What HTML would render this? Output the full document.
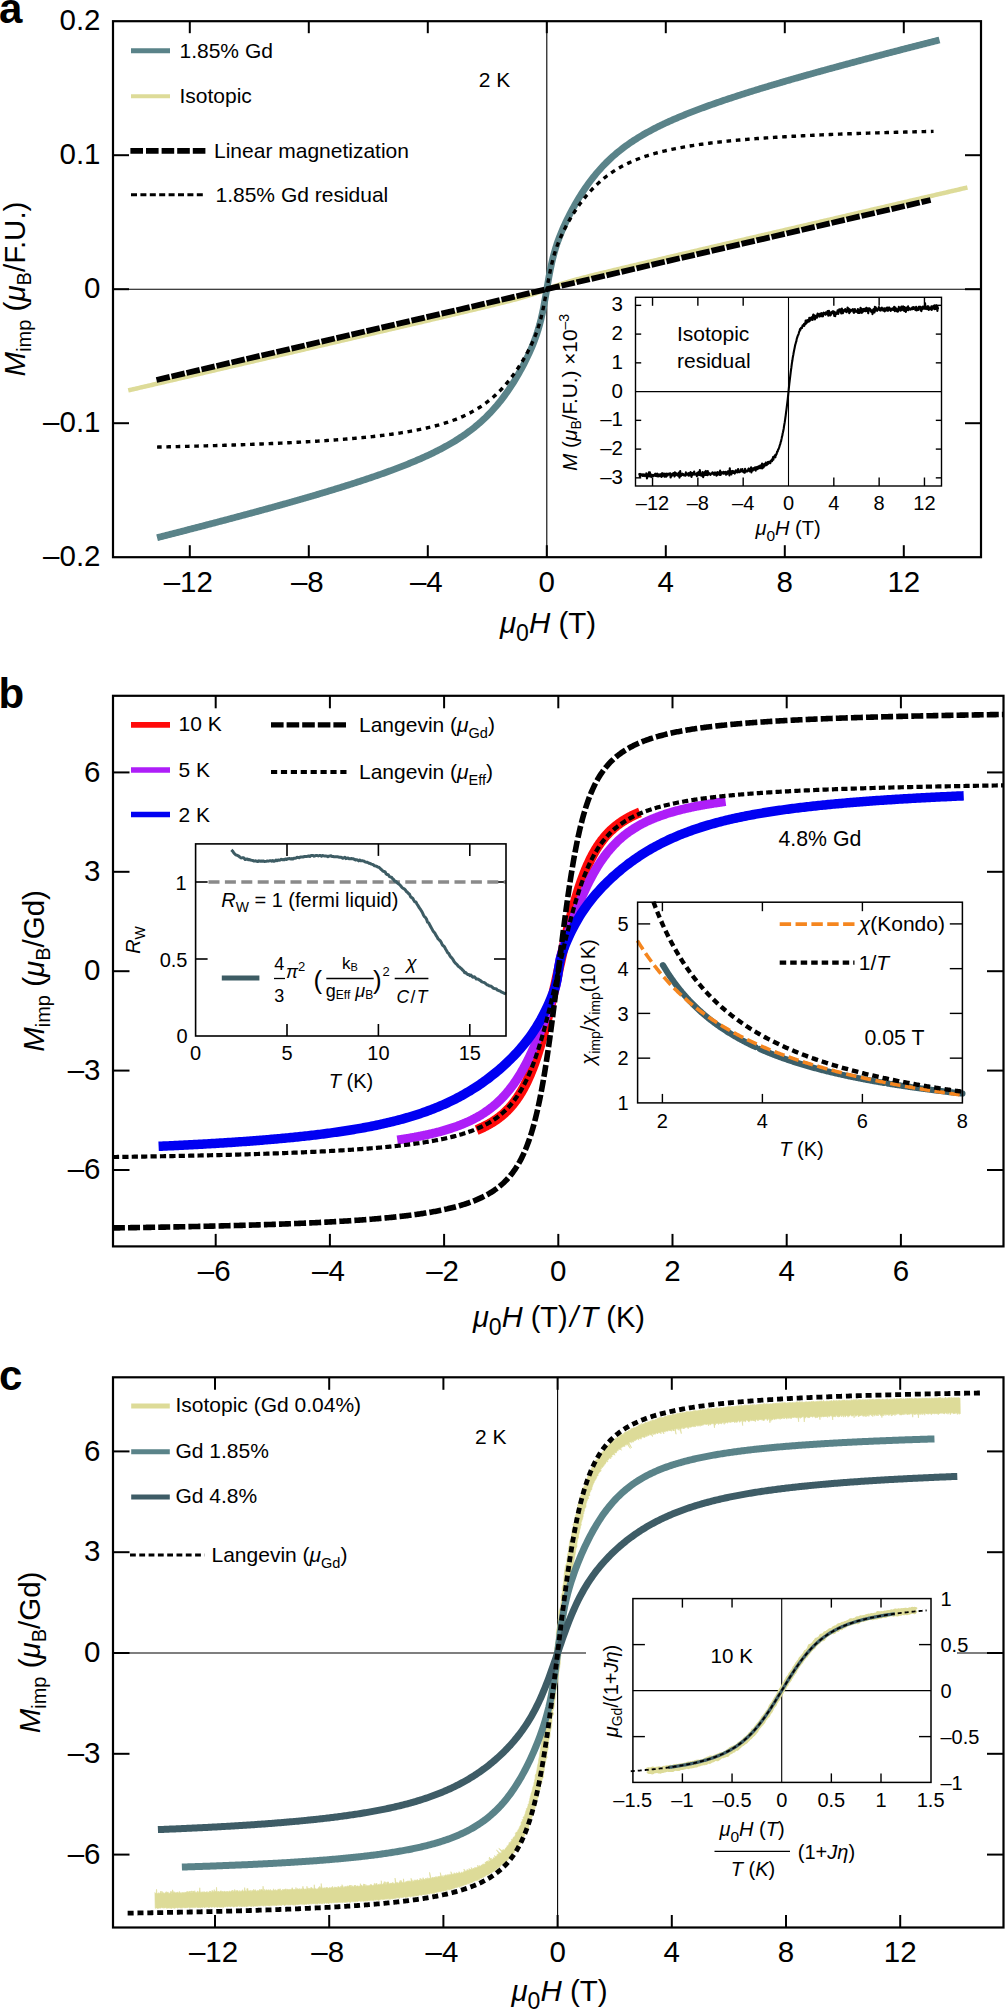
<!DOCTYPE html>
<html><head><meta charset="utf-8"><style>
html,body{margin:0;padding:0;background:#fff;}
svg{display:block;font-family:"Liberation Sans", sans-serif;}
</style></head><body>
<svg width="1005" height="2011" viewBox="0 0 1005 2011">
<rect width="1005" height="2011" fill="#fff"/>
<line x1="113" y1="289.2" x2="981" y2="289.2" stroke="#000" stroke-width="1.1" />
<line x1="546.8" y1="21.2" x2="546.8" y2="557.2" stroke="#000" stroke-width="1.1" />
<line x1="189.8" y1="557.2" x2="189.8" y2="545.2" stroke="#000" stroke-width="2" />
<line x1="189.8" y1="21.2" x2="189.8" y2="33.2" stroke="#000" stroke-width="2" />
<line x1="308.8" y1="557.2" x2="308.8" y2="545.2" stroke="#000" stroke-width="2" />
<line x1="308.8" y1="21.2" x2="308.8" y2="33.2" stroke="#000" stroke-width="2" />
<line x1="427.8" y1="557.2" x2="427.8" y2="545.2" stroke="#000" stroke-width="2" />
<line x1="427.8" y1="21.2" x2="427.8" y2="33.2" stroke="#000" stroke-width="2" />
<line x1="546.8" y1="557.2" x2="546.8" y2="545.2" stroke="#000" stroke-width="2" />
<line x1="546.8" y1="21.2" x2="546.8" y2="33.2" stroke="#000" stroke-width="2" />
<line x1="665.8" y1="557.2" x2="665.8" y2="545.2" stroke="#000" stroke-width="2" />
<line x1="665.8" y1="21.2" x2="665.8" y2="33.2" stroke="#000" stroke-width="2" />
<line x1="784.8" y1="557.2" x2="784.8" y2="545.2" stroke="#000" stroke-width="2" />
<line x1="784.8" y1="21.2" x2="784.8" y2="33.2" stroke="#000" stroke-width="2" />
<line x1="903.8" y1="557.2" x2="903.8" y2="545.2" stroke="#000" stroke-width="2" />
<line x1="903.8" y1="21.2" x2="903.8" y2="33.2" stroke="#000" stroke-width="2" />
<line x1="113" y1="423.2" x2="129" y2="423.2" stroke="#000" stroke-width="2" />
<line x1="981" y1="423.2" x2="965" y2="423.2" stroke="#000" stroke-width="2" />
<line x1="113" y1="289.2" x2="129" y2="289.2" stroke="#000" stroke-width="2" />
<line x1="981" y1="289.2" x2="965" y2="289.2" stroke="#000" stroke-width="2" />
<line x1="113" y1="155.2" x2="129" y2="155.2" stroke="#000" stroke-width="2" />
<line x1="981" y1="155.2" x2="965" y2="155.2" stroke="#000" stroke-width="2" />
<text x="188.3" y="592" font-size="29.5" text-anchor="middle" >&#8211;12</text>
<text x="307.3" y="592" font-size="29.5" text-anchor="middle" >&#8211;8</text>
<text x="426.3" y="592" font-size="29.5" text-anchor="middle" >&#8211;4</text>
<text x="546.8" y="592" font-size="29.5" text-anchor="middle" >0</text>
<text x="665.8" y="592" font-size="29.5" text-anchor="middle" >4</text>
<text x="784.8" y="592" font-size="29.5" text-anchor="middle" >8</text>
<text x="903.8" y="592" font-size="29.5" text-anchor="middle" >12</text>
<text x="100.5" y="30.4" font-size="29.5" text-anchor="end" >0.2</text>
<text x="100.5" y="164.4" font-size="29.5" text-anchor="end" >0.1</text>
<text x="100.5" y="298.4" font-size="29.5" text-anchor="end" >0</text>
<text x="100.5" y="432.4" font-size="29.5" text-anchor="end" >&#8211;0.1</text>
<text x="100.5" y="566.4" font-size="29.5" text-anchor="end" >&#8211;0.2</text>
<path d="M128.22,390.42 L129.9,390.03 L131.58,389.64 L133.26,389.25 L134.94,388.86 L136.63,388.46 L138.31,388.07 L139.99,387.68 L141.67,387.29 L143.35,386.9 L145.04,386.51 L146.72,386.12 L148.4,385.72 L150.08,385.33 L151.76,384.94 L153.45,384.55 L155.13,384.16 L156.81,383.77 L158.49,383.38 L160.17,382.98 L161.85,382.59 L163.54,382.2 L165.22,381.81 L166.9,381.42 L168.58,381.03 L170.26,380.64 L171.95,380.24 L173.63,379.85 L175.31,379.46 L176.99,379.07 L178.67,378.68 L180.36,378.29 L182.04,377.9 L183.72,377.5 L185.4,377.11 L187.08,376.72 L188.76,376.33 L190.45,375.94 L192.13,375.55 L193.81,375.16 L195.49,374.76 L197.17,374.37 L198.86,373.98 L200.54,373.59 L202.22,373.2 L203.9,372.81 L205.58,372.41 L207.26,372.02 L208.95,371.63 L210.63,371.24 L212.31,370.85 L213.99,370.46 L215.67,370.07 L217.36,369.67 L219.04,369.28 L220.72,368.89 L222.4,368.5 L224.08,368.11 L225.77,367.72 L227.45,367.32 L229.13,366.93 L230.81,366.54 L232.49,366.15 L234.17,365.76 L235.86,365.37 L237.54,364.97 L239.22,364.58 L240.9,364.19 L242.58,363.8 L244.27,363.41 L245.95,363.02 L247.63,362.62 L249.31,362.23 L250.99,361.84 L252.68,361.45 L254.36,361.06 L256.04,360.67 L257.72,360.27 L259.4,359.88 L261.08,359.49 L262.77,359.1 L264.45,358.71 L266.13,358.32 L267.81,357.92 L269.49,357.53 L271.18,357.14 L272.86,356.75 L274.54,356.36 L276.22,355.96 L277.9,355.57 L279.58,355.18 L281.27,354.79 L282.95,354.4 L284.63,354.01 L286.31,353.61 L287.99,353.22 L289.68,352.83 L291.36,352.44 L293.04,352.05 L294.72,351.65 L296.4,351.26 L298.09,350.87 L299.77,350.48 L301.45,350.09 L303.13,349.69 L304.81,349.3 L306.49,348.91 L308.18,348.52 L309.86,348.13 L311.54,347.73 L313.22,347.34 L314.9,346.95 L316.59,346.56 L318.27,346.16 L319.95,345.77 L321.63,345.38 L323.31,344.99 L324.99,344.6 L326.68,344.2 L328.36,343.81 L330.04,343.42 L331.72,343.03 L333.4,342.63 L335.09,342.24 L336.77,341.85 L338.45,341.46 L340.13,341.07 L341.81,340.67 L343.5,340.28 L345.18,339.89 L346.86,339.5 L348.54,339.1 L350.22,338.71 L351.9,338.32 L353.59,337.93 L355.27,337.53 L356.95,337.14 L358.63,336.75 L360.31,336.35 L362,335.96 L363.68,335.57 L365.36,335.18 L367.04,334.78 L368.72,334.39 L370.41,334 L372.09,333.6 L373.77,333.21 L375.45,332.82 L377.13,332.43 L378.81,332.03 L380.5,331.64 L382.18,331.25 L383.86,330.85 L385.54,330.46 L387.22,330.07 L388.91,329.67 L390.59,329.28 L392.27,328.89 L393.95,328.49 L395.63,328.1 L397.31,327.71 L399,327.31 L400.68,326.92 L402.36,326.52 L404.04,326.13 L405.72,325.74 L407.41,325.34 L409.09,324.95 L410.77,324.55 L412.45,324.16 L414.13,323.77 L415.82,323.37 L417.5,322.98 L419.18,322.58 L420.86,322.19 L422.54,321.79 L424.22,321.4 L425.91,321 L427.59,320.61 L429.27,320.21 L430.95,319.82 L432.63,319.42 L434.32,319.03 L436,318.63 L437.68,318.24 L439.36,317.84 L441.04,317.44 L442.73,317.05 L444.41,316.65 L446.09,316.25 L447.77,315.86 L449.45,315.46 L451.13,315.06 L452.82,314.66 L454.5,314.27 L456.18,313.87 L457.86,313.47 L459.54,313.07 L461.23,312.67 L462.91,312.27 L464.59,311.87 L466.27,311.47 L467.95,311.07 L469.63,310.67 L471.32,310.27 L473,309.87 L474.68,309.47 L476.36,309.07 L478.04,308.66 L479.73,308.26 L481.41,307.86 L483.09,307.45 L484.77,307.05 L486.45,306.64 L488.14,306.23 L489.82,305.82 L491.5,305.41 L493.18,305 L494.86,304.59 L496.54,304.18 L498.23,303.76 L499.91,303.35 L501.59,302.93 L503.27,302.51 L504.95,302.08 L506.64,301.66 L508.32,301.23 L510,300.8 L511.68,300.36 L513.36,299.92 L515.05,299.48 L516.73,299.03 L518.41,298.58 L520.09,298.11 L521.77,297.65 L523.45,297.17 L525.14,296.68 L526.82,296.18 L528.5,295.67 L530.18,295.15 L531.86,294.61 L533.55,294.06 L535.23,293.5 L536.91,292.92 L538.59,292.32 L540.27,291.71 L541.95,291.09 L543.64,290.46 L545.32,289.81 L547,289.12 L548.68,288.44 L550.36,287.79 L552.05,287.16 L553.73,286.54 L555.41,285.94 L557.09,285.34 L558.77,284.77 L560.46,284.2 L562.14,283.66 L563.82,283.12 L565.5,282.61 L567.18,282.1 L568.86,281.6 L570.55,281.12 L572.23,280.64 L573.91,280.17 L575.59,279.71 L577.27,279.26 L578.96,278.81 L580.64,278.37 L582.32,277.93 L584,277.5 L585.68,277.07 L587.36,276.64 L589.05,276.21 L590.73,275.79 L592.41,275.37 L594.09,274.95 L595.77,274.54 L597.46,274.12 L599.14,273.71 L600.82,273.3 L602.5,272.89 L604.18,272.48 L605.87,272.07 L607.55,271.66 L609.23,271.26 L610.91,270.85 L612.59,270.45 L614.27,270.04 L615.96,269.64 L617.64,269.24 L619.32,268.83 L621,268.43 L622.68,268.03 L624.37,267.63 L626.05,267.23 L627.73,266.83 L629.41,266.43 L631.09,266.03 L632.78,265.63 L634.46,265.23 L636.14,264.83 L637.82,264.44 L639.5,264.04 L641.18,263.64 L642.87,263.24 L644.55,262.85 L646.23,262.45 L647.91,262.05 L649.59,261.66 L651.28,261.26 L652.96,260.86 L654.64,260.47 L656.32,260.07 L658,259.67 L659.68,259.28 L661.37,258.88 L663.05,258.49 L664.73,258.09 L666.41,257.7 L668.09,257.3 L669.78,256.91 L671.46,256.51 L673.14,256.12 L674.82,255.72 L676.5,255.33 L678.19,254.93 L679.87,254.54 L681.55,254.15 L683.23,253.75 L684.91,253.36 L686.59,252.96 L688.28,252.57 L689.96,252.18 L691.64,251.78 L693.32,251.39 L695,250.99 L696.69,250.6 L698.37,250.21 L700.05,249.81 L701.73,249.42 L703.41,249.03 L705.1,248.63 L706.78,248.24 L708.46,247.85 L710.14,247.45 L711.82,247.06 L713.5,246.67 L715.19,246.27 L716.87,245.88 L718.55,245.49 L720.23,245.09 L721.91,244.7 L723.6,244.31 L725.28,243.92 L726.96,243.52 L728.64,243.13 L730.32,242.74 L732,242.34 L733.69,241.95 L735.37,241.56 L737.05,241.17 L738.73,240.77 L740.41,240.38 L742.1,239.99 L743.78,239.6 L745.46,239.2 L747.14,238.81 L748.82,238.42 L750.51,238.03 L752.19,237.63 L753.87,237.24 L755.55,236.85 L757.23,236.46 L758.91,236.06 L760.6,235.67 L762.28,235.28 L763.96,234.89 L765.64,234.49 L767.32,234.1 L769.01,233.71 L770.69,233.32 L772.37,232.93 L774.05,232.53 L775.73,232.14 L777.41,231.75 L779.1,231.36 L780.78,230.97 L782.46,230.57 L784.14,230.18 L785.82,229.79 L787.51,229.4 L789.19,229.01 L790.87,228.61 L792.55,228.22 L794.23,227.83 L795.92,227.44 L797.6,227.05 L799.28,226.65 L800.96,226.26 L802.64,225.87 L804.32,225.48 L806.01,225.09 L807.69,224.69 L809.37,224.3 L811.05,223.91 L812.73,223.52 L814.42,223.13 L816.1,222.73 L817.78,222.34 L819.46,221.95 L821.14,221.56 L822.83,221.17 L824.51,220.77 L826.19,220.38 L827.87,219.99 L829.55,219.6 L831.23,219.21 L832.92,218.82 L834.6,218.42 L836.28,218.03 L837.96,217.64 L839.64,217.25 L841.33,216.86 L843.01,216.47 L844.69,216.07 L846.37,215.68 L848.05,215.29 L849.73,214.9 L851.42,214.51 L853.1,214.12 L854.78,213.72 L856.46,213.33 L858.14,212.94 L859.83,212.55 L861.51,212.16 L863.19,211.77 L864.87,211.37 L866.55,210.98 L868.24,210.59 L869.92,210.2 L871.6,209.81 L873.28,209.42 L874.96,209.02 L876.64,208.63 L878.33,208.24 L880.01,207.85 L881.69,207.46 L883.37,207.07 L885.05,206.68 L886.74,206.28 L888.42,205.89 L890.1,205.5 L891.78,205.11 L893.46,204.72 L895.15,204.33 L896.83,203.93 L898.51,203.54 L900.19,203.15 L901.87,202.76 L903.55,202.37 L905.24,201.98 L906.92,201.59 L908.6,201.19 L910.28,200.8 L911.96,200.41 L913.65,200.02 L915.33,199.63 L917.01,199.24 L918.69,198.84 L920.37,198.45 L922.05,198.06 L923.74,197.67 L925.42,197.28 L927.1,196.89 L928.78,196.5 L930.46,196.1 L932.15,195.71 L933.83,195.32 L935.51,194.93 L937.19,194.54 L938.87,194.15 L940.56,193.76 L942.24,193.36 L943.92,192.97 L945.6,192.58 L947.28,192.19 L948.96,191.8 L950.65,191.41 L952.33,191.02 L954.01,190.63 L955.69,190.23 L957.37,189.84 L959.06,189.45 L960.74,189.06 L962.42,188.67 L964.1,188.28 L965.78,187.89 L967.46,187.49" fill="none" stroke="#dddb98" stroke-width="4.5" stroke-linecap="butt" stroke-linejoin="round" />
<path d="M157.07,537.69 L158.38,537.36 L159.69,537.03 L160.99,536.7 L162.3,536.36 L163.61,536.03 L164.91,535.7 L166.22,535.36 L167.52,535.03 L168.83,534.7 L170.14,534.36 L171.44,534.03 L172.75,533.69 L174.06,533.36 L175.36,533.02 L176.67,532.69 L177.97,532.35 L179.28,532.02 L180.59,531.68 L181.89,531.34 L183.2,531.01 L184.51,530.67 L185.81,530.34 L187.12,530 L188.42,529.66 L189.73,529.32 L191.04,528.99 L192.34,528.65 L193.65,528.31 L194.96,527.97 L196.26,527.63 L197.57,527.29 L198.87,526.95 L200.18,526.61 L201.49,526.27 L202.79,525.93 L204.1,525.59 L205.41,525.25 L206.71,524.91 L208.02,524.57 L209.32,524.23 L210.63,523.89 L211.94,523.54 L213.24,523.2 L214.55,522.86 L215.85,522.52 L217.16,522.17 L218.47,521.83 L219.77,521.49 L221.08,521.14 L222.39,520.8 L223.69,520.45 L225,520.11 L226.3,519.76 L227.61,519.41 L228.92,519.07 L230.22,518.72 L231.53,518.37 L232.84,518.03 L234.14,517.68 L235.45,517.33 L236.75,516.98 L238.06,516.63 L239.37,516.28 L240.67,515.93 L241.98,515.58 L243.29,515.23 L244.59,514.88 L245.9,514.53 L247.2,514.18 L248.51,513.83 L249.82,513.47 L251.12,513.12 L252.43,512.77 L253.74,512.41 L255.04,512.06 L256.35,511.7 L257.65,511.35 L258.96,510.99 L260.27,510.64 L261.57,510.28 L262.88,509.92 L264.18,509.57 L265.49,509.21 L266.8,508.85 L268.1,508.49 L269.41,508.13 L270.72,507.77 L272.02,507.41 L273.33,507.05 L274.63,506.69 L275.94,506.32 L277.25,505.96 L278.55,505.6 L279.86,505.23 L281.17,504.87 L282.47,504.5 L283.78,504.14 L285.08,503.77 L286.39,503.4 L287.7,503.04 L289,502.67 L290.31,502.3 L291.62,501.93 L292.92,501.56 L294.23,501.19 L295.53,500.81 L296.84,500.44 L298.15,500.07 L299.45,499.69 L300.76,499.32 L302.07,498.94 L303.37,498.57 L304.68,498.19 L305.98,497.81 L307.29,497.43 L308.6,497.05 L309.9,496.67 L311.21,496.29 L312.52,495.91 L313.82,495.53 L315.13,495.14 L316.43,494.76 L317.74,494.37 L319.05,493.99 L320.35,493.6 L321.66,493.21 L322.96,492.82 L324.27,492.43 L325.58,492.04 L326.88,491.64 L328.19,491.25 L329.5,490.86 L330.8,490.46 L332.11,490.06 L333.41,489.66 L334.72,489.27 L336.03,488.86 L337.33,488.46 L338.64,488.06 L339.95,487.66 L341.25,487.25 L342.56,486.84 L343.86,486.43 L345.17,486.03 L346.48,485.61 L347.78,485.2 L349.09,484.79 L350.4,484.37 L351.7,483.96 L353.01,483.54 L354.31,483.12 L355.62,482.7 L356.93,482.27 L358.23,481.85 L359.54,481.42 L360.85,481 L362.15,480.57 L363.46,480.13 L364.76,479.7 L366.07,479.27 L367.38,478.83 L368.68,478.39 L369.99,477.95 L371.29,477.5 L372.6,477.06 L373.91,476.61 L375.21,476.16 L376.52,475.71 L377.83,475.26 L379.13,474.8 L380.44,474.34 L381.74,473.88 L383.05,473.42 L384.36,472.95 L385.66,472.48 L386.97,472.01 L388.28,471.53 L389.58,471.06 L390.89,470.58 L392.19,470.09 L393.5,469.61 L394.81,469.12 L396.11,468.62 L397.42,468.13 L398.73,467.63 L400.03,467.13 L401.34,466.62 L402.64,466.11 L403.95,465.6 L405.26,465.08 L406.56,464.56 L407.87,464.03 L409.18,463.5 L410.48,462.97 L411.79,462.43 L413.09,461.89 L414.4,461.34 L415.71,460.79 L417.01,460.23 L418.32,459.67 L419.62,459.1 L420.93,458.52 L422.24,457.95 L423.54,457.36 L424.85,456.77 L426.16,456.17 L427.46,455.57 L428.77,454.96 L430.07,454.35 L431.38,453.72 L432.69,453.09 L433.99,452.46 L435.3,451.81 L436.61,451.16 L437.91,450.5 L439.22,449.83 L440.52,449.15 L441.83,448.46 L443.14,447.77 L444.44,447.06 L445.75,446.35 L447.06,445.62 L448.36,444.89 L449.67,444.14 L450.97,443.38 L452.28,442.61 L453.59,441.83 L454.89,441.03 L456.2,440.23 L457.51,439.41 L458.81,438.57 L460.12,437.72 L461.42,436.86 L462.73,435.98 L464.04,435.09 L465.34,434.18 L466.65,433.25 L467.96,432.3 L469.26,431.34 L470.57,430.36 L471.87,429.35 L473.18,428.33 L474.49,427.29 L475.79,426.22 L477.1,425.14 L478.4,424.03 L479.71,422.89 L481.02,421.73 L482.32,420.55 L483.63,419.34 L484.94,418.1 L486.24,416.83 L487.55,415.54 L488.85,414.21 L490.16,412.86 L491.47,411.47 L492.77,410.05 L494.08,408.59 L495.39,407.11 L496.69,405.58 L498,404.02 L499.3,402.42 L500.61,400.79 L501.92,399.11 L503.22,397.4 L504.53,395.64 L505.84,393.84 L507.14,392 L508.45,390.11 L509.75,388.18 L511.06,386.2 L512.37,384.17 L513.67,382.1 L514.98,379.98 L516.29,377.8 L517.59,375.58 L518.9,373.3 L520.2,370.96 L521.51,368.57 L522.82,366.11 L524.12,363.59 L525.43,361.01 L526.73,358.35 L528.04,355.61 L529.35,352.78 L530.65,349.85 L531.96,346.8 L533.27,343.61 L534.57,340.24 L535.88,336.67 L537.18,332.82 L538.49,328.62 L539.8,323.99 L541.1,318.82 L542.41,313.02 L543.72,306.56 L545.02,299.47 L546.33,291.96 L547.63,284.33 L548.94,276.91 L550.25,269.98 L551.55,263.7 L552.86,258.08 L554.17,253.07 L555.47,248.57 L556.78,244.48 L558.08,240.72 L559.39,237.2 L560.7,233.89 L562,230.74 L563.31,227.73 L564.62,224.83 L565.92,222.02 L567.23,219.31 L568.53,216.67 L569.84,214.1 L571.15,211.6 L572.45,209.16 L573.76,206.79 L575.06,204.47 L576.37,202.2 L577.68,199.99 L578.98,197.83 L580.29,195.72 L581.6,193.66 L582.9,191.65 L584.21,189.68 L585.51,187.76 L586.82,185.89 L588.13,184.06 L589.43,182.27 L590.74,180.52 L592.05,178.82 L593.35,177.15 L594.66,175.53 L595.96,173.94 L597.27,172.39 L598.58,170.88 L599.88,169.4 L601.19,167.95 L602.5,166.54 L603.8,165.17 L605.11,163.82 L606.41,162.5 L607.72,161.21 L609.03,159.96 L610.33,158.73 L611.64,157.52 L612.95,156.34 L614.25,155.19 L615.56,154.06 L616.86,152.96 L618.17,151.88 L619.48,150.82 L620.78,149.78 L622.09,148.77 L623.4,147.77 L624.7,146.79 L626.01,145.83 L627.31,144.89 L628.62,143.97 L629.93,143.06 L631.23,142.17 L632.54,141.3 L633.84,140.44 L635.15,139.59 L636.46,138.76 L637.76,137.95 L639.07,137.14 L640.38,136.35 L641.68,135.57 L642.99,134.81 L644.29,134.05 L645.6,133.31 L646.91,132.58 L648.21,131.85 L649.52,131.14 L650.83,130.44 L652.13,129.75 L653.44,129.06 L654.74,128.39 L656.05,127.72 L657.36,127.06 L658.66,126.41 L659.97,125.77 L661.28,125.13 L662.58,124.5 L663.89,123.88 L665.19,123.27 L666.5,122.66 L667.81,122.06 L669.11,121.46 L670.42,120.88 L671.73,120.29 L673.03,119.72 L674.34,119.14 L675.64,118.58 L676.95,118.02 L678.26,117.46 L679.56,116.91 L680.87,116.36 L682.17,115.82 L683.48,115.28 L684.79,114.75 L686.09,114.22 L687.4,113.7 L688.71,113.18 L690.01,112.66 L691.32,112.15 L692.62,111.64 L693.93,111.13 L695.24,110.63 L696.54,110.13 L697.85,109.64 L699.16,109.15 L700.46,108.66 L701.77,108.17 L703.07,107.69 L704.38,107.21 L705.69,106.73 L706.99,106.26 L708.3,105.79 L709.61,105.32 L710.91,104.86 L712.22,104.39 L713.52,103.93 L714.83,103.47 L716.14,103.02 L717.44,102.56 L718.75,102.11 L720.06,101.66 L721.36,101.22 L722.67,100.77 L723.97,100.33 L725.28,99.89 L726.59,99.45 L727.89,99.01 L729.2,98.58 L730.51,98.15 L731.81,97.72 L733.12,97.29 L734.42,96.86 L735.73,96.43 L737.04,96.01 L738.34,95.59 L739.65,95.16 L740.95,94.75 L742.26,94.33 L743.57,93.91 L744.87,93.5 L746.18,93.08 L747.49,92.67 L748.79,92.26 L750.1,91.85 L751.4,91.44 L752.71,91.04 L754.02,90.63 L755.32,90.23 L756.63,89.83 L757.94,89.42 L759.24,89.02 L760.55,88.62 L761.85,88.23 L763.16,87.83 L764.47,87.43 L765.77,87.04 L767.08,86.65 L768.39,86.25 L769.69,85.86 L771,85.47 L772.3,85.08 L773.61,84.69 L774.92,84.31 L776.22,83.92 L777.53,83.54 L778.84,83.15 L780.14,82.77 L781.45,82.38 L782.75,82 L784.06,81.62 L785.37,81.24 L786.67,80.86 L787.98,80.48 L789.28,80.11 L790.59,79.73 L791.9,79.35 L793.2,78.98 L794.51,78.6 L795.82,78.23 L797.12,77.86 L798.43,77.48 L799.73,77.11 L801.04,76.74 L802.35,76.37 L803.65,76 L804.96,75.63 L806.27,75.26 L807.57,74.89 L808.88,74.53 L810.18,74.16 L811.49,73.8 L812.8,73.43 L814.1,73.07 L815.41,72.7 L816.72,72.34 L818.02,71.98 L819.33,71.61 L820.63,71.25 L821.94,70.89 L823.25,70.53 L824.55,70.17 L825.86,69.81 L827.17,69.45 L828.47,69.09 L829.78,68.73 L831.08,68.38 L832.39,68.02 L833.7,67.66 L835,67.31 L836.31,66.95 L837.61,66.6 L838.92,66.24 L840.23,65.89 L841.53,65.53 L842.84,65.18 L844.15,64.83 L845.45,64.48 L846.76,64.12 L848.06,63.77 L849.37,63.42 L850.68,63.07 L851.98,62.72 L853.29,62.37 L854.6,62.02 L855.9,61.67 L857.21,61.32 L858.51,60.97 L859.82,60.62 L861.13,60.28 L862.43,59.93 L863.74,59.58 L865.05,59.24 L866.35,58.89 L867.66,58.54 L868.96,58.2 L870.27,57.85 L871.58,57.51 L872.88,57.16 L874.19,56.82 L875.5,56.48 L876.8,56.13 L878.11,55.79 L879.41,55.45 L880.72,55.1 L882.03,54.76 L883.33,54.42 L884.64,54.08 L885.95,53.74 L887.25,53.39 L888.56,53.05 L889.86,52.71 L891.17,52.37 L892.48,52.03 L893.78,51.69 L895.09,51.35 L896.39,51.01 L897.7,50.67 L899.01,50.34 L900.31,50 L901.62,49.66 L902.93,49.32 L904.23,48.98 L905.54,48.65 L906.84,48.31 L908.15,47.97 L909.46,47.63 L910.76,47.3 L912.07,46.96 L913.38,46.63 L914.68,46.29 L915.99,45.95 L917.29,45.62 L918.6,45.28 L919.91,44.95 L921.21,44.61 L922.52,44.28 L923.83,43.95 L925.13,43.61 L926.44,43.28 L927.74,42.94 L929.05,42.61 L930.36,42.28 L931.66,41.94 L932.97,41.61 L934.28,41.28 L935.58,40.95 L936.89,40.61 L938.19,40.28 L939.5,39.95" fill="none" stroke="#5a8389" stroke-width="6.8" stroke-linecap="butt" stroke-linejoin="round" />
<path d="M156.48,379.95 L930.58,199.97" fill="none" stroke="#000" stroke-width="5.8" stroke-linecap="butt" stroke-linejoin="round" stroke-dasharray="13.6 1.8" />
<path d="M157.07,447.08 L158.37,447.05 L159.67,447.02 L160.96,446.99 L162.26,446.97 L163.56,446.94 L164.85,446.91 L166.15,446.88 L167.45,446.85 L168.74,446.82 L170.04,446.79 L171.33,446.76 L172.63,446.73 L173.93,446.7 L175.22,446.66 L176.52,446.63 L177.82,446.6 L179.11,446.57 L180.41,446.54 L181.7,446.51 L183,446.47 L184.3,446.44 L185.59,446.41 L186.89,446.38 L188.19,446.34 L189.48,446.31 L190.78,446.27 L192.07,446.24 L193.37,446.21 L194.67,446.17 L195.96,446.14 L197.26,446.1 L198.56,446.07 L199.85,446.03 L201.15,446 L202.44,445.96 L203.74,445.92 L205.04,445.89 L206.33,445.85 L207.63,445.81 L208.93,445.77 L210.22,445.74 L211.52,445.7 L212.82,445.66 L214.11,445.62 L215.41,445.58 L216.7,445.54 L218,445.5 L219.3,445.46 L220.59,445.42 L221.89,445.38 L223.19,445.34 L224.48,445.3 L225.78,445.26 L227.07,445.22 L228.37,445.18 L229.67,445.13 L230.96,445.09 L232.26,445.05 L233.56,445 L234.85,444.96 L236.15,444.91 L237.44,444.87 L238.74,444.83 L240.04,444.78 L241.33,444.73 L242.63,444.69 L243.93,444.64 L245.22,444.59 L246.52,444.55 L247.81,444.5 L249.11,444.45 L250.41,444.4 L251.7,444.35 L253,444.3 L254.3,444.25 L255.59,444.2 L256.89,444.15 L258.19,444.1 L259.48,444.05 L260.78,444 L262.07,443.94 L263.37,443.89 L264.67,443.84 L265.96,443.78 L267.26,443.73 L268.56,443.67 L269.85,443.62 L271.15,443.56 L272.44,443.5 L273.74,443.45 L275.04,443.39 L276.33,443.33 L277.63,443.27 L278.93,443.21 L280.22,443.15 L281.52,443.09 L282.81,443.03 L284.11,442.97 L285.41,442.9 L286.7,442.84 L288,442.78 L289.3,442.71 L290.59,442.65 L291.89,442.58 L293.18,442.52 L294.48,442.45 L295.78,442.38 L297.07,442.31 L298.37,442.24 L299.67,442.17 L300.96,442.1 L302.26,442.03 L303.56,441.96 L304.85,441.88 L306.15,441.81 L307.44,441.74 L308.74,441.66 L310.04,441.58 L311.33,441.51 L312.63,441.43 L313.93,441.35 L315.22,441.27 L316.52,441.19 L317.81,441.11 L319.11,441.03 L320.41,440.94 L321.7,440.86 L323,440.77 L324.3,440.69 L325.59,440.6 L326.89,440.51 L328.18,440.42 L329.48,440.33 L330.78,440.24 L332.07,440.15 L333.37,440.05 L334.67,439.96 L335.96,439.86 L337.26,439.77 L338.55,439.67 L339.85,439.57 L341.15,439.47 L342.44,439.36 L343.74,439.26 L345.04,439.16 L346.33,439.05 L347.63,438.94 L348.93,438.83 L350.22,438.72 L351.52,438.61 L352.81,438.5 L354.11,438.38 L355.41,438.27 L356.7,438.15 L358,438.03 L359.3,437.91 L360.59,437.78 L361.89,437.66 L363.18,437.53 L364.48,437.4 L365.78,437.27 L367.07,437.14 L368.37,437.01 L369.67,436.87 L370.96,436.73 L372.26,436.59 L373.55,436.45 L374.85,436.31 L376.15,436.16 L377.44,436.01 L378.74,435.86 L380.04,435.71 L381.33,435.55 L382.63,435.39 L383.92,435.23 L385.22,435.07 L386.52,434.9 L387.81,434.74 L389.11,434.56 L390.41,434.39 L391.7,434.21 L393,434.03 L394.3,433.85 L395.59,433.66 L396.89,433.47 L398.18,433.28 L399.48,433.09 L400.78,432.89 L402.07,432.68 L403.37,432.48 L404.67,432.27 L405.96,432.05 L407.26,431.83 L408.55,431.61 L409.85,431.38 L411.15,431.15 L412.44,430.92 L413.74,430.68 L415.04,430.43 L416.33,430.18 L417.63,429.93 L418.92,429.67 L420.22,429.41 L421.52,429.14 L422.81,428.86 L424.11,428.58 L425.41,428.29 L426.7,428 L428,427.7 L429.29,427.39 L430.59,427.08 L431.89,426.76 L433.18,426.43 L434.48,426.1 L435.78,425.76 L437.07,425.41 L438.37,425.05 L439.67,424.69 L440.96,424.31 L442.26,423.93 L443.55,423.54 L444.85,423.14 L446.15,422.72 L447.44,422.3 L448.74,421.87 L450.04,421.43 L451.33,420.97 L452.63,420.51 L453.92,420.03 L455.22,419.54 L456.52,419.04 L457.81,418.52 L459.11,417.99 L460.41,417.45 L461.7,416.89 L463,416.32 L464.29,415.73 L465.59,415.12 L466.89,414.5 L468.18,413.86 L469.48,413.2 L470.78,412.52 L472.07,411.82 L473.37,411.11 L474.66,410.37 L475.96,409.61 L477.26,408.83 L478.55,408.03 L479.85,407.2 L481.15,406.35 L482.44,405.47 L483.74,404.57 L485.04,403.64 L486.33,402.68 L487.63,401.7 L488.92,400.68 L490.22,399.64 L491.52,398.56 L492.81,397.45 L494.11,396.31 L495.41,395.13 L496.7,393.92 L498,392.67 L499.29,391.39 L500.59,390.07 L501.89,388.71 L503.18,387.31 L504.48,385.87 L505.78,384.38 L507.07,382.86 L508.37,381.29 L509.66,379.68 L510.96,378.02 L512.26,376.31 L513.55,374.56 L514.85,372.76 L516.15,370.91 L517.44,369.01 L518.74,367.05 L520.03,365.04 L521.33,362.98 L522.63,360.85 L523.92,358.66 L525.22,356.41 L526.52,354.08 L527.81,351.68 L529.11,349.19 L530.41,346.6 L531.7,343.9 L533,341.07 L534.29,338.07 L535.59,334.87 L536.89,331.42 L538.18,327.64 L539.48,323.46 L540.78,318.77 L542.07,313.49 L543.37,307.54 L544.66,300.97 L545.96,293.91 L547.26,286.63 L548.55,279.47 L549.85,272.73 L551.15,266.6 L552.44,261.12 L553.74,256.26 L555.03,251.94 L556.33,248.06 L557.63,244.52 L558.92,241.25 L560.22,238.2 L561.52,235.32 L562.81,232.58 L564.11,229.96 L565.4,227.45 L566.7,225.02 L568,222.67 L569.29,220.4 L570.59,218.19 L571.89,216.05 L573.18,213.96 L574.48,211.94 L575.78,209.96 L577.07,208.05 L578.37,206.18 L579.66,204.37 L580.96,202.6 L582.26,200.88 L583.55,199.21 L584.85,197.58 L586.15,196 L587.44,194.46 L588.74,192.97 L590.03,191.51 L591.33,190.1 L592.63,188.73 L593.92,187.4 L595.22,186.1 L596.52,184.84 L597.81,183.62 L599.11,182.43 L600.4,181.28 L601.7,180.16 L603,179.08 L604.29,178.02 L605.59,177 L606.89,176 L608.18,175.04 L609.48,174.1 L610.77,173.19 L612.07,172.31 L613.37,171.45 L614.66,170.61 L615.96,169.8 L617.26,169.01 L618.55,168.25 L619.85,167.51 L621.15,166.78 L622.44,166.08 L623.74,165.4 L625.03,164.74 L626.33,164.09 L627.63,163.46 L628.92,162.85 L630.22,162.26 L631.52,161.68 L632.81,161.12 L634.11,160.57 L635.4,160.03 L636.7,159.51 L638,159.01 L639.29,158.51 L640.59,158.03 L641.89,157.56 L643.18,157.1 L644.48,156.66 L645.77,156.22 L647.07,155.8 L648.37,155.38 L649.66,154.98 L650.96,154.58 L652.26,154.2 L653.55,153.82 L654.85,153.45 L656.14,153.09 L657.44,152.74 L658.74,152.4 L660.03,152.06 L661.33,151.73 L662.63,151.41 L663.92,151.1 L665.22,150.79 L666.52,150.49 L667.81,150.19 L669.11,149.9 L670.4,149.62 L671.7,149.34 L673,149.07 L674.29,148.81 L675.59,148.55 L676.89,148.29 L678.18,148.04 L679.48,147.79 L680.77,147.55 L682.07,147.32 L683.37,147.08 L684.66,146.86 L685.96,146.63 L687.26,146.41 L688.55,146.2 L689.85,145.99 L691.14,145.78 L692.44,145.57 L693.74,145.37 L695.03,145.18 L696.33,144.98 L697.63,144.79 L698.92,144.6 L700.22,144.42 L701.51,144.24 L702.81,144.06 L704.11,143.89 L705.4,143.71 L706.7,143.54 L708,143.38 L709.29,143.21 L710.59,143.05 L711.89,142.89 L713.18,142.74 L714.48,142.58 L715.77,142.43 L717.07,142.28 L718.37,142.14 L719.66,141.99 L720.96,141.85 L722.26,141.71 L723.55,141.57 L724.85,141.43 L726.14,141.3 L727.44,141.16 L728.74,141.03 L730.03,140.91 L731.33,140.78 L732.63,140.65 L733.92,140.53 L735.22,140.41 L736.51,140.29 L737.81,140.17 L739.11,140.05 L740.4,139.94 L741.7,139.82 L743,139.71 L744.29,139.6 L745.59,139.49 L746.88,139.38 L748.18,139.28 L749.48,139.17 L750.77,139.07 L752.07,138.96 L753.37,138.86 L754.66,138.76 L755.96,138.66 L757.26,138.57 L758.55,138.47 L759.85,138.37 L761.14,138.28 L762.44,138.19 L763.74,138.09 L765.03,138 L766.33,137.91 L767.63,137.83 L768.92,137.74 L770.22,137.65 L771.51,137.57 L772.81,137.48 L774.11,137.4 L775.4,137.31 L776.7,137.23 L778,137.15 L779.29,137.07 L780.59,136.99 L781.88,136.92 L783.18,136.84 L784.48,136.76 L785.77,136.69 L787.07,136.61 L788.37,136.54 L789.66,136.46 L790.96,136.39 L792.25,136.32 L793.55,136.25 L794.85,136.18 L796.14,136.11 L797.44,136.04 L798.74,135.97 L800.03,135.9 L801.33,135.84 L802.63,135.77 L803.92,135.71 L805.22,135.64 L806.51,135.58 L807.81,135.51 L809.11,135.45 L810.4,135.39 L811.7,135.33 L813,135.27 L814.29,135.21 L815.59,135.15 L816.88,135.09 L818.18,135.03 L819.48,134.97 L820.77,134.91 L822.07,134.86 L823.37,134.8 L824.66,134.74 L825.96,134.69 L827.25,134.63 L828.55,134.58 L829.85,134.53 L831.14,134.47 L832.44,134.42 L833.74,134.37 L835.03,134.32 L836.33,134.26 L837.62,134.21 L838.92,134.16 L840.22,134.11 L841.51,134.06 L842.81,134.01 L844.11,133.96 L845.4,133.92 L846.7,133.87 L848,133.82 L849.29,133.77 L850.59,133.73 L851.88,133.68 L853.18,133.63 L854.48,133.59 L855.77,133.54 L857.07,133.5 L858.37,133.45 L859.66,133.41 L860.96,133.37 L862.25,133.32 L863.55,133.28 L864.85,133.24 L866.14,133.19 L867.44,133.15 L868.74,133.11 L870.03,133.07 L871.33,133.03 L872.62,132.99 L873.92,132.95 L875.22,132.91 L876.51,132.87 L877.81,132.83 L879.11,132.79 L880.4,132.75 L881.7,132.71 L882.99,132.67 L884.29,132.64 L885.59,132.6 L886.88,132.56 L888.18,132.52 L889.48,132.49 L890.77,132.45 L892.07,132.42 L893.37,132.38 L894.66,132.34 L895.96,132.31 L897.25,132.27 L898.55,132.24 L899.85,132.2 L901.14,132.17 L902.44,132.14 L903.74,132.1 L905.03,132.07 L906.33,132.03 L907.62,132 L908.92,131.97 L910.22,131.94 L911.51,131.9 L912.81,131.87 L914.11,131.84 L915.4,131.81 L916.7,131.78 L917.99,131.74 L919.29,131.71 L920.59,131.68 L921.88,131.65 L923.18,131.62 L924.48,131.59 L925.77,131.56 L927.07,131.53 L928.36,131.5 L929.66,131.47 L930.96,131.44 L932.25,131.41 L933.55,131.39" fill="none" stroke="#000" stroke-width="3.4" stroke-linecap="butt" stroke-linejoin="round" stroke-dasharray="4.6 4.7" />
<path d="M131,50.8 L170,50.8" fill="none" stroke="#5a8389" stroke-width="5" stroke-linecap="butt" stroke-linejoin="round" />
<path d="M131,96.2 L170,96.2" fill="none" stroke="#dddb98" stroke-width="4" stroke-linecap="butt" stroke-linejoin="round" />
<path d="M130.4,150.9 L206,150.9" fill="none" stroke="#000" stroke-width="5.6" stroke-linecap="butt" stroke-linejoin="round" stroke-dasharray="12.6 3" />
<path d="M131,194.8 L204,194.8" fill="none" stroke="#000" stroke-width="3" stroke-linecap="butt" stroke-linejoin="round" stroke-dasharray="6 3.4" />
<text x="179.5" y="57.5" font-size="21" text-anchor="start" >1.85% Gd</text>
<text x="179.5" y="103" font-size="21" text-anchor="start" >Isotopic</text>
<text x="214" y="157.5" font-size="21" text-anchor="start" >Linear magnetization</text>
<text x="215.5" y="201.5" font-size="21" text-anchor="start" >1.85% Gd residual</text>
<text x="478.8" y="87" font-size="21" text-anchor="start" >2 K</text>
<rect x="113" y="21.2" width="868" height="536" fill="none" stroke="#000" stroke-width="2.2"/>
<text x="548" y="633" font-size="29.5" text-anchor="middle" ><tspan font-style="italic">&#956;</tspan><tspan font-size="23" dy="8">0</tspan><tspan font-style="italic" dy="-8">H</tspan> (T)</text>
<text transform="translate(25,289) rotate(-90)" font-size="29.5" text-anchor="middle"><tspan font-style="italic">M</tspan><tspan font-size="20" dy="6">imp</tspan><tspan dy="-6"> (</tspan><tspan font-style="italic">&#956;</tspan><tspan font-size="20" dy="6">B</tspan><tspan dy="-6">/F.U.)</tspan></text>
<text x="-1" y="22.8" font-size="42" font-weight="bold">a</text>
<rect x="635.5" y="297.3" width="306.0" height="188.7" fill="#fff" stroke="none"/>
<line x1="635.5" y1="391.6" x2="941.5" y2="391.6" stroke="#000" stroke-width="1.1" />
<line x1="788.5" y1="297.3" x2="788.5" y2="486" stroke="#000" stroke-width="1.1" />
<line x1="652.54" y1="486" x2="652.54" y2="477.5" stroke="#000" stroke-width="1.4" />
<line x1="652.54" y1="297.3" x2="652.54" y2="305.8" stroke="#000" stroke-width="1.4" />
<line x1="697.86" y1="486" x2="697.86" y2="477.5" stroke="#000" stroke-width="1.4" />
<line x1="697.86" y1="297.3" x2="697.86" y2="305.8" stroke="#000" stroke-width="1.4" />
<line x1="743.18" y1="486" x2="743.18" y2="477.5" stroke="#000" stroke-width="1.4" />
<line x1="743.18" y1="297.3" x2="743.18" y2="305.8" stroke="#000" stroke-width="1.4" />
<line x1="833.82" y1="486" x2="833.82" y2="477.5" stroke="#000" stroke-width="1.4" />
<line x1="833.82" y1="297.3" x2="833.82" y2="305.8" stroke="#000" stroke-width="1.4" />
<line x1="879.14" y1="486" x2="879.14" y2="477.5" stroke="#000" stroke-width="1.4" />
<line x1="879.14" y1="297.3" x2="879.14" y2="305.8" stroke="#000" stroke-width="1.4" />
<line x1="924.46" y1="486" x2="924.46" y2="477.5" stroke="#000" stroke-width="1.4" />
<line x1="924.46" y1="297.3" x2="924.46" y2="305.8" stroke="#000" stroke-width="1.4" />
<line x1="635.5" y1="477.85" x2="641.2" y2="477.85" stroke="#000" stroke-width="1.4" />
<line x1="941.5" y1="477.85" x2="935.8" y2="477.85" stroke="#000" stroke-width="1.4" />
<line x1="635.5" y1="449.1" x2="641.2" y2="449.1" stroke="#000" stroke-width="1.4" />
<line x1="941.5" y1="449.1" x2="935.8" y2="449.1" stroke="#000" stroke-width="1.4" />
<line x1="635.5" y1="420.35" x2="641.2" y2="420.35" stroke="#000" stroke-width="1.4" />
<line x1="941.5" y1="420.35" x2="935.8" y2="420.35" stroke="#000" stroke-width="1.4" />
<line x1="635.5" y1="362.85" x2="641.2" y2="362.85" stroke="#000" stroke-width="1.4" />
<line x1="941.5" y1="362.85" x2="935.8" y2="362.85" stroke="#000" stroke-width="1.4" />
<line x1="635.5" y1="334.1" x2="641.2" y2="334.1" stroke="#000" stroke-width="1.4" />
<line x1="941.5" y1="334.1" x2="935.8" y2="334.1" stroke="#000" stroke-width="1.4" />
<line x1="635.5" y1="305.35" x2="641.2" y2="305.35" stroke="#000" stroke-width="1.4" />
<line x1="941.5" y1="305.35" x2="935.8" y2="305.35" stroke="#000" stroke-width="1.4" />
<path d="M638.94,474.67 L639.28,474.05 L639.61,474.68 L639.94,476.79 L640.27,473.93 L640.61,474.52 L640.94,475.79 L641.27,474.34 L641.61,474.61 L641.94,474.7 L642.27,475.04 L642.6,474.36 L642.94,476.02 L643.27,475.27 L643.6,475.68 L643.93,474.28 L644.27,475 L644.6,475.42 L644.93,476.05 L645.27,475.37 L645.6,475.02 L645.93,475.38 L646.26,473.35 L646.6,473.71 L646.93,478.52 L647.26,477.45 L647.59,475.23 L647.93,475.54 L648.26,474.72 L648.59,474.71 L648.93,472.24 L649.26,476.42 L649.59,475.46 L649.92,472.33 L650.26,474.13 L650.59,474.1 L650.92,475.62 L651.25,477.08 L651.59,474.73 L651.92,474.8 L652.25,476.52 L652.59,475.81 L652.92,475.02 L653.25,476.14 L653.58,475.04 L653.92,474.78 L654.25,474.86 L654.58,475.55 L654.91,474.12 L655.25,473.73 L655.58,474.47 L655.91,475.94 L656.25,473.92 L656.58,475.51 L656.91,473.72 L657.24,476.24 L657.58,473.67 L657.91,474.87 L658.24,476.45 L658.57,475.24 L658.91,474.76 L659.24,474.47 L659.57,476.09 L659.91,476.24 L660.24,474.55 L660.57,475.4 L660.9,474.49 L661.24,473.81 L661.57,476.91 L661.9,474.45 L662.23,473.19 L662.57,475.15 L662.9,475.81 L663.23,473.78 L663.57,474.42 L663.9,473.58 L664.23,475.18 L664.56,476.65 L664.9,474.86 L665.23,475.29 L665.56,473.71 L665.89,474.45 L666.23,476.81 L666.56,476.24 L666.89,473.54 L667.22,473.8 L667.56,475.5 L667.89,474.67 L668.22,474.08 L668.56,474.05 L668.89,473.51 L669.22,474.31 L669.55,474.76 L669.89,474.96 L670.22,473.25 L670.55,477.52 L670.88,474.78 L671.22,474.56 L671.55,476.44 L671.88,474.15 L672.22,475.42 L672.55,473.46 L672.88,474.73 L673.21,473.69 L673.55,472.97 L673.88,474.05 L674.21,475.67 L674.54,476.49 L674.88,472.25 L675.21,474.66 L675.54,475.4 L675.88,474.31 L676.21,474.74 L676.54,473.38 L676.87,474.43 L677.21,474.45 L677.54,475.39 L677.87,473.85 L678.2,475.78 L678.54,473.58 L678.87,472.46 L679.2,476.4 L679.54,477.61 L679.87,473.61 L680.2,471.1 L680.53,475.69 L680.87,476 L681.2,473.61 L681.53,475.45 L681.86,475.01 L682.2,474.8 L682.53,473.65 L682.86,474.86 L683.2,473.97 L683.53,474.54 L683.86,475.4 L684.19,474.71 L684.53,475.52 L684.86,474.27 L685.19,475.73 L685.52,475.68 L685.86,472.37 L686.19,474.31 L686.52,474.31 L686.86,473.57 L687.19,474.76 L687.52,474.51 L687.85,473.65 L688.19,473.83 L688.52,475.68 L688.85,473.09 L689.18,474.93 L689.52,475.52 L689.85,475.31 L690.18,474.64 L690.52,472.02 L690.85,475.64 L691.18,473.9 L691.51,476.86 L691.85,474.09 L692.18,472.91 L692.51,474.37 L692.84,474.87 L693.18,473.74 L693.51,473.13 L693.84,473.16 L694.17,471.46 L694.51,473.73 L694.84,474.76 L695.17,474.14 L695.51,474.06 L695.84,473.82 L696.17,473.99 L696.5,473.71 L696.84,476.09 L697.17,472.84 L697.5,474.65 L697.83,475.41 L698.17,473.05 L698.5,472.16 L698.83,473.22 L699.17,473.64 L699.5,475.04 L699.83,470.11 L700.16,472.67 L700.5,475.27 L700.83,474.79 L701.16,473.66 L701.49,475.77 L701.83,473.53 L702.16,474.33 L702.49,472.14 L702.83,472.47 L703.16,477.2 L703.49,473.63 L703.82,475.76 L704.16,472.22 L704.49,473.43 L704.82,472.92 L705.15,475 L705.49,471.24 L705.82,470.98 L706.15,474.95 L706.49,473.08 L706.82,474.42 L707.15,473.57 L707.48,475.16 L707.82,471.09 L708.15,474.75 L708.48,473.86 L708.81,472.81 L709.15,474.29 L709.48,473.74 L709.81,474.15 L710.15,473.57 L710.48,474.9 L710.81,473.94 L711.14,473.62 L711.48,473.77 L711.81,473.25 L712.14,473.69 L712.47,472.32 L712.81,473.69 L713.14,473.44 L713.47,474.1 L713.81,473.91 L714.14,474.84 L714.47,472.52 L714.8,474.65 L715.14,474.12 L715.47,472.67 L715.8,472.6 L716.13,473.62 L716.47,475.7 L716.8,472.52 L717.13,472.71 L717.47,474.86 L717.8,472.01 L718.13,473.9 L718.46,474.43 L718.8,472.83 L719.13,473.17 L719.46,472.65 L719.79,474.97 L720.13,470.53 L720.46,473.63 L720.79,474.83 L721.12,472.01 L721.46,473.25 L721.79,472.35 L722.12,473.19 L722.46,472.81 L722.79,472.39 L723.12,473.65 L723.45,471.79 L723.79,473.25 L724.12,473.74 L724.45,472.5 L724.78,472 L725.12,472.85 L725.45,473.64 L725.78,471.7 L726.12,474.76 L726.45,473.79 L726.78,472.38 L727.11,474.17 L727.45,472.34 L727.78,472.43 L728.11,471.17 L728.44,473.49 L728.78,473.09 L729.11,471.82 L729.44,475.4 L729.78,468.19 L730.11,473.07 L730.44,473.09 L730.77,471 L731.11,472.14 L731.44,474.36 L731.77,471.22 L732.1,470.89 L732.44,472.55 L732.77,472.3 L733.1,471.28 L733.44,473.05 L733.77,471.28 L734.1,471.56 L734.43,472.66 L734.77,473.55 L735.1,472.01 L735.43,472.82 L735.76,470.35 L736.1,471.43 L736.43,470.57 L736.76,471.37 L737.1,471.17 L737.43,472.49 L737.76,470.58 L738.09,469.09 L738.43,471.77 L738.76,472.09 L739.09,471.49 L739.42,471.87 L739.76,472.12 L740.09,470.99 L740.42,471.51 L740.76,469.23 L741.09,471.05 L741.42,470.59 L741.75,469.73 L742.09,471.31 L742.42,469.02 L742.75,471.65 L743.08,471.83 L743.42,471.21 L743.75,470.84 L744.08,472.46 L744.42,470.64 L744.75,472.71 L745.08,468.7 L745.41,470.56 L745.75,471.23 L746.08,471.52 L746.41,470.79 L746.74,470.53 L747.08,471.54 L747.41,471.32 L747.74,470.32 L748.07,470.69 L748.41,468.75 L748.74,468.43 L749.07,469.82 L749.41,469.17 L749.74,471.45 L750.07,468.83 L750.4,469.63 L750.74,468.9 L751.07,467.39 L751.4,472.34 L751.73,468.99 L752.07,470.67 L752.4,468.42 L752.73,470.81 L753.07,469.68 L753.4,468.7 L753.73,468.09 L754.06,468.71 L754.4,469.75 L754.73,469.36 L755.06,467.41 L755.39,468.48 L755.73,470.57 L756.06,467.21 L756.39,467.67 L756.73,466.99 L757.06,468.46 L757.39,466.85 L757.72,469.2 L758.06,466.99 L758.39,468.26 L758.72,466.65 L759.05,466.11 L759.39,468.26 L759.72,467.26 L760.05,467.03 L760.39,465.42 L760.72,465.92 L761.05,468.29 L761.38,466 L761.72,465.5 L762.05,463.58 L762.38,468.36 L762.71,466.74 L763.05,464.18 L763.38,467.51 L763.71,467.16 L764.05,464.79 L764.38,463.98 L764.71,466 L765.04,464.26 L765.38,464.64 L765.71,462.65 L766.04,464.43 L766.37,462.99 L766.71,465.17 L767.04,464.07 L767.37,463.75 L767.71,462.07 L768.04,462.52 L768.37,463.84 L768.7,461.97 L769.04,461.64 L769.37,462.36 L769.7,462.26 L770.03,461.91 L770.37,463.18 L770.7,460.95 L771.03,460.6 L771.37,461.37 L771.7,459.49 L772.03,461.15 L772.36,460.02 L772.7,459.57 L773.03,457.01 L773.36,459.75 L773.69,457.47 L774.03,456.74 L774.36,456.76 L774.69,455.66 L775.02,456.87 L775.36,457.29 L775.69,454.47 L776.02,455.32 L776.36,454.09 L776.69,454.03 L777.02,451.89 L777.35,451.33 L777.69,451.6 L778.02,449.84 L778.35,449.5 L778.68,448.79 L779.02,447.78 L779.35,446.97 L779.68,445.55 L780.02,444.65 L780.35,443.84 L780.68,442.05 L781.01,441.51 L781.35,439.82 L781.68,438.38 L782.01,436.53 L782.34,435.72 L782.68,433.34 L783.01,432.16 L783.34,430.48 L783.68,428.73 L784.01,426.44 L784.34,424.52 L784.67,422.64 L785.01,420.4 L785.34,417.96 L785.67,415.58 L786,412.85 L786.34,410.3 L786.67,407.77 L787,405.15 L787.34,402.46 L787.67,399.6 L788,396.59 L788.33,393.32 L788.67,389.85 L789,386.59 L789.33,383.6 L789.66,380.8 L790,378.08 L790.33,375.36 L790.66,372.71 L791,369.93 L791.33,367.72 L791.66,365.09 L791.99,362.68 L792.33,360.79 L792.66,358.28 L792.99,356.43 L793.32,354.77 L793.66,352.7 L793.99,350.98 L794.32,349.36 L794.66,347.73 L794.99,346.06 L795.32,344.49 L795.65,343.63 L795.99,341.96 L796.32,341.38 L796.65,339.4 L796.98,338.1 L797.32,337.26 L797.65,336.19 L797.98,335.07 L798.32,334.86 L798.65,333.77 L798.98,332.51 L799.31,331.43 L799.65,331.07 L799.98,328.95 L800.31,330.02 L800.64,328.64 L800.98,327.83 L801.31,328.26 L801.64,328.24 L801.98,328.01 L802.31,326.48 L802.64,325.24 L802.97,325.46 L803.31,325.1 L803.64,325.16 L803.97,323.94 L804.3,325.98 L804.64,323.48 L804.97,323.31 L805.3,324.31 L805.63,320.55 L805.97,323.75 L806.3,323.16 L806.63,323.01 L806.97,320.32 L807.3,322.17 L807.63,320.23 L807.96,320.05 L808.3,320.17 L808.63,321.73 L808.96,320.71 L809.29,317.79 L809.63,321.12 L809.96,320.38 L810.29,319.36 L810.63,317.94 L810.96,318.45 L811.29,317.63 L811.62,319.79 L811.96,317.01 L812.29,317.33 L812.62,319.97 L812.95,315.75 L813.29,314.62 L813.62,318.43 L813.95,317.22 L814.29,315.34 L814.62,318.93 L814.95,319.45 L815.28,318.42 L815.62,317.35 L815.95,317.23 L816.28,315.58 L816.61,315.89 L816.95,317.74 L817.28,315.28 L817.61,313.47 L817.95,314.24 L818.28,314.4 L818.61,315.55 L818.94,314.2 L819.28,316.62 L819.61,314.3 L819.94,315.29 L820.27,313.62 L820.61,314.39 L820.94,316.31 L821.27,314.65 L821.61,313.15 L821.94,316.1 L822.27,315.28 L822.6,315.47 L822.94,316.33 L823.27,313.07 L823.6,312.55 L823.93,313.13 L824.27,313.78 L824.6,314.09 L824.93,313.64 L825.27,314.82 L825.6,312.65 L825.93,312.39 L826.26,312.47 L826.6,314.3 L826.93,313.44 L827.26,313.7 L827.59,311.11 L827.93,313.13 L828.26,315.73 L828.59,312.72 L828.93,310.75 L829.26,312.24 L829.59,311.93 L829.92,312.97 L830.26,315.51 L830.59,315.25 L830.92,314.46 L831.25,312.96 L831.59,312.35 L831.92,311.81 L832.25,313.09 L832.58,311.36 L832.92,312.92 L833.25,313.42 L833.58,311.36 L833.92,313.6 L834.25,315.9 L834.58,313.69 L834.91,312.16 L835.25,316.22 L835.58,312.66 L835.91,312.58 L836.24,313.96 L836.58,313.99 L836.91,312.63 L837.24,312.7 L837.58,310.32 L837.91,311.43 L838.24,313.92 L838.57,312.94 L838.91,310.89 L839.24,309.31 L839.57,311.22 L839.9,311.29 L840.24,309.25 L840.57,311.65 L840.9,311.98 L841.24,313.38 L841.57,312.18 L841.9,308.66 L842.23,313.29 L842.57,311.4 L842.9,313.21 L843.23,311.19 L843.56,310.17 L843.9,311.61 L844.23,310.32 L844.56,310.3 L844.9,310.62 L845.23,308.95 L845.56,310.14 L845.89,311.51 L846.23,311.97 L846.56,312.15 L846.89,310.42 L847.22,311.42 L847.56,307.45 L847.89,308.57 L848.22,311.2 L848.56,311.32 L848.89,308.68 L849.22,313.28 L849.55,311.4 L849.89,309.56 L850.22,311.95 L850.55,311.36 L850.88,311.18 L851.22,309.84 L851.55,310.5 L851.88,310.13 L852.22,309.86 L852.55,310.56 L852.88,309.14 L853.21,311.5 L853.55,312.39 L853.88,312.81 L854.21,312.59 L854.54,311.18 L854.88,309.12 L855.21,310.2 L855.54,311.18 L855.88,311.77 L856.21,311.05 L856.54,310.87 L856.87,311.06 L857.21,312.16 L857.54,310.9 L857.87,308.95 L858.2,313.06 L858.54,310.54 L858.87,312.95 L859.2,309.95 L859.53,311.14 L859.87,312.85 L860.2,310 L860.53,307.76 L860.87,309.96 L861.2,308.58 L861.53,310.15 L861.86,312.83 L862.2,309.39 L862.53,310.55 L862.86,311.88 L863.19,308.96 L863.53,309.59 L863.86,310.62 L864.19,308.8 L864.53,311.04 L864.86,309.06 L865.19,311.09 L865.52,309.17 L865.86,311.27 L866.19,307.9 L866.52,309.48 L866.85,307.94 L867.19,310.85 L867.52,310.38 L867.85,308.67 L868.19,313.29 L868.52,311.1 L868.85,308.37 L869.18,309.09 L869.52,308.41 L869.85,310.07 L870.18,308.92 L870.51,310.58 L870.85,311.4 L871.18,311.8 L871.51,310.31 L871.85,310.29 L872.18,310.38 L872.51,314.15 L872.84,312.13 L873.18,310.22 L873.51,309.14 L873.84,310.25 L874.17,310.62 L874.51,312.46 L874.84,306.85 L875.17,310.88 L875.51,307.26 L875.84,307.41 L876.17,309.06 L876.5,310.14 L876.84,309.22 L877.17,310.87 L877.5,309.03 L877.83,309.35 L878.17,308.65 L878.5,308.1 L878.83,307.08 L879.17,309.81 L879.5,307.95 L879.83,310.31 L880.16,310.43 L880.5,310.06 L880.83,310.52 L881.16,307.97 L881.49,308.04 L881.83,307.57 L882.16,309.24 L882.49,308.84 L882.83,309.94 L883.16,310.67 L883.49,308.59 L883.82,308.81 L884.16,310.58 L884.49,308.38 L884.82,311.38 L885.15,309.35 L885.49,309.92 L885.82,309.78 L886.15,310.49 L886.48,307.84 L886.82,308.33 L887.15,307.53 L887.48,308.88 L887.82,310.72 L888.15,309.52 L888.48,310.56 L888.81,308.43 L889.15,307.45 L889.48,308.58 L889.81,309.77 L890.14,309.47 L890.48,308.72 L890.81,310.84 L891.14,308.77 L891.48,308.7 L891.81,309.65 L892.14,309.48 L892.47,308.71 L892.81,309.99 L893.14,309.98 L893.47,307.9 L893.8,308.61 L894.14,306.72 L894.47,310.16 L894.8,311.18 L895.14,307.65 L895.47,307.63 L895.8,309.81 L896.13,310.75 L896.47,308.9 L896.8,311.1 L897.13,309.27 L897.46,311.65 L897.8,309.12 L898.13,311.55 L898.46,309.11 L898.8,306.83 L899.13,309.14 L899.46,307.79 L899.79,309.61 L900.13,309.92 L900.46,310.7 L900.79,307.41 L901.12,308.83 L901.46,306.65 L901.79,310.26 L902.12,309.02 L902.46,308.62 L902.79,306.89 L903.12,306.36 L903.45,309.55 L903.79,310.17 L904.12,310.94 L904.45,306.96 L904.78,308.8 L905.12,309.52 L905.45,308.74 L905.78,311.98 L906.12,310.89 L906.45,307.44 L906.78,308.14 L907.11,308.45 L907.45,309.93 L907.78,307.87 L908.11,306.32 L908.44,310.2 L908.78,308.59 L909.11,309.17 L909.44,308.13 L909.78,308.57 L910.11,308.78 L910.44,309.72 L910.77,308.59 L911.11,309.36 L911.44,308.75 L911.77,308.64 L912.1,307.7 L912.44,309.3 L912.77,308.95 L913.1,307.14 L913.43,308.81 L913.77,308.86 L914.1,307.39 L914.43,308.15 L914.77,308.38 L915.1,308.21 L915.43,310.09 L915.76,307.88 L916.1,306.76 L916.43,307.72 L916.76,310.47 L917.09,308.08 L917.43,309.62 L917.76,308.73 L918.09,308.26 L918.43,309.97 L918.76,306.69 L919.09,308.5 L919.42,307.38 L919.76,307.58 L920.09,306.65 L920.42,306.84 L920.75,310.29 L921.09,308.32 L921.42,311.13 L921.75,308.94 L922.09,307.43 L922.42,307.17 L922.75,306.67 L923.08,308.82 L923.42,307.92 L923.75,308.2 L924.08,306.68 L924.41,306.26 L924.75,308.77 L925.08,303.41 L925.41,308.3 L925.75,308.77 L926.08,307.51 L926.41,307.3 L926.74,307.57 L927.08,309.11 L927.41,306.36 L927.74,308.19 L928.07,306.26 L928.41,306.44 L928.74,309.89 L929.07,309.5 L929.41,309.52 L929.74,307.9 L930.07,308.15 L930.4,307.86 L930.74,309.26 L931.07,307.65 L931.4,306.38 L931.73,309.92 L932.07,308.44 L932.4,307.86 L932.73,308.34 L933.07,308.42 L933.4,305.88 L933.73,306.5 L934.06,307.06 L934.4,309.13 L934.73,305.25 L935.06,307.67 L935.39,308.88 L935.73,308.57 L936.06,308.76 L936.39,305.38 L936.73,307.85 L937.06,308.03 L937.39,310.89 L937.72,307.15 L938.06,309.47" fill="none" stroke="#000" stroke-width="2.1" stroke-linecap="butt" stroke-linejoin="round" />
<rect x="635.5" y="297.3" width="306" height="188.7" fill="none" stroke="#000" stroke-width="1.4"/>
<text x="652.54" y="509.5" font-size="20" text-anchor="middle" >&#8211;12</text>
<text x="697.86" y="509.5" font-size="20" text-anchor="middle" >&#8211;8</text>
<text x="743.18" y="509.5" font-size="20" text-anchor="middle" >&#8211;4</text>
<text x="788.5" y="509.5" font-size="20" text-anchor="middle" >0</text>
<text x="833.82" y="509.5" font-size="20" text-anchor="middle" >4</text>
<text x="879.14" y="509.5" font-size="20" text-anchor="middle" >8</text>
<text x="924.46" y="509.5" font-size="20" text-anchor="middle" >12</text>
<text x="623" y="483.85" font-size="20.5" text-anchor="end" >&#8211;3</text>
<text x="623" y="455.1" font-size="20.5" text-anchor="end" >&#8211;2</text>
<text x="623" y="426.35" font-size="20.5" text-anchor="end" >&#8211;1</text>
<text x="623" y="397.6" font-size="20.5" text-anchor="end" >0</text>
<text x="623" y="368.85" font-size="20.5" text-anchor="end" >1</text>
<text x="623" y="340.1" font-size="20.5" text-anchor="end" >2</text>
<text x="623" y="311.35" font-size="20.5" text-anchor="end" >3</text>
<text x="677" y="341.4" font-size="21" text-anchor="start" >Isotopic</text>
<text x="677" y="367.5" font-size="21" text-anchor="start" >residual</text>
<text x="788" y="535" font-size="20" text-anchor="middle" ><tspan font-style="italic">&#956;</tspan><tspan font-size="15.5" dy="5.5">0</tspan><tspan font-style="italic" dy="-5.5">H</tspan> (T)</text>
<text transform="translate(576.8,392.5) rotate(-90)" font-size="20.8" text-anchor="middle"><tspan font-style="italic">M</tspan> (<tspan font-style="italic">&#956;</tspan><tspan font-size="14" dy="4">B</tspan><tspan dy="-4">/F.U.) &#215;10</tspan><tspan font-size="14" dy="-8">&#8211;3</tspan></text>
<line x1="215.7" y1="1246.4" x2="215.7" y2="1233.9" stroke="#000" stroke-width="2" />
<line x1="215.7" y1="695.8" x2="215.7" y2="708.3" stroke="#000" stroke-width="2" />
<text x="214.2" y="1280.5" font-size="29.5" text-anchor="middle" >&#8211;6</text>
<line x1="329.9" y1="1246.4" x2="329.9" y2="1233.9" stroke="#000" stroke-width="2" />
<line x1="329.9" y1="695.8" x2="329.9" y2="708.3" stroke="#000" stroke-width="2" />
<text x="328.4" y="1280.5" font-size="29.5" text-anchor="middle" >&#8211;4</text>
<line x1="444.1" y1="1246.4" x2="444.1" y2="1233.9" stroke="#000" stroke-width="2" />
<line x1="444.1" y1="695.8" x2="444.1" y2="708.3" stroke="#000" stroke-width="2" />
<text x="442.6" y="1280.5" font-size="29.5" text-anchor="middle" >&#8211;2</text>
<line x1="558.3" y1="1246.4" x2="558.3" y2="1233.9" stroke="#000" stroke-width="2" />
<line x1="558.3" y1="695.8" x2="558.3" y2="708.3" stroke="#000" stroke-width="2" />
<text x="558.3" y="1280.5" font-size="29.5" text-anchor="middle" >0</text>
<line x1="672.5" y1="1246.4" x2="672.5" y2="1233.9" stroke="#000" stroke-width="2" />
<line x1="672.5" y1="695.8" x2="672.5" y2="708.3" stroke="#000" stroke-width="2" />
<text x="672.5" y="1280.5" font-size="29.5" text-anchor="middle" >2</text>
<line x1="786.7" y1="1246.4" x2="786.7" y2="1233.9" stroke="#000" stroke-width="2" />
<line x1="786.7" y1="695.8" x2="786.7" y2="708.3" stroke="#000" stroke-width="2" />
<text x="786.7" y="1280.5" font-size="29.5" text-anchor="middle" >4</text>
<line x1="900.9" y1="1246.4" x2="900.9" y2="1233.9" stroke="#000" stroke-width="2" />
<line x1="900.9" y1="695.8" x2="900.9" y2="708.3" stroke="#000" stroke-width="2" />
<text x="900.9" y="1280.5" font-size="29.5" text-anchor="middle" >6</text>
<line x1="113" y1="1169.98" x2="129.5" y2="1169.98" stroke="#000" stroke-width="2" />
<line x1="1003.5" y1="1169.98" x2="987" y2="1169.98" stroke="#000" stroke-width="2" />
<text x="100.5" y="1179.18" font-size="29.5" text-anchor="end" >&#8211;6</text>
<line x1="113" y1="1070.59" x2="129.5" y2="1070.59" stroke="#000" stroke-width="2" />
<line x1="1003.5" y1="1070.59" x2="987" y2="1070.59" stroke="#000" stroke-width="2" />
<text x="100.5" y="1079.79" font-size="29.5" text-anchor="end" >&#8211;3</text>
<line x1="113" y1="971.2" x2="129.5" y2="971.2" stroke="#000" stroke-width="2" />
<line x1="1003.5" y1="971.2" x2="987" y2="971.2" stroke="#000" stroke-width="2" />
<text x="100.5" y="980.4" font-size="29.5" text-anchor="end" >0</text>
<line x1="113" y1="871.81" x2="129.5" y2="871.81" stroke="#000" stroke-width="2" />
<line x1="1003.5" y1="871.81" x2="987" y2="871.81" stroke="#000" stroke-width="2" />
<text x="100.5" y="881.01" font-size="29.5" text-anchor="end" >3</text>
<line x1="113" y1="772.42" x2="129.5" y2="772.42" stroke="#000" stroke-width="2" />
<line x1="1003.5" y1="772.42" x2="987" y2="772.42" stroke="#000" stroke-width="2" />
<text x="100.5" y="781.62" font-size="29.5" text-anchor="end" >6</text>
<path d="M476.65,1130.03 L477.19,1129.81 L477.74,1129.58 L478.29,1129.35 L478.83,1129.12 L479.38,1128.88 L479.92,1128.64 L480.47,1128.4 L481.02,1128.15 L481.56,1127.9 L482.11,1127.65 L482.65,1127.39 L483.2,1127.13 L483.75,1126.87 L484.29,1126.6 L484.84,1126.33 L485.39,1126.05 L485.93,1125.77 L486.48,1125.48 L487.02,1125.19 L487.57,1124.9 L488.12,1124.6 L488.66,1124.3 L489.21,1123.99 L489.76,1123.68 L490.3,1123.36 L490.85,1123.04 L491.39,1122.72 L491.94,1122.38 L492.49,1122.05 L493.03,1121.7 L493.58,1121.35 L494.12,1121 L494.67,1120.64 L495.22,1120.27 L495.76,1119.9 L496.31,1119.52 L496.86,1119.14 L497.4,1118.74 L497.95,1118.35 L498.49,1117.94 L499.04,1117.53 L499.59,1117.11 L500.13,1116.68 L500.68,1116.24 L501.22,1115.8 L501.77,1115.35 L502.32,1114.89 L502.86,1114.42 L503.41,1113.95 L503.96,1113.46 L504.5,1112.97 L505.05,1112.47 L505.59,1111.95 L506.14,1111.43 L506.69,1110.9 L507.23,1110.36 L507.78,1109.8 L508.33,1109.24 L508.87,1108.66 L509.42,1108.08 L509.96,1107.48 L510.51,1106.87 L511.06,1106.25 L511.6,1105.61 L512.15,1104.96 L512.69,1104.3 L513.24,1103.63 L513.79,1102.94 L514.33,1102.24 L514.88,1101.52 L515.43,1100.79 L515.97,1100.05 L516.52,1099.29 L517.06,1098.51 L517.61,1097.71 L518.16,1096.9 L518.7,1096.07 L519.25,1095.23 L519.79,1094.37 L520.34,1093.48 L520.89,1092.58 L521.43,1091.66 L521.98,1090.73 L522.53,1089.77 L523.07,1088.79 L523.62,1087.79 L524.16,1086.76 L524.71,1085.72 L525.26,1084.66 L525.8,1083.57 L526.35,1082.46 L526.89,1081.32 L527.44,1080.16 L527.99,1078.98 L528.53,1077.77 L529.08,1076.54 L529.63,1075.28 L530.17,1073.99 L530.72,1072.68 L531.26,1071.34 L531.81,1069.97 L532.36,1068.58 L532.9,1067.16 L533.45,1065.71 L534,1064.23 L534.54,1062.72 L535.09,1061.18 L535.63,1059.62 L536.18,1058.02 L536.73,1056.39 L537.27,1054.74 L537.82,1053.05 L538.36,1051.34 L538.91,1049.59 L539.46,1047.81 L540,1046.01 L540.55,1044.17 L541.1,1042.3 L541.64,1040.4 L542.19,1038.48 L542.73,1036.52 L543.28,1034.53 L543.83,1032.52 L544.37,1030.48 L544.92,1028.4 L545.46,1026.31 L546.01,1024.18 L546.56,1022.03 L547.1,1019.85 L547.65,1017.65 L548.2,1015.42 L548.74,1013.17 L549.29,1010.9 L549.83,1008.61 L550.38,1006.3 L550.93,1003.96 L551.47,1001.61 L552.02,999.24 L552.57,996.86 L553.11,994.46 L553.66,992.05 L554.2,989.63 L554.75,987.19 L555.3,984.75 L555.84,982.29 L556.39,979.84 L556.93,977.37 L557.48,974.9 L558.03,972.44 L558.57,969.96 L559.12,967.5 L559.67,965.03 L560.21,962.56 L560.76,960.11 L561.3,957.65 L561.85,955.21 L562.4,952.77 L562.94,950.35 L563.49,947.94 L564.03,945.54 L564.58,943.16 L565.13,940.79 L565.67,938.44 L566.22,936.1 L566.77,933.79 L567.31,931.5 L567.86,929.23 L568.4,926.98 L568.95,924.75 L569.5,922.55 L570.04,920.37 L570.59,918.22 L571.14,916.09 L571.68,914 L572.23,911.92 L572.77,909.88 L573.32,907.87 L573.87,905.88 L574.41,903.92 L574.96,902 L575.5,900.1 L576.05,898.23 L576.6,896.39 L577.14,894.59 L577.69,892.81 L578.24,891.06 L578.78,889.35 L579.33,887.66 L579.87,886.01 L580.42,884.38 L580.97,882.78 L581.51,881.22 L582.06,879.68 L582.6,878.17 L583.15,876.69 L583.7,875.24 L584.24,873.82 L584.79,872.43 L585.34,871.06 L585.88,869.72 L586.43,868.41 L586.97,867.12 L587.52,865.86 L588.07,864.63 L588.61,863.42 L589.16,862.24 L589.7,861.08 L590.25,859.94 L590.8,858.83 L591.34,857.74 L591.89,856.68 L592.44,855.64 L592.98,854.61 L593.53,853.61 L594.07,852.63 L594.62,851.67 L595.17,850.74 L595.71,849.82 L596.26,848.92 L596.81,848.03 L597.35,847.17 L597.9,846.33 L598.44,845.5 L598.99,844.69 L599.54,843.89 L600.08,843.11 L600.63,842.35 L601.17,841.61 L601.72,840.88 L602.27,840.16 L602.81,839.46 L603.36,838.77 L603.91,838.1 L604.45,837.44 L605,836.79 L605.54,836.15 L606.09,835.53 L606.64,834.92 L607.18,834.32 L607.73,833.74 L608.27,833.16 L608.82,832.6 L609.37,832.04 L609.91,831.5 L610.46,830.97 L611.01,830.45 L611.55,829.93 L612.1,829.43 L612.64,828.94 L613.19,828.45 L613.74,827.98 L614.28,827.51 L614.83,827.05 L615.38,826.6 L615.92,826.16 L616.47,825.72 L617.01,825.29 L617.56,824.87 L618.11,824.46 L618.65,824.05 L619.2,823.66 L619.74,823.26 L620.29,822.88 L620.84,822.5 L621.38,822.13 L621.93,821.76 L622.48,821.4 L623.02,821.05 L623.57,820.7 L624.11,820.35 L624.66,820.02 L625.21,819.68 L625.75,819.36 L626.3,819.04 L626.84,818.72 L627.39,818.41 L627.94,818.1 L628.48,817.8 L629.03,817.5 L629.58,817.21 L630.12,816.92 L630.67,816.63 L631.21,816.35 L631.76,816.07 L632.31,815.8 L632.85,815.53 L633.4,815.27 L633.95,815.01 L634.49,814.75 L635.04,814.5 L635.58,814.25 L636.13,814 L636.68,813.76 L637.22,813.52 L637.77,813.28 L638.31,813.05 L638.86,812.82 L639.41,812.59 L639.95,812.37" fill="none" stroke="#ff0a0a" stroke-width="10" stroke-linecap="butt" stroke-linejoin="round" />
<path d="M397.28,1140.01 L398.1,1139.89 L398.92,1139.76 L399.75,1139.64 L400.57,1139.52 L401.39,1139.39 L402.22,1139.27 L403.04,1139.14 L403.86,1139.01 L404.68,1138.88 L405.51,1138.75 L406.33,1138.61 L407.15,1138.48 L407.98,1138.34 L408.8,1138.2 L409.62,1138.07 L410.44,1137.92 L411.27,1137.78 L412.09,1137.64 L412.91,1137.49 L413.74,1137.34 L414.56,1137.2 L415.38,1137.04 L416.2,1136.89 L417.03,1136.74 L417.85,1136.58 L418.67,1136.42 L419.5,1136.26 L420.32,1136.1 L421.14,1135.94 L421.96,1135.77 L422.79,1135.61 L423.61,1135.44 L424.43,1135.26 L425.26,1135.09 L426.08,1134.91 L426.9,1134.74 L427.72,1134.56 L428.55,1134.37 L429.37,1134.19 L430.19,1134 L431.02,1133.81 L431.84,1133.62 L432.66,1133.42 L433.48,1133.23 L434.31,1133.03 L435.13,1132.82 L435.95,1132.62 L436.78,1132.41 L437.6,1132.2 L438.42,1131.98 L439.24,1131.77 L440.07,1131.55 L440.89,1131.33 L441.71,1131.1 L442.54,1130.87 L443.36,1130.64 L444.18,1130.4 L445,1130.16 L445.83,1129.92 L446.65,1129.67 L447.47,1129.42 L448.3,1129.17 L449.12,1128.91 L449.94,1128.65 L450.76,1128.39 L451.59,1128.12 L452.41,1127.85 L453.23,1127.57 L454.06,1127.29 L454.88,1127 L455.7,1126.71 L456.52,1126.42 L457.35,1126.12 L458.17,1125.81 L458.99,1125.5 L459.82,1125.19 L460.64,1124.87 L461.46,1124.54 L462.28,1124.21 L463.11,1123.87 L463.93,1123.53 L464.75,1123.19 L465.58,1122.83 L466.4,1122.47 L467.22,1122.11 L468.04,1121.73 L468.87,1121.36 L469.69,1120.97 L470.51,1120.58 L471.34,1120.18 L472.16,1119.77 L472.98,1119.36 L473.8,1118.94 L474.63,1118.51 L475.45,1118.07 L476.27,1117.62 L477.1,1117.17 L477.92,1116.71 L478.74,1116.24 L479.56,1115.75 L480.39,1115.26 L481.21,1114.77 L482.03,1114.26 L482.86,1113.74 L483.68,1113.21 L484.5,1112.67 L485.33,1112.12 L486.15,1111.56 L486.97,1110.98 L487.79,1110.4 L488.62,1109.8 L489.44,1109.19 L490.26,1108.57 L491.09,1107.93 L491.91,1107.29 L492.73,1106.62 L493.55,1105.95 L494.38,1105.26 L495.2,1104.55 L496.02,1103.84 L496.85,1103.1 L497.67,1102.35 L498.49,1101.58 L499.31,1100.8 L500.14,1100 L500.96,1099.18 L501.78,1098.35 L502.61,1097.49 L503.43,1096.62 L504.25,1095.73 L505.07,1094.82 L505.9,1093.88 L506.72,1092.93 L507.54,1091.96 L508.37,1090.97 L509.19,1089.95 L510.01,1088.91 L510.83,1087.85 L511.66,1086.77 L512.48,1085.66 L513.3,1084.53 L514.13,1083.37 L514.95,1082.19 L515.77,1080.99 L516.59,1079.75 L517.42,1078.49 L518.24,1077.21 L519.06,1075.9 L519.89,1074.56 L520.71,1073.19 L521.53,1071.79 L522.35,1070.37 L523.18,1068.92 L524,1067.43 L524.82,1065.92 L525.65,1064.38 L526.47,1062.81 L527.29,1061.21 L528.11,1059.57 L528.94,1057.91 L529.76,1056.22 L530.58,1054.49 L531.41,1052.74 L532.23,1050.96 L533.05,1049.14 L533.87,1047.3 L534.7,1045.42 L535.52,1043.51 L536.34,1041.58 L537.17,1039.61 L537.99,1037.62 L538.81,1035.59 L539.63,1033.54 L540.46,1031.46 L541.28,1029.35 L542.1,1027.21 L542.93,1025.05 L543.75,1022.86 L544.57,1020.65 L545.39,1018.4 L546.22,1016.13 L547.04,1013.84 L547.86,1011.52 L548.69,1009.17 L549.51,1006.79 L550.33,1004.39 L551.15,1001.94 L551.98,999.46 L552.8,996.91 L553.62,994.3 L554.45,991.56 L555.27,988.62 L556.09,985.29 L556.91,981.17 L557.74,975.68 L558.56,969.08 L559.38,963.07 L560.21,958.5 L561.03,954.94 L561.85,951.89 L562.67,949.09 L563.5,946.44 L564.32,943.87 L565.14,941.36 L565.97,938.91 L566.79,936.48 L567.61,934.1 L568.43,931.74 L569.26,929.41 L570.08,927.1 L570.9,924.83 L571.73,922.57 L572.55,920.35 L573.37,918.15 L574.19,915.98 L575.02,913.83 L575.84,911.71 L576.66,909.62 L577.49,907.56 L578.31,905.52 L579.13,903.52 L579.96,901.54 L580.78,899.59 L581.6,897.68 L582.42,895.79 L583.25,893.93 L584.07,892.11 L584.89,890.31 L585.72,888.55 L586.54,886.81 L587.36,885.11 L588.18,883.43 L589.01,881.79 L589.83,880.18 L590.65,878.59 L591.48,877.04 L592.3,875.52 L593.12,874.03 L593.94,872.56 L594.77,871.13 L595.59,869.72 L596.41,868.34 L597.24,866.99 L598.06,865.67 L598.88,864.37 L599.7,863.11 L600.53,861.86 L601.35,860.65 L602.17,859.46 L603,858.29 L603.82,857.15 L604.64,856.04 L605.46,854.94 L606.29,853.87 L607.11,852.83 L607.93,851.8 L608.76,850.8 L609.58,849.82 L610.4,848.86 L611.22,847.92 L612.05,847 L612.87,846.11 L613.69,845.23 L614.52,844.37 L615.34,843.52 L616.16,842.7 L616.98,841.89 L617.81,841.1 L618.63,840.33 L619.45,839.57 L620.28,838.83 L621.1,838.11 L621.92,837.4 L622.74,836.7 L623.57,836.02 L624.39,835.35 L625.21,834.7 L626.04,834.06 L626.86,833.44 L627.68,832.82 L628.5,832.22 L629.33,831.63 L630.15,831.05 L630.97,830.49 L631.8,829.93 L632.62,829.39 L633.44,828.86 L634.26,828.33 L635.09,827.82 L635.91,827.32 L636.73,826.82 L637.56,826.34 L638.38,825.87 L639.2,825.4 L640.02,824.94 L640.85,824.49 L641.67,824.05 L642.49,823.62 L643.32,823.2 L644.14,822.78 L644.96,822.37 L645.78,821.97 L646.61,821.57 L647.43,821.19 L648.25,820.8 L649.08,820.43 L649.9,820.06 L650.72,819.7 L651.54,819.34 L652.37,818.99 L653.19,818.65 L654.01,818.31 L654.84,817.98 L655.66,817.65 L656.48,817.33 L657.3,817.01 L658.13,816.7 L658.95,816.4 L659.77,816.09 L660.6,815.8 L661.42,815.51 L662.24,815.22 L663.06,814.93 L663.89,814.66 L664.71,814.38 L665.53,814.11 L666.36,813.84 L667.18,813.58 L668,813.32 L668.82,813.07 L669.65,812.82 L670.47,812.57 L671.29,812.33 L672.12,812.09 L672.94,811.85 L673.76,811.61 L674.59,811.38 L675.41,811.16 L676.23,810.93 L677.05,810.71 L677.88,810.49 L678.7,810.28 L679.52,810.07 L680.35,809.86 L681.17,809.65 L681.99,809.45 L682.81,809.25 L683.64,809.05 L684.46,808.85 L685.28,808.66 L686.11,808.47 L686.93,808.28 L687.75,808.09 L688.57,807.91 L689.4,807.73 L690.22,807.55 L691.04,807.37 L691.87,807.2 L692.69,807.03 L693.51,806.86 L694.33,806.69 L695.16,806.52 L695.98,806.36 L696.8,806.2 L697.63,806.03 L698.45,805.88 L699.27,805.72 L700.09,805.56 L700.92,805.41 L701.74,805.26 L702.56,805.11 L703.39,804.96 L704.21,804.82 L705.03,804.67 L705.85,804.53 L706.68,804.39 L707.5,804.25 L708.32,804.11 L709.15,803.97 L709.97,803.84 L710.79,803.7 L711.61,803.57 L712.44,803.44 L713.26,803.31 L714.08,803.18 L714.91,803.05 L715.73,802.93 L716.55,802.8 L717.37,802.68 L718.2,802.56 L719.02,802.44 L719.84,802.32 L720.67,802.2 L721.49,802.08 L722.31,801.97 L723.13,801.85 L723.96,801.74 L724.78,801.63 L725.6,801.52" fill="none" stroke="#ae1ef8" stroke-width="9" stroke-linecap="butt" stroke-linejoin="round" />
<path d="M158.6,1146.32 L160.21,1146.25 L161.83,1146.18 L163.44,1146.11 L165.05,1146.03 L166.67,1145.96 L168.28,1145.88 L169.89,1145.81 L171.51,1145.73 L173.12,1145.66 L174.73,1145.58 L176.35,1145.5 L177.96,1145.42 L179.57,1145.34 L181.19,1145.26 L182.8,1145.18 L184.42,1145.1 L186.03,1145.02 L187.64,1144.94 L189.26,1144.85 L190.87,1144.77 L192.48,1144.68 L194.1,1144.6 L195.71,1144.51 L197.32,1144.42 L198.94,1144.34 L200.55,1144.25 L202.16,1144.16 L203.78,1144.07 L205.39,1143.97 L207,1143.88 L208.62,1143.79 L210.23,1143.7 L211.84,1143.6 L213.46,1143.51 L215.07,1143.41 L216.68,1143.31 L218.3,1143.21 L219.91,1143.11 L221.52,1143.01 L223.14,1142.91 L224.75,1142.81 L226.36,1142.71 L227.98,1142.6 L229.59,1142.5 L231.21,1142.39 L232.82,1142.28 L234.43,1142.18 L236.05,1142.07 L237.66,1141.96 L239.27,1141.84 L240.89,1141.73 L242.5,1141.62 L244.11,1141.5 L245.73,1141.39 L247.34,1141.27 L248.95,1141.15 L250.57,1141.03 L252.18,1140.91 L253.79,1140.79 L255.41,1140.66 L257.02,1140.54 L258.63,1140.41 L260.25,1140.28 L261.86,1140.15 L263.47,1140.02 L265.09,1139.89 L266.7,1139.76 L268.31,1139.62 L269.93,1139.48 L271.54,1139.35 L273.15,1139.21 L274.77,1139.07 L276.38,1138.92 L278,1138.78 L279.61,1138.63 L281.22,1138.48 L282.84,1138.33 L284.45,1138.18 L286.06,1138.03 L287.68,1137.88 L289.29,1137.72 L290.9,1137.56 L292.52,1137.4 L294.13,1137.24 L295.74,1137.07 L297.36,1136.91 L298.97,1136.74 L300.58,1136.57 L302.2,1136.39 L303.81,1136.22 L305.42,1136.04 L307.04,1135.86 L308.65,1135.68 L310.26,1135.5 L311.88,1135.31 L313.49,1135.12 L315.1,1134.93 L316.72,1134.74 L318.33,1134.54 L319.94,1134.34 L321.56,1134.14 L323.17,1133.93 L324.79,1133.73 L326.4,1133.52 L328.01,1133.3 L329.63,1133.09 L331.24,1132.87 L332.85,1132.65 L334.47,1132.42 L336.08,1132.2 L337.69,1131.96 L339.31,1131.73 L340.92,1131.49 L342.53,1131.25 L344.15,1131 L345.76,1130.76 L347.37,1130.5 L348.99,1130.25 L350.6,1129.99 L352.21,1129.72 L353.83,1129.46 L355.44,1129.18 L357.05,1128.91 L358.67,1128.63 L360.28,1128.34 L361.89,1128.05 L363.51,1127.76 L365.12,1127.46 L366.73,1127.16 L368.35,1126.85 L369.96,1126.54 L371.57,1126.22 L373.19,1125.9 L374.8,1125.57 L376.42,1125.23 L378.03,1124.9 L379.64,1124.55 L381.26,1124.2 L382.87,1123.84 L384.48,1123.48 L386.1,1123.11 L387.71,1122.74 L389.32,1122.36 L390.94,1121.97 L392.55,1121.57 L394.16,1121.17 L395.78,1120.76 L397.39,1120.35 L399,1119.92 L400.62,1119.49 L402.23,1119.05 L403.84,1118.61 L405.46,1118.15 L407.07,1117.69 L408.68,1117.22 L410.3,1116.74 L411.91,1116.25 L413.52,1115.75 L415.14,1115.25 L416.75,1114.73 L418.36,1114.2 L419.98,1113.67 L421.59,1113.12 L423.21,1112.57 L424.82,1112 L426.43,1111.42 L428.05,1110.83 L429.66,1110.23 L431.27,1109.62 L432.89,1109 L434.5,1108.37 L436.11,1107.72 L437.73,1107.06 L439.34,1106.39 L440.95,1105.7 L442.57,1105 L444.18,1104.29 L445.79,1103.57 L447.41,1102.83 L449.02,1102.07 L450.63,1101.3 L452.25,1100.52 L453.86,1099.72 L455.47,1098.9 L457.09,1098.07 L458.7,1097.22 L460.31,1096.36 L461.93,1095.48 L463.54,1094.58 L465.15,1093.67 L466.77,1092.73 L468.38,1091.78 L470,1090.81 L471.61,1089.82 L473.22,1088.82 L474.84,1087.79 L476.45,1086.74 L478.06,1085.67 L479.68,1084.58 L481.29,1083.48 L482.9,1082.34 L484.52,1081.19 L486.13,1080.02 L487.74,1078.82 L489.36,1077.6 L490.97,1076.35 L492.58,1075.09 L494.2,1073.79 L495.81,1072.47 L497.42,1071.13 L499.04,1069.76 L500.65,1068.36 L502.26,1066.93 L503.88,1065.48 L505.49,1063.99 L507.1,1062.48 L508.72,1060.93 L510.33,1059.35 L511.94,1057.73 L513.56,1056.08 L515.17,1054.39 L516.79,1052.66 L518.4,1050.89 L520.01,1049.07 L521.63,1047.2 L523.24,1045.28 L524.85,1043.3 L526.47,1041.26 L528.08,1039.16 L529.69,1036.99 L531.31,1034.74 L532.92,1032.4 L534.53,1029.98 L536.15,1027.46 L537.76,1024.83 L539.37,1022.08 L540.99,1019.22 L542.6,1016.22 L544.21,1013.1 L545.83,1009.82 L547.44,1006.41 L549.05,1002.83 L550.67,999.09 L552.28,995.15 L553.89,990.92 L555.51,986.09 L557.12,979.21 L558.73,967.98 L560.35,959.05 L561.96,953.59 L563.58,949.15 L565.19,945.1 L566.8,941.27 L568.42,937.62 L570.03,934.13 L571.64,930.79 L573.26,927.6 L574.87,924.55 L576.48,921.62 L578.1,918.82 L579.71,916.14 L581.32,913.57 L582.94,911.1 L584.55,908.73 L586.16,906.44 L587.78,904.23 L589.39,902.1 L591,900.03 L592.62,898.03 L594.23,896.08 L595.84,894.19 L597.46,892.35 L599.07,890.55 L600.68,888.8 L602.3,887.09 L603.91,885.42 L605.52,883.79 L607.14,882.19 L608.75,880.63 L610.37,879.1 L611.98,877.6 L613.59,876.13 L615.21,874.69 L616.82,873.28 L618.43,871.9 L620.05,870.54 L621.66,869.21 L623.27,867.91 L624.89,866.63 L626.5,865.37 L628.11,864.14 L629.73,862.93 L631.34,861.75 L632.95,860.58 L634.57,859.44 L636.18,858.32 L637.79,857.23 L639.41,856.15 L641.02,855.09 L642.63,854.06 L644.25,853.04 L645.86,852.04 L647.47,851.06 L649.09,850.1 L650.7,849.16 L652.31,848.24 L653.93,847.33 L655.54,846.44 L657.16,845.57 L658.77,844.72 L660.38,843.88 L662,843.06 L663.61,842.25 L665.22,841.46 L666.84,840.68 L668.45,839.92 L670.06,839.17 L671.68,838.44 L673.29,837.72 L674.9,837.02 L676.52,836.33 L678.13,835.65 L679.74,834.98 L681.36,834.33 L682.97,833.69 L684.58,833.06 L686.2,832.45 L687.81,831.84 L689.42,831.25 L691.04,830.67 L692.65,830.09 L694.26,829.53 L695.88,828.98 L697.49,828.44 L699.1,827.91 L700.72,827.39 L702.33,826.88 L703.95,826.38 L705.56,825.89 L707.17,825.4 L708.79,824.93 L710.4,824.46 L712.01,824 L713.63,823.55 L715.24,823.11 L716.85,822.67 L718.47,822.25 L720.08,821.83 L721.69,821.42 L723.31,821.01 L724.92,820.61 L726.53,820.22 L728.15,819.84 L729.76,819.46 L731.37,819.09 L732.99,818.72 L734.6,818.36 L736.21,818.01 L737.83,817.66 L739.44,817.32 L741.05,816.98 L742.67,816.65 L744.28,816.33 L745.89,816.01 L747.51,815.69 L749.12,815.38 L750.74,815.08 L752.35,814.78 L753.96,814.48 L755.58,814.19 L757.19,813.9 L758.8,813.62 L760.42,813.34 L762.03,813.07 L763.64,812.8 L765.26,812.53 L766.87,812.27 L768.48,812.01 L770.1,811.76 L771.71,811.51 L773.32,811.26 L774.94,811.02 L776.55,810.78 L778.16,810.54 L779.78,810.31 L781.39,810.08 L783,809.85 L784.62,809.63 L786.23,809.41 L787.84,809.19 L789.46,808.98 L791.07,808.77 L792.68,808.56 L794.3,808.35 L795.91,808.15 L797.52,807.95 L799.14,807.75 L800.75,807.56 L802.37,807.37 L803.98,807.18 L805.59,806.99 L807.21,806.8 L808.82,806.62 L810.43,806.44 L812.05,806.26 L813.66,806.09 L815.27,805.91 L816.89,805.74 L818.5,805.57 L820.11,805.4 L821.73,805.24 L823.34,805.08 L824.95,804.91 L826.57,804.75 L828.18,804.6 L829.79,804.44 L831.41,804.29 L833.02,804.13 L834.63,803.98 L836.25,803.84 L837.86,803.69 L839.47,803.54 L841.09,803.4 L842.7,803.26 L844.31,803.12 L845.93,802.98 L847.54,802.84 L849.16,802.71 L850.77,802.57 L852.38,802.44 L854,802.31 L855.61,802.18 L857.22,802.05 L858.84,801.92 L860.45,801.8 L862.06,801.67 L863.68,801.55 L865.29,801.43 L866.9,801.31 L868.52,801.19 L870.13,801.07 L871.74,800.95 L873.36,800.84 L874.97,800.72 L876.58,800.61 L878.2,800.5 L879.81,800.38 L881.42,800.27 L883.04,800.17 L884.65,800.06 L886.26,799.95 L887.88,799.85 L889.49,799.74 L891.1,799.64 L892.72,799.53 L894.33,799.43 L895.95,799.33 L897.56,799.23 L899.17,799.13 L900.79,799.04 L902.4,798.94 L904.01,798.84 L905.63,798.75 L907.24,798.65 L908.85,798.56 L910.47,798.47 L912.08,798.38 L913.69,798.28 L915.31,798.19 L916.92,798.11 L918.53,798.02 L920.15,797.93 L921.76,797.84 L923.37,797.76 L924.99,797.67 L926.6,797.59 L928.21,797.5 L929.83,797.42 L931.44,797.34 L933.05,797.26 L934.67,797.17 L936.28,797.09 L937.89,797.01 L939.51,796.94 L941.12,796.86 L942.74,796.78 L944.35,796.7 L945.96,796.63 L947.58,796.55 L949.19,796.48 L950.8,796.4 L952.42,796.33 L954.03,796.25 L955.64,796.18 L957.26,796.11 L958.87,796.04 L960.48,795.97 L962.1,795.9 L963.71,795.83" fill="none" stroke="#0000f2" stroke-width="9.5" stroke-linecap="butt" stroke-linejoin="round" />
<path d="M112.92,1227.93 L114.03,1227.91 L115.15,1227.9 L116.26,1227.88 L117.38,1227.86 L118.49,1227.85 L119.61,1227.83 L120.72,1227.82 L121.84,1227.8 L122.95,1227.78 L124.07,1227.77 L125.18,1227.75 L126.3,1227.73 L127.41,1227.72 L128.53,1227.7 L129.64,1227.68 L130.76,1227.66 L131.87,1227.65 L132.99,1227.63 L134.1,1227.61 L135.22,1227.6 L136.33,1227.58 L137.45,1227.56 L138.56,1227.54 L139.68,1227.52 L140.79,1227.51 L141.91,1227.49 L143.02,1227.47 L144.14,1227.45 L145.25,1227.43 L146.37,1227.42 L147.48,1227.4 L148.59,1227.38 L149.71,1227.36 L150.82,1227.34 L151.94,1227.32 L153.05,1227.3 L154.17,1227.28 L155.28,1227.26 L156.4,1227.24 L157.51,1227.22 L158.63,1227.21 L159.74,1227.19 L160.86,1227.17 L161.97,1227.15 L163.09,1227.13 L164.2,1227.11 L165.32,1227.09 L166.43,1227.06 L167.55,1227.04 L168.66,1227.02 L169.78,1227 L170.89,1226.98 L172.01,1226.96 L173.12,1226.94 L174.24,1226.92 L175.35,1226.9 L176.47,1226.88 L177.58,1226.85 L178.7,1226.83 L179.81,1226.81 L180.93,1226.79 L182.04,1226.77 L183.16,1226.74 L184.27,1226.72 L185.38,1226.7 L186.5,1226.68 L187.61,1226.65 L188.73,1226.63 L189.84,1226.61 L190.96,1226.58 L192.07,1226.56 L193.19,1226.54 L194.3,1226.51 L195.42,1226.49 L196.53,1226.47 L197.65,1226.44 L198.76,1226.42 L199.88,1226.39 L200.99,1226.37 L202.11,1226.35 L203.22,1226.32 L204.34,1226.3 L205.45,1226.27 L206.57,1226.24 L207.68,1226.22 L208.8,1226.19 L209.91,1226.17 L211.03,1226.14 L212.14,1226.12 L213.26,1226.09 L214.37,1226.06 L215.49,1226.04 L216.6,1226.01 L217.72,1225.98 L218.83,1225.96 L219.94,1225.93 L221.06,1225.9 L222.17,1225.87 L223.29,1225.85 L224.4,1225.82 L225.52,1225.79 L226.63,1225.76 L227.75,1225.73 L228.86,1225.7 L229.98,1225.67 L231.09,1225.64 L232.21,1225.62 L233.32,1225.59 L234.44,1225.56 L235.55,1225.53 L236.67,1225.5 L237.78,1225.46 L238.9,1225.43 L240.01,1225.4 L241.13,1225.37 L242.24,1225.34 L243.36,1225.31 L244.47,1225.28 L245.59,1225.25 L246.7,1225.21 L247.82,1225.18 L248.93,1225.15 L250.05,1225.12 L251.16,1225.08 L252.28,1225.05 L253.39,1225.02 L254.51,1224.98 L255.62,1224.95 L256.73,1224.91 L257.85,1224.88 L258.96,1224.84 L260.08,1224.81 L261.19,1224.77 L262.31,1224.74 L263.42,1224.7 L264.54,1224.66 L265.65,1224.63 L266.77,1224.59 L267.88,1224.55 L269,1224.52 L270.11,1224.48 L271.23,1224.44 L272.34,1224.4 L273.46,1224.36 L274.57,1224.33 L275.69,1224.29 L276.8,1224.25 L277.92,1224.21 L279.03,1224.17 L280.15,1224.13 L281.26,1224.09 L282.38,1224.04 L283.49,1224 L284.61,1223.96 L285.72,1223.92 L286.84,1223.88 L287.95,1223.83 L289.07,1223.79 L290.18,1223.75 L291.29,1223.7 L292.41,1223.66 L293.52,1223.61 L294.64,1223.57 L295.75,1223.52 L296.87,1223.48 L297.98,1223.43 L299.1,1223.39 L300.21,1223.34 L301.33,1223.29 L302.44,1223.24 L303.56,1223.2 L304.67,1223.15 L305.79,1223.1 L306.9,1223.05 L308.02,1223 L309.13,1222.95 L310.25,1222.9 L311.36,1222.85 L312.48,1222.79 L313.59,1222.74 L314.71,1222.69 L315.82,1222.64 L316.94,1222.58 L318.05,1222.53 L319.17,1222.47 L320.28,1222.42 L321.4,1222.36 L322.51,1222.31 L323.63,1222.25 L324.74,1222.19 L325.86,1222.14 L326.97,1222.08 L328.08,1222.02 L329.2,1221.96 L330.31,1221.9 L331.43,1221.84 L332.54,1221.78 L333.66,1221.71 L334.77,1221.65 L335.89,1221.59 L337,1221.53 L338.12,1221.46 L339.23,1221.4 L340.35,1221.33 L341.46,1221.26 L342.58,1221.2 L343.69,1221.13 L344.81,1221.06 L345.92,1220.99 L347.04,1220.92 L348.15,1220.85 L349.27,1220.78 L350.38,1220.71 L351.5,1220.63 L352.61,1220.56 L353.73,1220.48 L354.84,1220.41 L355.96,1220.33 L357.07,1220.26 L358.19,1220.18 L359.3,1220.1 L360.42,1220.02 L361.53,1219.94 L362.64,1219.86 L363.76,1219.77 L364.87,1219.69 L365.99,1219.61 L367.1,1219.52 L368.22,1219.43 L369.33,1219.35 L370.45,1219.26 L371.56,1219.17 L372.68,1219.08 L373.79,1218.99 L374.91,1218.89 L376.02,1218.8 L377.14,1218.71 L378.25,1218.61 L379.37,1218.51 L380.48,1218.41 L381.6,1218.31 L382.71,1218.21 L383.83,1218.11 L384.94,1218.01 L386.06,1217.9 L387.17,1217.79 L388.29,1217.69 L389.4,1217.58 L390.52,1217.47 L391.63,1217.35 L392.75,1217.24 L393.86,1217.12 L394.98,1217.01 L396.09,1216.89 L397.21,1216.77 L398.32,1216.65 L399.43,1216.52 L400.55,1216.4 L401.66,1216.27 L402.78,1216.14 L403.89,1216.01 L405.01,1215.88 L406.12,1215.74 L407.24,1215.61 L408.35,1215.47 L409.47,1215.33 L410.58,1215.19 L411.7,1215.04 L412.81,1214.89 L413.93,1214.74 L415.04,1214.59 L416.16,1214.44 L417.27,1214.28 L418.39,1214.12 L419.5,1213.96 L420.62,1213.8 L421.73,1213.63 L422.85,1213.46 L423.96,1213.29 L425.08,1213.11 L426.19,1212.93 L427.31,1212.75 L428.42,1212.57 L429.54,1212.38 L430.65,1212.19 L431.77,1211.99 L432.88,1211.8 L433.99,1211.59 L435.11,1211.39 L436.22,1211.18 L437.34,1210.97 L438.45,1210.75 L439.57,1210.53 L440.68,1210.31 L441.8,1210.08 L442.91,1209.84 L444.03,1209.6 L445.14,1209.36 L446.26,1209.11 L447.37,1208.86 L448.49,1208.6 L449.6,1208.34 L450.72,1208.07 L451.83,1207.8 L452.95,1207.52 L454.06,1207.23 L455.18,1206.94 L456.29,1206.64 L457.41,1206.34 L458.52,1206.02 L459.64,1205.71 L460.75,1205.38 L461.87,1205.05 L462.98,1204.7 L464.1,1204.35 L465.21,1204 L466.33,1203.63 L467.44,1203.25 L468.56,1202.87 L469.67,1202.47 L470.78,1202.07 L471.9,1201.65 L473.01,1201.23 L474.13,1200.79 L475.24,1200.34 L476.36,1199.88 L477.47,1199.41 L478.59,1198.92 L479.7,1198.42 L480.82,1197.9 L481.93,1197.37 L483.05,1196.83 L484.16,1196.26 L485.28,1195.68 L486.39,1195.08 L487.51,1194.47 L488.62,1193.83 L489.74,1193.17 L490.85,1192.5 L491.97,1191.79 L493.08,1191.07 L494.2,1190.32 L495.31,1189.54 L496.43,1188.74 L497.54,1187.9 L498.66,1187.04 L499.77,1186.14 L500.89,1185.21 L502,1184.24 L503.12,1183.23 L504.23,1182.18 L505.34,1181.09 L506.46,1179.95 L507.57,1178.77 L508.69,1177.53 L509.8,1176.24 L510.92,1174.88 L512.03,1173.47 L513.15,1171.99 L514.26,1170.43 L515.38,1168.81 L516.49,1167.1 L517.61,1165.3 L518.72,1163.41 L519.84,1161.42 L520.95,1159.33 L522.07,1157.12 L523.18,1154.8 L524.3,1152.34 L525.41,1149.75 L526.53,1147 L527.64,1144.1 L528.76,1141.04 L529.87,1137.79 L530.99,1134.36 L532.1,1130.72 L533.22,1126.87 L534.33,1122.8 L535.45,1118.48 L536.56,1113.92 L537.68,1109.1 L538.79,1104.01 L539.91,1098.64 L541.02,1092.98 L542.13,1087.03 L543.25,1080.77 L544.36,1074.21 L545.48,1067.36 L546.59,1060.2 L547.71,1052.76 L548.82,1045.03 L549.94,1037.04 L551.05,1028.81 L552.17,1020.35 L553.28,1011.7 L554.4,1002.88 L555.51,993.92 L556.63,984.87 L557.74,975.76 L558.86,966.64 L559.97,957.53 L561.09,948.48 L562.2,939.52 L563.32,930.7 L564.43,922.05 L565.55,913.59 L566.66,905.36 L567.78,897.37 L568.89,889.64 L570.01,882.2 L571.12,875.04 L572.24,868.19 L573.35,861.63 L574.47,855.37 L575.58,849.42 L576.69,843.76 L577.81,838.39 L578.92,833.3 L580.04,828.48 L581.15,823.92 L582.27,819.6 L583.38,815.53 L584.5,811.68 L585.61,808.04 L586.73,804.61 L587.84,801.36 L588.96,798.3 L590.07,795.4 L591.19,792.65 L592.3,790.06 L593.42,787.6 L594.53,785.28 L595.65,783.07 L596.76,780.98 L597.88,778.99 L598.99,777.1 L600.11,775.3 L601.22,773.59 L602.34,771.97 L603.45,770.41 L604.57,768.93 L605.68,767.52 L606.8,766.16 L607.91,764.87 L609.03,763.63 L610.14,762.45 L611.26,761.31 L612.37,760.22 L613.48,759.17 L614.6,758.16 L615.71,757.19 L616.83,756.26 L617.94,755.36 L619.06,754.5 L620.17,753.66 L621.29,752.86 L622.4,752.08 L623.52,751.33 L624.63,750.61 L625.75,749.9 L626.86,749.23 L627.98,748.57 L629.09,747.93 L630.21,747.32 L631.32,746.72 L632.44,746.14 L633.55,745.57 L634.67,745.03 L635.78,744.5 L636.9,743.98 L638.01,743.48 L639.13,742.99 L640.24,742.52 L641.36,742.06 L642.47,741.61 L643.59,741.17 L644.7,740.75 L645.82,740.33 L646.93,739.93 L648.04,739.53 L649.16,739.15 L650.27,738.77 L651.39,738.4 L652.5,738.05 L653.62,737.7 L654.73,737.35 L655.85,737.02 L656.96,736.69 L658.08,736.38 L659.19,736.06 L660.31,735.76 L661.42,735.46 L662.54,735.17 L663.65,734.88 L664.77,734.6 L665.88,734.33 L667,734.06 L668.11,733.8 L669.23,733.54 L670.34,733.29 L671.46,733.04 L672.57,732.8 L673.69,732.56 L674.8,732.32 L675.92,732.09 L677.03,731.87 L678.15,731.65 L679.26,731.43 L680.38,731.22 L681.49,731.01 L682.61,730.81 L683.72,730.6 L684.83,730.41 L685.95,730.21 L687.06,730.02 L688.18,729.83 L689.29,729.65 L690.41,729.47 L691.52,729.29 L692.64,729.11 L693.75,728.94 L694.87,728.77 L695.98,728.6 L697.1,728.44 L698.21,728.28 L699.33,728.12 L700.44,727.96 L701.56,727.81 L702.67,727.66 L703.79,727.51 L704.9,727.36 L706.02,727.21 L707.13,727.07 L708.25,726.93 L709.36,726.79 L710.48,726.66 L711.59,726.52 L712.71,726.39 L713.82,726.26 L714.94,726.13 L716.05,726 L717.17,725.88 L718.28,725.75 L719.39,725.63 L720.51,725.51 L721.62,725.39 L722.74,725.28 L723.85,725.16 L724.97,725.05 L726.08,724.93 L727.2,724.82 L728.31,724.71 L729.43,724.61 L730.54,724.5 L731.66,724.39 L732.77,724.29 L733.89,724.19 L735,724.09 L736.12,723.99 L737.23,723.89 L738.35,723.79 L739.46,723.69 L740.58,723.6 L741.69,723.51 L742.81,723.41 L743.92,723.32 L745.04,723.23 L746.15,723.14 L747.27,723.05 L748.38,722.97 L749.5,722.88 L750.61,722.79 L751.73,722.71 L752.84,722.63 L753.96,722.54 L755.07,722.46 L756.18,722.38 L757.3,722.3 L758.41,722.22 L759.53,722.14 L760.64,722.07 L761.76,721.99 L762.87,721.92 L763.99,721.84 L765.1,721.77 L766.22,721.69 L767.33,721.62 L768.45,721.55 L769.56,721.48 L770.68,721.41 L771.79,721.34 L772.91,721.27 L774.02,721.2 L775.14,721.14 L776.25,721.07 L777.37,721 L778.48,720.94 L779.6,720.87 L780.71,720.81 L781.83,720.75 L782.94,720.69 L784.06,720.62 L785.17,720.56 L786.29,720.5 L787.4,720.44 L788.52,720.38 L789.63,720.32 L790.74,720.26 L791.86,720.21 L792.97,720.15 L794.09,720.09 L795.2,720.04 L796.32,719.98 L797.43,719.93 L798.55,719.87 L799.66,719.82 L800.78,719.76 L801.89,719.71 L803.01,719.66 L804.12,719.61 L805.24,719.55 L806.35,719.5 L807.47,719.45 L808.58,719.4 L809.7,719.35 L810.81,719.3 L811.93,719.25 L813.04,719.2 L814.16,719.16 L815.27,719.11 L816.39,719.06 L817.5,719.01 L818.62,718.97 L819.73,718.92 L820.85,718.88 L821.96,718.83 L823.08,718.79 L824.19,718.74 L825.31,718.7 L826.42,718.65 L827.53,718.61 L828.65,718.57 L829.76,718.52 L830.88,718.48 L831.99,718.44 L833.11,718.4 L834.22,718.36 L835.34,718.31 L836.45,718.27 L837.57,718.23 L838.68,718.19 L839.8,718.15 L840.91,718.11 L842.03,718.07 L843.14,718.04 L844.26,718 L845.37,717.96 L846.49,717.92 L847.6,717.88 L848.72,717.85 L849.83,717.81 L850.95,717.77 L852.06,717.74 L853.18,717.7 L854.29,717.66 L855.41,717.63 L856.52,717.59 L857.64,717.56 L858.75,717.52 L859.87,717.49 L860.98,717.45 L862.09,717.42 L863.21,717.38 L864.32,717.35 L865.44,717.32 L866.55,717.28 L867.67,717.25 L868.78,717.22 L869.9,717.19 L871.01,717.15 L872.13,717.12 L873.24,717.09 L874.36,717.06 L875.47,717.03 L876.59,717 L877.7,716.97 L878.82,716.94 L879.93,716.9 L881.05,716.87 L882.16,716.84 L883.28,716.81 L884.39,716.78 L885.51,716.76 L886.62,716.73 L887.74,716.7 L888.85,716.67 L889.97,716.64 L891.08,716.61 L892.2,716.58 L893.31,716.55 L894.43,716.53 L895.54,716.5 L896.66,716.47 L897.77,716.44 L898.88,716.42 L900,716.39 L901.11,716.36 L902.23,716.34 L903.34,716.31 L904.46,716.28 L905.57,716.26 L906.69,716.23 L907.8,716.21 L908.92,716.18 L910.03,716.16 L911.15,716.13 L912.26,716.1 L913.38,716.08 L914.49,716.05 L915.61,716.03 L916.72,716.01 L917.84,715.98 L918.95,715.96 L920.07,715.93 L921.18,715.91 L922.3,715.89 L923.41,715.86 L924.53,715.84 L925.64,715.82 L926.76,715.79 L927.87,715.77 L928.99,715.75 L930.1,715.72 L931.22,715.7 L932.33,715.68 L933.44,715.66 L934.56,715.63 L935.67,715.61 L936.79,715.59 L937.9,715.57 L939.02,715.55 L940.13,715.52 L941.25,715.5 L942.36,715.48 L943.48,715.46 L944.59,715.44 L945.71,715.42 L946.82,715.4 L947.94,715.38 L949.05,715.36 L950.17,715.34 L951.28,715.31 L952.4,715.29 L953.51,715.27 L954.63,715.25 L955.74,715.23 L956.86,715.21 L957.97,715.19 L959.09,715.18 L960.2,715.16 L961.32,715.14 L962.43,715.12 L963.55,715.1 L964.66,715.08 L965.78,715.06 L966.89,715.04 L968.01,715.02 L969.12,715 L970.23,714.98 L971.35,714.97 L972.46,714.95 L973.58,714.93 L974.69,714.91 L975.81,714.89 L976.92,714.88 L978.04,714.86 L979.15,714.84 L980.27,714.82 L981.38,714.8 L982.5,714.79 L983.61,714.77 L984.73,714.75 L985.84,714.74 L986.96,714.72 L988.07,714.7 L989.19,714.68 L990.3,714.67 L991.42,714.65 L992.53,714.63 L993.65,714.62 L994.76,714.6 L995.88,714.58 L996.99,714.57 L998.11,714.55 L999.22,714.54 L1000.34,714.52 L1001.45,714.5 L1002.57,714.49 L1003.68,714.47" fill="none" stroke="#000" stroke-width="5.6" stroke-linecap="butt" stroke-linejoin="round" stroke-dasharray="12 3.1" />
<path d="M112.92,1157.03 L114.03,1157.01 L115.15,1157 L116.26,1156.98 L117.38,1156.97 L118.49,1156.95 L119.61,1156.93 L120.72,1156.92 L121.84,1156.9 L122.95,1156.89 L124.07,1156.87 L125.18,1156.85 L126.3,1156.84 L127.41,1156.82 L128.53,1156.8 L129.64,1156.78 L130.76,1156.77 L131.87,1156.75 L132.99,1156.73 L134.1,1156.72 L135.22,1156.7 L136.33,1156.68 L137.45,1156.66 L138.56,1156.64 L139.68,1156.63 L140.79,1156.61 L141.91,1156.59 L143.02,1156.57 L144.14,1156.55 L145.25,1156.54 L146.37,1156.52 L147.48,1156.5 L148.59,1156.48 L149.71,1156.46 L150.82,1156.44 L151.94,1156.42 L153.05,1156.4 L154.17,1156.39 L155.28,1156.37 L156.4,1156.35 L157.51,1156.33 L158.63,1156.31 L159.74,1156.29 L160.86,1156.27 L161.97,1156.25 L163.09,1156.23 L164.2,1156.21 L165.32,1156.19 L166.43,1156.17 L167.55,1156.15 L168.66,1156.13 L169.78,1156.11 L170.89,1156.08 L172.01,1156.06 L173.12,1156.04 L174.24,1156.02 L175.35,1156 L176.47,1155.98 L177.58,1155.96 L178.7,1155.94 L179.81,1155.91 L180.93,1155.89 L182.04,1155.87 L183.16,1155.85 L184.27,1155.82 L185.38,1155.8 L186.5,1155.78 L187.61,1155.76 L188.73,1155.73 L189.84,1155.71 L190.96,1155.69 L192.07,1155.66 L193.19,1155.64 L194.3,1155.62 L195.42,1155.59 L196.53,1155.57 L197.65,1155.55 L198.76,1155.52 L199.88,1155.5 L200.99,1155.47 L202.11,1155.45 L203.22,1155.42 L204.34,1155.4 L205.45,1155.37 L206.57,1155.35 L207.68,1155.32 L208.8,1155.3 L209.91,1155.27 L211.03,1155.24 L212.14,1155.22 L213.26,1155.19 L214.37,1155.17 L215.49,1155.14 L216.6,1155.11 L217.72,1155.09 L218.83,1155.06 L219.94,1155.03 L221.06,1155 L222.17,1154.98 L223.29,1154.95 L224.4,1154.92 L225.52,1154.89 L226.63,1154.86 L227.75,1154.83 L228.86,1154.81 L229.98,1154.78 L231.09,1154.75 L232.21,1154.72 L233.32,1154.69 L234.44,1154.66 L235.55,1154.63 L236.67,1154.6 L237.78,1154.57 L238.9,1154.54 L240.01,1154.51 L241.13,1154.47 L242.24,1154.44 L243.36,1154.41 L244.47,1154.38 L245.59,1154.35 L246.7,1154.32 L247.82,1154.28 L248.93,1154.25 L250.05,1154.22 L251.16,1154.18 L252.28,1154.15 L253.39,1154.12 L254.51,1154.08 L255.62,1154.05 L256.73,1154.02 L257.85,1153.98 L258.96,1153.95 L260.08,1153.91 L261.19,1153.88 L262.31,1153.84 L263.42,1153.8 L264.54,1153.77 L265.65,1153.73 L266.77,1153.69 L267.88,1153.66 L269,1153.62 L270.11,1153.58 L271.23,1153.54 L272.34,1153.51 L273.46,1153.47 L274.57,1153.43 L275.69,1153.39 L276.8,1153.35 L277.92,1153.31 L279.03,1153.27 L280.15,1153.23 L281.26,1153.19 L282.38,1153.15 L283.49,1153.11 L284.61,1153.06 L285.72,1153.02 L286.84,1152.98 L287.95,1152.94 L289.07,1152.89 L290.18,1152.85 L291.29,1152.81 L292.41,1152.76 L293.52,1152.72 L294.64,1152.67 L295.75,1152.63 L296.87,1152.58 L297.98,1152.54 L299.1,1152.49 L300.21,1152.44 L301.33,1152.39 L302.44,1152.35 L303.56,1152.3 L304.67,1152.25 L305.79,1152.2 L306.9,1152.15 L308.02,1152.1 L309.13,1152.05 L310.25,1152 L311.36,1151.95 L312.48,1151.9 L313.59,1151.85 L314.71,1151.79 L315.82,1151.74 L316.94,1151.69 L318.05,1151.63 L319.17,1151.58 L320.28,1151.52 L321.4,1151.47 L322.51,1151.41 L323.63,1151.35 L324.74,1151.3 L325.86,1151.24 L326.97,1151.18 L328.08,1151.12 L329.2,1151.06 L330.31,1151 L331.43,1150.94 L332.54,1150.88 L333.66,1150.82 L334.77,1150.75 L335.89,1150.69 L337,1150.63 L338.12,1150.56 L339.23,1150.5 L340.35,1150.43 L341.46,1150.37 L342.58,1150.3 L343.69,1150.23 L344.81,1150.16 L345.92,1150.09 L347.04,1150.02 L348.15,1149.95 L349.27,1149.88 L350.38,1149.81 L351.5,1149.74 L352.61,1149.66 L353.73,1149.59 L354.84,1149.51 L355.96,1149.44 L357.07,1149.36 L358.19,1149.28 L359.3,1149.2 L360.42,1149.12 L361.53,1149.04 L362.64,1148.96 L363.76,1148.88 L364.87,1148.79 L365.99,1148.71 L367.1,1148.62 L368.22,1148.54 L369.33,1148.45 L370.45,1148.36 L371.56,1148.27 L372.68,1148.18 L373.79,1148.09 L374.91,1148 L376.02,1147.9 L377.14,1147.81 L378.25,1147.71 L379.37,1147.61 L380.48,1147.52 L381.6,1147.42 L382.71,1147.32 L383.83,1147.21 L384.94,1147.11 L386.06,1147 L387.17,1146.9 L388.29,1146.79 L389.4,1146.68 L390.52,1146.57 L391.63,1146.46 L392.75,1146.34 L393.86,1146.23 L394.98,1146.11 L396.09,1145.99 L397.21,1145.87 L398.32,1145.75 L399.43,1145.63 L400.55,1145.5 L401.66,1145.37 L402.78,1145.25 L403.89,1145.11 L405.01,1144.98 L406.12,1144.85 L407.24,1144.71 L408.35,1144.57 L409.47,1144.43 L410.58,1144.29 L411.7,1144.14 L412.81,1144 L413.93,1143.85 L415.04,1143.7 L416.16,1143.54 L417.27,1143.38 L418.39,1143.23 L419.5,1143.06 L420.62,1142.9 L421.73,1142.73 L422.85,1142.56 L423.96,1142.39 L425.08,1142.21 L426.19,1142.04 L427.31,1141.86 L428.42,1141.67 L429.54,1141.48 L430.65,1141.29 L431.77,1141.1 L432.88,1140.9 L433.99,1140.7 L435.11,1140.49 L436.22,1140.28 L437.34,1140.07 L438.45,1139.86 L439.57,1139.63 L440.68,1139.41 L441.8,1139.18 L442.91,1138.95 L444.03,1138.71 L445.14,1138.47 L446.26,1138.22 L447.37,1137.97 L448.49,1137.71 L449.6,1137.45 L450.72,1137.18 L451.83,1136.9 L452.95,1136.62 L454.06,1136.34 L455.18,1136.04 L456.29,1135.75 L457.41,1135.44 L458.52,1135.13 L459.64,1134.81 L460.75,1134.48 L461.87,1134.15 L462.98,1133.81 L464.1,1133.46 L465.21,1133.1 L466.33,1132.74 L467.44,1132.36 L468.56,1131.98 L469.67,1131.58 L470.78,1131.18 L471.9,1130.76 L473.01,1130.34 L474.13,1129.9 L475.24,1129.45 L476.36,1128.99 L477.47,1128.52 L478.59,1128.03 L479.7,1127.53 L480.82,1127.02 L481.93,1126.49 L483.05,1125.94 L484.16,1125.38 L485.28,1124.81 L486.39,1124.21 L487.51,1123.6 L488.62,1122.96 L489.74,1122.31 L490.85,1121.64 L491.97,1120.94 L493.08,1120.23 L494.2,1119.48 L495.31,1118.72 L496.43,1117.92 L497.54,1117.1 L498.66,1116.25 L499.77,1115.37 L500.89,1114.46 L502,1113.51 L503.12,1112.53 L504.23,1111.51 L505.34,1110.45 L506.46,1109.35 L507.57,1108.21 L508.69,1107.03 L509.8,1105.8 L510.92,1104.51 L512.03,1103.18 L513.15,1101.79 L514.26,1100.35 L515.38,1098.84 L516.49,1097.27 L517.61,1095.64 L518.72,1093.94 L519.84,1092.16 L520.95,1090.31 L522.07,1088.38 L523.18,1086.37 L524.3,1084.28 L525.41,1082.09 L526.53,1079.82 L527.64,1077.44 L528.76,1074.97 L529.87,1072.4 L530.99,1069.72 L532.1,1066.93 L533.22,1064.04 L534.33,1061.03 L535.45,1057.91 L536.56,1054.67 L537.68,1051.31 L538.79,1047.84 L539.91,1044.24 L541.02,1040.53 L542.13,1036.71 L543.25,1032.77 L544.36,1028.72 L545.48,1024.57 L546.59,1020.31 L547.71,1015.95 L548.82,1011.5 L549.94,1006.97 L551.05,1002.36 L552.17,997.69 L553.28,992.96 L554.4,988.17 L555.51,983.35 L556.63,978.5 L557.74,973.64 L558.86,968.76 L559.97,963.9 L561.09,959.05 L562.2,954.23 L563.32,949.44 L564.43,944.71 L565.55,940.04 L566.66,935.43 L567.78,930.9 L568.89,926.45 L570.01,922.09 L571.12,917.83 L572.24,913.68 L573.35,909.63 L574.47,905.69 L575.58,901.87 L576.69,898.16 L577.81,894.56 L578.92,891.09 L580.04,887.73 L581.15,884.49 L582.27,881.37 L583.38,878.36 L584.5,875.47 L585.61,872.68 L586.73,870 L587.84,867.43 L588.96,864.96 L590.07,862.58 L591.19,860.31 L592.3,858.12 L593.42,856.03 L594.53,854.02 L595.65,852.09 L596.76,850.24 L597.88,848.46 L598.99,846.76 L600.11,845.13 L601.22,843.56 L602.34,842.05 L603.45,840.61 L604.57,839.22 L605.68,837.89 L606.8,836.6 L607.91,835.37 L609.03,834.19 L610.14,833.05 L611.26,831.95 L612.37,830.89 L613.48,829.87 L614.6,828.89 L615.71,827.94 L616.83,827.03 L617.94,826.15 L619.06,825.3 L620.17,824.48 L621.29,823.68 L622.4,822.92 L623.52,822.17 L624.63,821.46 L625.75,820.76 L626.86,820.09 L627.98,819.44 L629.09,818.8 L630.21,818.19 L631.32,817.59 L632.44,817.02 L633.55,816.46 L634.67,815.91 L635.78,815.38 L636.9,814.87 L638.01,814.37 L639.13,813.88 L640.24,813.41 L641.36,812.95 L642.47,812.5 L643.59,812.06 L644.7,811.64 L645.82,811.22 L646.93,810.82 L648.04,810.42 L649.16,810.04 L650.27,809.66 L651.39,809.3 L652.5,808.94 L653.62,808.59 L654.73,808.25 L655.85,807.92 L656.96,807.59 L658.08,807.27 L659.19,806.96 L660.31,806.65 L661.42,806.36 L662.54,806.06 L663.65,805.78 L664.77,805.5 L665.88,805.22 L667,804.95 L668.11,804.69 L669.23,804.43 L670.34,804.18 L671.46,803.93 L672.57,803.69 L673.69,803.45 L674.8,803.22 L675.92,802.99 L677.03,802.77 L678.15,802.54 L679.26,802.33 L680.38,802.12 L681.49,801.91 L682.61,801.7 L683.72,801.5 L684.83,801.3 L685.95,801.11 L687.06,800.92 L688.18,800.73 L689.29,800.54 L690.41,800.36 L691.52,800.19 L692.64,800.01 L693.75,799.84 L694.87,799.67 L695.98,799.5 L697.1,799.34 L698.21,799.17 L699.33,799.02 L700.44,798.86 L701.56,798.7 L702.67,798.55 L703.79,798.4 L704.9,798.26 L706.02,798.11 L707.13,797.97 L708.25,797.83 L709.36,797.69 L710.48,797.55 L711.59,797.42 L712.71,797.29 L713.82,797.15 L714.94,797.03 L716.05,796.9 L717.17,796.77 L718.28,796.65 L719.39,796.53 L720.51,796.41 L721.62,796.29 L722.74,796.17 L723.85,796.06 L724.97,795.94 L726.08,795.83 L727.2,795.72 L728.31,795.61 L729.43,795.5 L730.54,795.4 L731.66,795.29 L732.77,795.19 L733.89,795.08 L735,794.98 L736.12,794.88 L737.23,794.79 L738.35,794.69 L739.46,794.59 L740.58,794.5 L741.69,794.4 L742.81,794.31 L743.92,794.22 L745.04,794.13 L746.15,794.04 L747.27,793.95 L748.38,793.86 L749.5,793.78 L750.61,793.69 L751.73,793.61 L752.84,793.52 L753.96,793.44 L755.07,793.36 L756.18,793.28 L757.3,793.2 L758.41,793.12 L759.53,793.04 L760.64,792.96 L761.76,792.89 L762.87,792.81 L763.99,792.74 L765.1,792.66 L766.22,792.59 L767.33,792.52 L768.45,792.45 L769.56,792.38 L770.68,792.31 L771.79,792.24 L772.91,792.17 L774.02,792.1 L775.14,792.03 L776.25,791.97 L777.37,791.9 L778.48,791.84 L779.6,791.77 L780.71,791.71 L781.83,791.65 L782.94,791.58 L784.06,791.52 L785.17,791.46 L786.29,791.4 L787.4,791.34 L788.52,791.28 L789.63,791.22 L790.74,791.16 L791.86,791.1 L792.97,791.05 L794.09,790.99 L795.2,790.93 L796.32,790.88 L797.43,790.82 L798.55,790.77 L799.66,790.71 L800.78,790.66 L801.89,790.61 L803.01,790.55 L804.12,790.5 L805.24,790.45 L806.35,790.4 L807.47,790.35 L808.58,790.3 L809.7,790.25 L810.81,790.2 L811.93,790.15 L813.04,790.1 L814.16,790.05 L815.27,790.01 L816.39,789.96 L817.5,789.91 L818.62,789.86 L819.73,789.82 L820.85,789.77 L821.96,789.73 L823.08,789.68 L824.19,789.64 L825.31,789.59 L826.42,789.55 L827.53,789.51 L828.65,789.46 L829.76,789.42 L830.88,789.38 L831.99,789.34 L833.11,789.29 L834.22,789.25 L835.34,789.21 L836.45,789.17 L837.57,789.13 L838.68,789.09 L839.8,789.05 L840.91,789.01 L842.03,788.97 L843.14,788.93 L844.26,788.89 L845.37,788.86 L846.49,788.82 L847.6,788.78 L848.72,788.74 L849.83,788.71 L850.95,788.67 L852.06,788.63 L853.18,788.6 L854.29,788.56 L855.41,788.52 L856.52,788.49 L857.64,788.45 L858.75,788.42 L859.87,788.38 L860.98,788.35 L862.09,788.32 L863.21,788.28 L864.32,788.25 L865.44,788.22 L866.55,788.18 L867.67,788.15 L868.78,788.12 L869.9,788.08 L871.01,788.05 L872.13,788.02 L873.24,787.99 L874.36,787.96 L875.47,787.93 L876.59,787.89 L877.7,787.86 L878.82,787.83 L879.93,787.8 L881.05,787.77 L882.16,787.74 L883.28,787.71 L884.39,787.68 L885.51,787.65 L886.62,787.62 L887.74,787.59 L888.85,787.57 L889.97,787.54 L891.08,787.51 L892.2,787.48 L893.31,787.45 L894.43,787.42 L895.54,787.4 L896.66,787.37 L897.77,787.34 L898.88,787.31 L900,787.29 L901.11,787.26 L902.23,787.23 L903.34,787.21 L904.46,787.18 L905.57,787.16 L906.69,787.13 L907.8,787.1 L908.92,787.08 L910.03,787.05 L911.15,787.03 L912.26,787 L913.38,786.98 L914.49,786.95 L915.61,786.93 L916.72,786.9 L917.84,786.88 L918.95,786.85 L920.07,786.83 L921.18,786.81 L922.3,786.78 L923.41,786.76 L924.53,786.74 L925.64,786.71 L926.76,786.69 L927.87,786.67 L928.99,786.64 L930.1,786.62 L931.22,786.6 L932.33,786.58 L933.44,786.55 L934.56,786.53 L935.67,786.51 L936.79,786.49 L937.9,786.46 L939.02,786.44 L940.13,786.42 L941.25,786.4 L942.36,786.38 L943.48,786.36 L944.59,786.34 L945.71,786.32 L946.82,786.29 L947.94,786.27 L949.05,786.25 L950.17,786.23 L951.28,786.21 L952.4,786.19 L953.51,786.17 L954.63,786.15 L955.74,786.13 L956.86,786.11 L957.97,786.09 L959.09,786.07 L960.2,786.05 L961.32,786.03 L962.43,786.01 L963.55,786 L964.66,785.98 L965.78,785.96 L966.89,785.94 L968.01,785.92 L969.12,785.9 L970.23,785.88 L971.35,785.86 L972.46,785.85 L973.58,785.83 L974.69,785.81 L975.81,785.79 L976.92,785.77 L978.04,785.76 L979.15,785.74 L980.27,785.72 L981.38,785.7 L982.5,785.68 L983.61,785.67 L984.73,785.65 L985.84,785.63 L986.96,785.62 L988.07,785.6 L989.19,785.58 L990.3,785.56 L991.42,785.55 L992.53,785.53 L993.65,785.51 L994.76,785.5 L995.88,785.48 L996.99,785.47 L998.11,785.45 L999.22,785.43 L1000.34,785.42 L1001.45,785.4 L1002.57,785.39 L1003.68,785.37" fill="none" stroke="#000" stroke-width="4.2" stroke-linecap="butt" stroke-linejoin="round" stroke-dasharray="6.2 3.2" />
<path d="M131,724.9 L170,724.9" fill="none" stroke="#ff0a0a" stroke-width="5.6" stroke-linecap="butt" stroke-linejoin="round" />
<path d="M131,770 L170,770" fill="none" stroke="#ae1ef8" stroke-width="5.6" stroke-linecap="butt" stroke-linejoin="round" />
<path d="M131,814.5 L170,814.5" fill="none" stroke="#0000f2" stroke-width="5.6" stroke-linecap="butt" stroke-linejoin="round" />
<text x="178.5" y="731.3" font-size="21" text-anchor="start" >10 K</text>
<text x="178.5" y="777" font-size="21" text-anchor="start" >5 K</text>
<text x="178.5" y="821.5" font-size="21" text-anchor="start" >2 K</text>
<path d="M271,724.9 L346.7,724.9" fill="none" stroke="#000" stroke-width="5.2" stroke-linecap="butt" stroke-linejoin="round" stroke-dasharray="12.6 3" />
<path d="M271,772 L346.5,772" fill="none" stroke="#000" stroke-width="4" stroke-linecap="butt" stroke-linejoin="round" stroke-dasharray="6.2 3.7" />
<text x="359" y="731.6" font-size="21" text-anchor="start" >Langevin (<tspan font-style="italic">&#956;</tspan><tspan font-size="14.5" dy="6.5">Gd</tspan><tspan dy="-6.5">)</tspan></text>
<text x="359" y="778.5" font-size="21" text-anchor="start" >Langevin (<tspan font-style="italic">&#956;</tspan><tspan font-size="14.5" dy="6.5">Eff</tspan><tspan dy="-6.5">)</tspan></text>
<text x="778.5" y="846" font-size="21.3" text-anchor="start" >4.8% Gd</text>
<rect x="113" y="695.8" width="890.5" height="550.6" fill="none" stroke="#000" stroke-width="2.2"/>
<text x="559" y="1326.5" font-size="29" text-anchor="middle" ><tspan font-style="italic">&#956;</tspan><tspan font-size="23" dy="8">0</tspan><tspan font-style="italic" dy="-8">H</tspan> (T)<tspan font-style="italic">&#8202;/&#8202;T</tspan> (K)</text>
<text transform="translate(44,971) rotate(-90)" font-size="29.5" text-anchor="middle"><tspan font-style="italic">M</tspan><tspan font-size="20" dy="6">imp</tspan><tspan dy="-6"> (</tspan><tspan font-style="italic">&#956;</tspan><tspan font-size="20" dy="6">B</tspan><tspan dy="-6">/Gd)</tspan></text>
<text x="-1.5" y="707.8" font-size="42" font-weight="bold">b</text>
<rect x="195.6" y="843.9" width="310.4" height="192.10000000000002" fill="#fff" stroke="none"/>
<line x1="287" y1="1036" x2="287" y2="1024" stroke="#000" stroke-width="1.6" />
<line x1="287" y1="843.9" x2="287" y2="855.9" stroke="#000" stroke-width="1.6" />
<line x1="378.4" y1="1036" x2="378.4" y2="1024" stroke="#000" stroke-width="1.6" />
<line x1="378.4" y1="843.9" x2="378.4" y2="855.9" stroke="#000" stroke-width="1.6" />
<line x1="469.8" y1="1036" x2="469.8" y2="1024" stroke="#000" stroke-width="1.6" />
<line x1="469.8" y1="843.9" x2="469.8" y2="855.9" stroke="#000" stroke-width="1.6" />
<line x1="195.6" y1="959" x2="207.6" y2="959" stroke="#000" stroke-width="1.6" />
<line x1="506" y1="959" x2="494" y2="959" stroke="#000" stroke-width="1.6" />
<line x1="195.6" y1="882" x2="207.6" y2="882" stroke="#000" stroke-width="1.6" />
<line x1="506" y1="882" x2="494" y2="882" stroke="#000" stroke-width="1.6" />
<path d="M208.5,882 L506,882" fill="none" stroke="#8a8a8a" stroke-width="3.3" stroke-linecap="butt" stroke-linejoin="round" stroke-dasharray="11 5.4" />
<path d="M231.4,849.85 L232.46,850.96 L233.52,852.47 L234.58,853.69 L235.64,854.79 L236.7,855.18 L237.76,855.59 L238.82,856.08 L239.88,857.12 L240.94,857.9 L242,857.85 L243.06,857.72 L244.12,858.19 L245.18,859.44 L246.24,859.27 L247.3,858.89 L248.36,859.74 L249.42,859.61 L250.48,860.02 L251.54,860.27 L252.6,860.37 L253.66,860.97 L254.73,860.9 L255.79,860.84 L256.85,861.29 L257.91,861.52 L258.97,860.72 L260.03,861.26 L261.09,861.04 L262.15,861.35 L263.21,860.96 L264.27,861.42 L265.33,861.38 L266.39,861.26 L267.45,860.96 L268.51,861.13 L269.57,860.83 L270.63,860.66 L271.69,861.13 L272.75,860.57 L273.81,861.27 L274.87,861.01 L275.93,859.94 L276.99,860.61 L278.05,860.01 L279.11,860.27 L280.17,860.13 L281.23,859.28 L282.29,859.74 L283.35,859.58 L284.41,859.86 L285.47,858.95 L286.53,859.46 L287.59,858.65 L288.65,858.76 L289.71,858.42 L290.77,859.05 L291.83,858.58 L292.89,859.07 L293.95,858.28 L295.01,858.19 L296.07,858.03 L297.13,857.37 L298.19,857.41 L299.25,857.76 L300.32,857.01 L301.38,857.07 L302.44,856.87 L303.5,856.96 L304.56,856.5 L305.62,856.46 L306.68,856.49 L307.74,856.35 L308.8,855.92 L309.86,856.45 L310.92,855.62 L311.98,855.59 L313.04,855.51 L314.1,856.26 L315.16,855.77 L316.22,855.53 L317.28,855.47 L318.34,856.01 L319.4,855.5 L320.46,855.45 L321.52,856.13 L322.58,855.53 L323.64,855.88 L324.7,856.04 L325.76,855.94 L326.82,856.14 L327.88,856.69 L328.94,856.11 L330,855.93 L331.06,855.81 L332.12,856.47 L333.18,856.51 L334.24,856.83 L335.3,856.67 L336.36,856.77 L337.42,856.79 L338.48,856.97 L339.54,857.32 L340.6,857.24 L341.66,857.53 L342.72,858.28 L343.78,857.91 L344.84,857.33 L345.91,858.62 L346.97,858.28 L348.03,857.98 L349.09,858.78 L350.15,858.63 L351.21,858.58 L352.27,858.75 L353.33,858.81 L354.39,859.37 L355.45,859.93 L356.51,859.65 L357.57,860.13 L358.63,860.86 L359.69,860.02 L360.75,860.78 L361.81,860.84 L362.87,860.84 L363.93,861.13 L364.99,861.78 L366.05,862.24 L367.11,862.21 L368.17,862.75 L369.23,863.33 L370.29,863.54 L371.35,864.14 L372.41,864.41 L373.47,864.87 L374.53,865.82 L375.59,865.92 L376.65,866.31 L377.71,867.11 L378.77,867.19 L379.83,868.09 L380.89,869.23 L381.95,869.97 L383.01,871.14 L384.07,871.48 L385.13,871.87 L386.19,873.98 L387.25,874.6 L388.31,874.77 L389.37,876.53 L390.43,876.97 L391.49,877.22 L392.56,878.62 L393.62,879.49 L394.68,881.13 L395.74,881.21 L396.8,882.33 L397.86,883.25 L398.92,884.16 L399.98,884.93 L401.04,886.3 L402.1,887.6 L403.16,888.45 L404.22,888.95 L405.28,889.93 L406.34,891.46 L407.4,892.29 L408.46,893.46 L409.52,894.27 L410.58,896.75 L411.64,897.64 L412.7,898.27 L413.76,900.25 L414.82,901.78 L415.88,901.89 L416.94,904 L418,905.57 L419.06,907.49 L420.12,908.84 L421.18,910.47 L422.24,912.25 L423.3,914.67 L424.36,916.56 L425.42,917.43 L426.48,919.11 L427.54,922.21 L428.6,922.74 L429.66,924.7 L430.72,926.71 L431.78,928.64 L432.84,930.57 L433.9,932.04 L434.96,933.25 L436.02,935.34 L437.08,936.83 L438.15,938.95 L439.21,939.83 L440.27,940.91 L441.33,942.56 L442.39,945 L443.45,945.88 L444.51,946.91 L445.57,949.02 L446.63,950.79 L447.69,952.76 L448.75,953.51 L449.81,955.59 L450.87,957.09 L451.93,957.99 L452.99,959.54 L454.05,961.56 L455.11,962.84 L456.17,963.79 L457.23,964.81 L458.29,966.25 L459.35,966.91 L460.41,967.98 L461.47,968.72 L462.53,969.97 L463.59,970.83 L464.65,972.67 L465.71,972.42 L466.77,973.67 L467.83,974.39 L468.89,974.53 L469.95,975.64 L471.01,975.08 L472.07,976.46 L473.13,977.29 L474.19,976.7 L475.25,977.67 L476.31,978.98 L477.37,979.05 L478.43,979.3 L479.49,980.09 L480.55,980.59 L481.61,981.6 L482.67,982.09 L483.74,982.42 L484.8,982.88 L485.86,983.7 L486.92,984.79 L487.98,985.05 L489.04,985.76 L490.1,986.09 L491.16,986.29 L492.22,987.08 L493.28,988.14 L494.34,988.52 L495.4,988.73 L496.46,989.02 L497.52,990.16 L498.58,990.51 L499.64,990.99 L500.7,991.47 L501.76,992.12 L502.82,992.54 L503.88,993.16 L504.94,993.51 L506,993.97" fill="none" stroke="#3d5c64" stroke-width="3" stroke-linecap="butt" stroke-linejoin="round" />
<rect x="195.6" y="843.9" width="310.4" height="192.1" fill="none" stroke="#000" stroke-width="1.6"/>
<path d="M221.8,978.1 L259.4,978.1" fill="none" stroke="#3d5c64" stroke-width="5" stroke-linecap="butt" stroke-linejoin="round" />
<text x="195.6" y="1059.5" font-size="20" text-anchor="middle" >0</text>
<text x="287" y="1059.5" font-size="20" text-anchor="middle" >5</text>
<text x="378.4" y="1059.5" font-size="20" text-anchor="middle" >10</text>
<text x="469.8" y="1059.5" font-size="20" text-anchor="middle" >15</text>
<text x="186.5" y="889.5" font-size="20" text-anchor="end" >1</text>
<text x="187.5" y="966.5" font-size="20" text-anchor="end" >0.5</text>
<text x="187.5" y="1043" font-size="20" text-anchor="end" >0</text>
<text x="351" y="1088" font-size="20" text-anchor="middle" ><tspan font-style="italic">T</tspan> (K)</text>
<text transform="translate(140,940) rotate(-90)" font-size="20" text-anchor="middle"><tspan font-style="italic">R</tspan><tspan font-size="14" dy="5">W</tspan></text>
<text x="221.2" y="906.5" font-size="20" text-anchor="start" ><tspan font-style="italic">R</tspan><tspan font-size="14" dy="5">W</tspan><tspan dy="-5"> = 1 (fermi liquid)</tspan></text>
<text x="279.3" y="969.5" font-size="18" text-anchor="middle" >4</text>
<line x1="274" y1="978.5" x2="285" y2="978.5" stroke="#000" stroke-width="1.3" />
<text x="279.3" y="1001.5" font-size="18" text-anchor="middle" >3</text>
<text x="286" y="978" font-size="18" text-anchor="start" ><tspan font-style="italic">&#960;</tspan><tspan font-size="13" dy="-7">2</tspan></text>
<text x="313.5" y="989" font-size="26" text-anchor="start" >(</text>
<text x="350" y="969.2" font-size="17" text-anchor="middle" >k<tspan font-size="11" dy="2">B</tspan></text>
<line x1="326.3" y1="978.5" x2="373.7" y2="978.5" stroke="#000" stroke-width="1.3" />
<text x="349.5" y="997" font-size="18" text-anchor="middle" >g<tspan font-size="12" dy="2">Eff</tspan><tspan dy="-2" font-style="italic"> &#956;</tspan><tspan font-size="12" dy="2">B</tspan></text>
<text x="373" y="989" font-size="26" text-anchor="start" >)</text>
<text x="382.5" y="976" font-size="13" text-anchor="start" >2</text>
<text x="411.5" y="969.2" font-size="19" text-anchor="middle" font-style="italic">&#967;</text>
<line x1="394.7" y1="978.5" x2="428.4" y2="978.5" stroke="#000" stroke-width="1.3" />
<text x="412" y="1003" font-size="17.5" text-anchor="middle" ><tspan font-style="italic">C</tspan><tspan>&#8202;/&#8202;</tspan><tspan font-style="italic">T</tspan></text>
<rect x="637.6" y="902.2" width="324.79999999999995" height="200.70000000000005" fill="#fff" stroke="none"/>
<line x1="662.4" y1="1102.9" x2="662.4" y2="1093.9" stroke="#000" stroke-width="1.4" />
<line x1="662.4" y1="902.2" x2="662.4" y2="911.2" stroke="#000" stroke-width="1.4" />
<line x1="762.4" y1="1102.9" x2="762.4" y2="1093.9" stroke="#000" stroke-width="1.4" />
<line x1="762.4" y1="902.2" x2="762.4" y2="911.2" stroke="#000" stroke-width="1.4" />
<line x1="862.4" y1="1102.9" x2="862.4" y2="1093.9" stroke="#000" stroke-width="1.4" />
<line x1="862.4" y1="902.2" x2="862.4" y2="911.2" stroke="#000" stroke-width="1.4" />
<line x1="637.6" y1="1058.15" x2="650.2" y2="1058.15" stroke="#000" stroke-width="1.4" />
<line x1="962.4" y1="1058.15" x2="949.8" y2="1058.15" stroke="#000" stroke-width="1.4" />
<line x1="637.6" y1="1013.4" x2="650.2" y2="1013.4" stroke="#000" stroke-width="1.4" />
<line x1="962.4" y1="1013.4" x2="949.8" y2="1013.4" stroke="#000" stroke-width="1.4" />
<line x1="637.6" y1="968.65" x2="650.2" y2="968.65" stroke="#000" stroke-width="1.4" />
<line x1="962.4" y1="968.65" x2="949.8" y2="968.65" stroke="#000" stroke-width="1.4" />
<line x1="637.6" y1="923.9" x2="650.2" y2="923.9" stroke="#000" stroke-width="1.4" />
<line x1="962.4" y1="923.9" x2="949.8" y2="923.9" stroke="#000" stroke-width="1.4" />
<path d="M662.9,965.14 L663.68,966.44 L664.45,967.72 L665.23,968.98 L666.01,970.22 L666.79,971.45 L667.56,972.65 L668.34,973.84 L669.12,975.01 L669.9,976.17 L670.67,977.31 L671.45,978.43 L672.23,979.54 L673.01,980.63 L673.78,981.71 L674.56,982.77 L675.34,983.82 L676.11,984.85 L676.89,985.87 L677.67,986.88 L678.45,987.87 L679.22,988.85 L680,989.82 L680.78,990.77 L681.56,991.71 L682.33,992.65 L683.11,993.56 L683.89,994.47 L684.66,995.37 L685.44,996.25 L686.22,997.12 L687,997.99 L687.77,998.84 L688.55,999.68 L689.33,1000.51 L690.11,1001.34 L690.88,1002.15 L691.66,1002.95 L692.44,1003.74 L693.22,1004.53 L693.99,1005.3 L694.77,1006.07 L695.55,1006.82 L696.32,1007.57 L697.1,1008.31 L697.88,1009.04 L698.66,1009.76 L699.43,1010.48 L700.21,1011.18 L700.99,1011.88 L701.77,1012.57 L702.54,1013.26 L703.32,1013.93 L704.1,1014.6 L704.87,1015.27 L705.65,1015.92 L706.43,1016.57 L707.21,1017.21 L707.98,1017.84 L708.76,1018.47 L709.54,1019.09 L710.32,1019.7 L711.09,1020.31 L711.87,1020.91 L712.65,1021.51 L713.43,1022.1 L714.2,1022.68 L714.98,1023.26 L715.76,1023.83 L716.53,1024.4 L717.31,1024.96 L718.09,1025.51 L718.87,1026.06 L719.64,1026.61 L720.42,1027.15 L721.2,1027.68 L721.98,1028.21 L722.75,1028.73 L723.53,1029.25 L724.31,1029.76 L725.08,1030.27 L725.86,1030.78 L726.64,1031.27 L727.42,1031.77 L728.19,1032.26 L728.97,1032.74 L729.75,1033.23 L730.53,1033.7 L731.3,1034.17 L732.08,1034.64 L732.86,1035.11 L733.64,1035.57 L734.41,1036.02 L735.19,1036.47 L735.97,1036.92 L736.74,1037.36 L737.52,1037.8 L738.3,1038.24 L739.08,1038.67 L739.85,1039.1 L740.63,1039.52 L741.41,1039.94 L742.19,1040.36 L742.96,1040.77 L743.74,1041.18 L744.52,1041.59 L745.29,1041.99 L746.07,1042.39 L746.85,1042.79 L747.63,1043.18 L748.4,1043.57 L749.18,1043.96 L749.96,1044.34 L750.74,1044.72 L751.51,1045.1 L752.29,1045.47 L753.07,1045.85 L753.85,1046.21 L754.62,1046.58 L755.4,1046.94" fill="none" stroke="#3c5f69" stroke-width="6.2" stroke-linecap="round" stroke-linejoin="round" />
<path d="M759.9,1048.98 L760.74,1049.35 L761.57,1049.72 L762.41,1050.08 L763.24,1050.44 L764.08,1050.8 L764.91,1051.15 L765.75,1051.5 L766.58,1051.85 L767.42,1052.2 L768.26,1052.54 L769.09,1052.88 L769.93,1053.22 L770.76,1053.55 L771.6,1053.88 L772.43,1054.21 L773.27,1054.54 L774.1,1054.86 L774.94,1055.19 L775.78,1055.51 L776.61,1055.82 L777.45,1056.14 L778.28,1056.45 L779.12,1056.76 L779.95,1057.06 L780.79,1057.37 L781.62,1057.67 L782.46,1057.97 L783.3,1058.27 L784.13,1058.57 L784.97,1058.86 L785.8,1059.15 L786.64,1059.44 L787.47,1059.73 L788.31,1060.01 L789.14,1060.29 L789.98,1060.58 L790.82,1060.85 L791.65,1061.13 L792.49,1061.41 L793.32,1061.68 L794.16,1061.95 L794.99,1062.22 L795.83,1062.48 L796.67,1062.75 L797.5,1063.01 L798.34,1063.27 L799.17,1063.53 L800.01,1063.79 L800.84,1064.05 L801.68,1064.3 L802.51,1064.55 L803.35,1064.8 L804.19,1065.05 L805.02,1065.3 L805.86,1065.55 L806.69,1065.79 L807.53,1066.03 L808.36,1066.27 L809.2,1066.51 L810.03,1066.75 L810.87,1066.98 L811.71,1067.22 L812.54,1067.45 L813.38,1067.68 L814.21,1067.91 L815.05,1068.14 L815.88,1068.37 L816.72,1068.59 L817.55,1068.82 L818.39,1069.04 L819.23,1069.26 L820.06,1069.48 L820.9,1069.7 L821.73,1069.91 L822.57,1070.13 L823.4,1070.34 L824.24,1070.55 L825.07,1070.77 L825.91,1070.97 L826.75,1071.18 L827.58,1071.39 L828.42,1071.6 L829.25,1071.8 L830.09,1072 L830.92,1072.21 L831.76,1072.41 L832.59,1072.61 L833.43,1072.8 L834.27,1073 L835.1,1073.2 L835.94,1073.39 L836.77,1073.59 L837.61,1073.78 L838.44,1073.97 L839.28,1074.16 L840.11,1074.35 L840.95,1074.54 L841.79,1074.72 L842.62,1074.91 L843.46,1075.09 L844.29,1075.28 L845.13,1075.46 L845.96,1075.64 L846.8,1075.82 L847.63,1076 L848.47,1076.18 L849.31,1076.36 L850.14,1076.53 L850.98,1076.71 L851.81,1076.88 L852.65,1077.05 L853.48,1077.23 L854.32,1077.4 L855.16,1077.57 L855.99,1077.74 L856.83,1077.9 L857.66,1078.07 L858.5,1078.24 L859.33,1078.4 L860.17,1078.57 L861,1078.73 L861.84,1078.89 L862.68,1079.06 L863.51,1079.22 L864.35,1079.38 L865.18,1079.53 L866.02,1079.69 L866.85,1079.85 L867.69,1080.01 L868.52,1080.16 L869.36,1080.32 L870.2,1080.47 L871.03,1080.62 L871.87,1080.78 L872.7,1080.93 L873.54,1081.08 L874.37,1081.23 L875.21,1081.38 L876.04,1081.53 L876.88,1081.67 L877.72,1081.82 L878.55,1081.97 L879.39,1082.11 L880.22,1082.26 L881.06,1082.4 L881.89,1082.54 L882.73,1082.68 L883.56,1082.83 L884.4,1082.97" fill="none" stroke="#3c5f69" stroke-width="6.2" stroke-linecap="round" stroke-linejoin="round" />
<path d="M888.4,1083.63 L889.34,1083.78 L890.27,1083.94 L891.21,1084.09 L892.15,1084.24 L893.08,1084.39 L894.02,1084.54 L894.96,1084.68 L895.89,1084.83 L896.83,1084.98 L897.77,1085.12 L898.7,1085.27 L899.64,1085.41 L900.58,1085.56 L901.51,1085.7 L902.45,1085.84 L903.39,1085.98 L904.32,1086.12 L905.26,1086.26 L906.2,1086.4 L907.13,1086.54 L908.07,1086.67 L909.01,1086.81 L909.94,1086.94 L910.88,1087.08 L911.82,1087.21 L912.75,1087.35 L913.69,1087.48 L914.63,1087.61 L915.56,1087.74 L916.5,1087.87 L917.44,1088 L918.37,1088.13 L919.31,1088.26 L920.25,1088.39 L921.18,1088.52 L922.12,1088.64 L923.06,1088.77 L923.99,1088.89 L924.93,1089.02 L925.87,1089.14 L926.81,1089.27 L927.74,1089.39 L928.68,1089.51 L929.62,1089.63 L930.55,1089.75 L931.49,1089.87 L932.43,1089.99 L933.36,1090.11 L934.3,1090.23 L935.24,1090.35 L936.17,1090.47 L937.11,1090.58 L938.05,1090.7 L938.98,1090.81 L939.92,1090.93 L940.86,1091.04 L941.79,1091.16 L942.73,1091.27 L943.67,1091.38 L944.6,1091.49 L945.54,1091.61 L946.48,1091.72 L947.41,1091.83 L948.35,1091.94 L949.29,1092.05 L950.22,1092.16 L951.16,1092.26 L952.1,1092.37 L953.03,1092.48 L953.97,1092.59 L954.91,1092.69 L955.84,1092.8 L956.78,1092.9 L957.72,1093.01 L958.65,1093.11 L959.59,1093.22 L960.53,1093.32 L961.46,1093.42 L962.4,1093.53" fill="none" stroke="#3c5f69" stroke-width="6.2" stroke-linecap="round" stroke-linejoin="round" />
<path d="M637.4,940.59 L638.49,942.38 L639.57,944.14 L640.66,945.87 L641.75,947.58 L642.83,949.26 L643.92,950.91 L645.01,952.53 L646.1,954.13 L647.18,955.71 L648.27,957.26 L649.36,958.78 L650.44,960.29 L651.53,961.77 L652.62,963.23 L653.7,964.66 L654.79,966.08 L655.88,967.47 L656.97,968.85 L658.05,970.2 L659.14,971.54 L660.23,972.86 L661.31,974.16 L662.4,975.44 L663.49,976.7 L664.57,977.94 L665.66,979.17 L666.75,980.38 L667.83,981.58 L668.92,982.76 L670.01,983.92 L671.1,985.07 L672.18,986.2 L673.27,987.32 L674.36,988.42 L675.44,989.51 L676.53,990.59 L677.62,991.65 L678.7,992.69 L679.79,993.73 L680.88,994.75 L681.97,995.76 L683.05,996.76 L684.14,997.74 L685.23,998.71 L686.31,999.67 L687.4,1000.62 L688.49,1001.56 L689.57,1002.49 L690.66,1003.4 L691.75,1004.31 L692.83,1005.2 L693.92,1006.09 L695.01,1006.96 L696.1,1007.82 L697.18,1008.68 L698.27,1009.52 L699.36,1010.36 L700.44,1011.18 L701.53,1012 L702.62,1012.8 L703.7,1013.6 L704.79,1014.39 L705.88,1015.17 L706.97,1015.94 L708.05,1016.71 L709.14,1017.46 L710.23,1018.21 L711.31,1018.95 L712.4,1019.68 L713.49,1020.4 L714.57,1021.12 L715.66,1021.83 L716.75,1022.53 L717.83,1023.22 L718.92,1023.91 L720.01,1024.59 L721.1,1025.26 L722.18,1025.93 L723.27,1026.59 L724.36,1027.24 L725.44,1027.89 L726.53,1028.53 L727.62,1029.16 L728.7,1029.79 L729.79,1030.41 L730.88,1031.03 L731.97,1031.64 L733.05,1032.24 L734.14,1032.84 L735.23,1033.43 L736.31,1034.02 L737.4,1034.6 L738.49,1035.17 L739.57,1035.75 L740.66,1036.31 L741.75,1036.87 L742.83,1037.42 L743.92,1037.97 L745.01,1038.52 L746.1,1039.06 L747.18,1039.59 L748.27,1040.12 L749.36,1040.65 L750.44,1041.17 L751.53,1041.68 L752.62,1042.19 L753.7,1042.7 L754.79,1043.2 L755.88,1043.7 L756.97,1044.19 L758.05,1044.68 L759.14,1045.17 L760.23,1045.65 L761.31,1046.13 L762.4,1046.6 L763.49,1047.07 L764.57,1047.53 L765.66,1047.99 L766.75,1048.45 L767.83,1048.9 L768.92,1049.35 L770.01,1049.8 L771.1,1050.24 L772.18,1050.68 L773.27,1051.11 L774.36,1051.54 L775.44,1051.97 L776.53,1052.4 L777.62,1052.82 L778.7,1053.23 L779.79,1053.65 L780.88,1054.06 L781.97,1054.47 L783.05,1054.87 L784.14,1055.27 L785.23,1055.67 L786.31,1056.07 L787.4,1056.46 L788.49,1056.85 L789.57,1057.23 L790.66,1057.62 L791.75,1058 L792.83,1058.37 L793.92,1058.75 L795.01,1059.12 L796.1,1059.49 L797.18,1059.85 L798.27,1060.22 L799.36,1060.58 L800.44,1060.93 L801.53,1061.29 L802.62,1061.64 L803.7,1061.99 L804.79,1062.34 L805.88,1062.68 L806.97,1063.03 L808.05,1063.37 L809.14,1063.7 L810.23,1064.04 L811.31,1064.37 L812.4,1064.7 L813.49,1065.03 L814.57,1065.36 L815.66,1065.68 L816.75,1066 L817.83,1066.32 L818.92,1066.64 L820.01,1066.95 L821.1,1067.26 L822.18,1067.57 L823.27,1067.88 L824.36,1068.19 L825.44,1068.49 L826.53,1068.79 L827.62,1069.09 L828.7,1069.39 L829.79,1069.68 L830.88,1069.98 L831.97,1070.27 L833.05,1070.56 L834.14,1070.85 L835.23,1071.13 L836.31,1071.42 L837.4,1071.7 L838.49,1071.98 L839.57,1072.26 L840.66,1072.53 L841.75,1072.81 L842.83,1073.08 L843.92,1073.35 L845.01,1073.62 L846.1,1073.89 L847.18,1074.16 L848.27,1074.42 L849.36,1074.68 L850.44,1074.95 L851.53,1075.21 L852.62,1075.46 L853.7,1075.72 L854.79,1075.97 L855.88,1076.23 L856.97,1076.48 L858.05,1076.73 L859.14,1076.98 L860.23,1077.22 L861.31,1077.47 L862.4,1077.71 L863.49,1077.95 L864.57,1078.2 L865.66,1078.43 L866.75,1078.67 L867.83,1078.91 L868.92,1079.14 L870.01,1079.38 L871.1,1079.61 L872.18,1079.84 L873.27,1080.07 L874.36,1080.3 L875.44,1080.53 L876.53,1080.75 L877.62,1080.98 L878.7,1081.2 L879.79,1081.42 L880.88,1081.64 L881.97,1081.86 L883.05,1082.08 L884.14,1082.29 L885.23,1082.51 L886.31,1082.72 L887.4,1082.93 L888.49,1083.15 L889.57,1083.36 L890.66,1083.57 L891.75,1083.77 L892.83,1083.98 L893.92,1084.19 L895.01,1084.39 L896.1,1084.59 L897.18,1084.8 L898.27,1085 L899.36,1085.2 L900.44,1085.4 L901.53,1085.59 L902.62,1085.79 L903.7,1085.99 L904.79,1086.18 L905.88,1086.37 L906.97,1086.57 L908.05,1086.76 L909.14,1086.95 L910.23,1087.14 L911.31,1087.33 L912.4,1087.51 L913.49,1087.7 L914.57,1087.88 L915.66,1088.07 L916.75,1088.25 L917.83,1088.43 L918.92,1088.62 L920.01,1088.8 L921.1,1088.98 L922.18,1089.15 L923.27,1089.33 L924.36,1089.51 L925.44,1089.68 L926.53,1089.86 L927.62,1090.03 L928.7,1090.21 L929.79,1090.38 L930.88,1090.55 L931.97,1090.72 L933.05,1090.89 L934.14,1091.06 L935.23,1091.23 L936.31,1091.39 L937.4,1091.56 L938.49,1091.72 L939.57,1091.89 L940.66,1092.05 L941.75,1092.22 L942.83,1092.38 L943.92,1092.54 L945.01,1092.7 L946.1,1092.86 L947.18,1093.02 L948.27,1093.18 L949.36,1093.33 L950.44,1093.49 L951.53,1093.65 L952.62,1093.8 L953.7,1093.95 L954.79,1094.11 L955.88,1094.26 L956.97,1094.41 L958.05,1094.56 L959.14,1094.71 L960.23,1094.86 L961.31,1095.01 L962.4,1095.16" fill="none" stroke="#f5861f" stroke-width="3.6" stroke-linecap="butt" stroke-linejoin="round" stroke-dasharray="10.5 4.5" />
<path d="M653.4,901.77 L654.43,904.53 L655.47,907.23 L656.5,909.87 L657.53,912.45 L658.57,914.98 L659.6,917.46 L660.63,919.88 L661.67,922.25 L662.7,924.57 L663.73,926.85 L664.77,929.08 L665.8,931.26 L666.83,933.4 L667.87,935.5 L668.9,937.56 L669.94,939.58 L670.97,941.56 L672,943.5 L673.04,945.41 L674.07,947.28 L675.1,949.12 L676.14,950.92 L677.17,952.69 L678.2,954.43 L679.24,956.14 L680.27,957.82 L681.3,959.47 L682.34,961.09 L683.37,962.69 L684.4,964.25 L685.44,965.79 L686.47,967.31 L687.5,968.8 L688.54,970.26 L689.57,971.71 L690.6,973.12 L691.64,974.52 L692.67,975.89 L693.7,977.24 L694.74,978.58 L695.77,979.89 L696.8,981.18 L697.84,982.45 L698.87,983.7 L699.91,984.93 L700.94,986.14 L701.97,987.34 L703.01,988.52 L704.04,989.68 L705.07,990.82 L706.11,991.95 L707.14,993.06 L708.17,994.16 L709.21,995.24 L710.24,996.3 L711.27,997.35 L712.31,998.39 L713.34,999.41 L714.37,1000.42 L715.41,1001.41 L716.44,1002.4 L717.47,1003.36 L718.51,1004.32 L719.54,1005.26 L720.57,1006.19 L721.61,1007.11 L722.64,1008.02 L723.67,1008.91 L724.71,1009.79 L725.74,1010.67 L726.77,1011.53 L727.81,1012.38 L728.84,1013.22 L729.87,1014.05 L730.91,1014.87 L731.94,1015.68 L732.98,1016.48 L734.01,1017.27 L735.04,1018.05 L736.08,1018.82 L737.11,1019.58 L738.14,1020.33 L739.18,1021.08 L740.21,1021.81 L741.24,1022.54 L742.28,1023.26 L743.31,1023.97 L744.34,1024.67 L745.38,1025.37 L746.41,1026.05 L747.44,1026.73 L748.48,1027.4 L749.51,1028.07 L750.54,1028.73 L751.58,1029.37 L752.61,1030.02 L753.64,1030.65 L754.68,1031.28 L755.71,1031.9 L756.74,1032.52 L757.78,1033.13 L758.81,1033.73 L759.84,1034.33 L760.88,1034.92 L761.91,1035.5 L762.95,1036.08 L763.98,1036.65 L765.01,1037.22 L766.05,1037.78 L767.08,1038.33 L768.11,1038.88 L769.15,1039.43 L770.18,1039.96 L771.21,1040.5 L772.25,1041.02 L773.28,1041.55 L774.31,1042.06 L775.35,1042.58 L776.38,1043.08 L777.41,1043.59 L778.45,1044.08 L779.48,1044.58 L780.51,1045.07 L781.55,1045.55 L782.58,1046.03 L783.61,1046.5 L784.65,1046.97 L785.68,1047.44 L786.71,1047.9 L787.75,1048.36 L788.78,1048.81 L789.81,1049.26 L790.85,1049.71 L791.88,1050.15 L792.92,1050.58 L793.95,1051.02 L794.98,1051.45 L796.02,1051.87 L797.05,1052.29 L798.08,1052.71 L799.12,1053.13 L800.15,1053.54 L801.18,1053.95 L802.22,1054.35 L803.25,1054.75 L804.28,1055.15 L805.32,1055.54 L806.35,1055.93 L807.38,1056.32 L808.42,1056.7 L809.45,1057.08 L810.48,1057.46 L811.52,1057.83 L812.55,1058.2 L813.58,1058.57 L814.62,1058.94 L815.65,1059.3 L816.68,1059.66 L817.72,1060.01 L818.75,1060.37 L819.78,1060.72 L820.82,1061.07 L821.85,1061.41 L822.88,1061.75 L823.92,1062.09 L824.95,1062.43 L825.99,1062.76 L827.02,1063.09 L828.05,1063.42 L829.09,1063.75 L830.12,1064.07 L831.15,1064.39 L832.19,1064.71 L833.22,1065.03 L834.25,1065.34 L835.29,1065.66 L836.32,1065.97 L837.35,1066.27 L838.39,1066.58 L839.42,1066.88 L840.45,1067.18 L841.49,1067.48 L842.52,1067.77 L843.55,1068.07 L844.59,1068.36 L845.62,1068.65 L846.65,1068.94 L847.69,1069.22 L848.72,1069.5 L849.75,1069.78 L850.79,1070.06 L851.82,1070.34 L852.85,1070.62 L853.89,1070.89 L854.92,1071.16 L855.96,1071.43 L856.99,1071.7 L858.02,1071.96 L859.06,1072.23 L860.09,1072.49 L861.12,1072.75 L862.16,1073.01 L863.19,1073.26 L864.22,1073.52 L865.26,1073.77 L866.29,1074.02 L867.32,1074.27 L868.36,1074.52 L869.39,1074.76 L870.42,1075.01 L871.46,1075.25 L872.49,1075.49 L873.52,1075.73 L874.56,1075.97 L875.59,1076.21 L876.62,1076.44 L877.66,1076.68 L878.69,1076.91 L879.72,1077.14 L880.76,1077.37 L881.79,1077.59 L882.82,1077.82 L883.86,1078.05 L884.89,1078.27 L885.93,1078.49 L886.96,1078.71 L887.99,1078.93 L889.03,1079.15 L890.06,1079.36 L891.09,1079.58 L892.13,1079.79 L893.16,1080 L894.19,1080.21 L895.23,1080.42 L896.26,1080.63 L897.29,1080.84 L898.33,1081.04 L899.36,1081.25 L900.39,1081.45 L901.43,1081.65 L902.46,1081.85 L903.49,1082.05 L904.53,1082.25 L905.56,1082.45 L906.59,1082.64 L907.63,1082.84 L908.66,1083.03 L909.69,1083.22 L910.73,1083.41 L911.76,1083.6 L912.79,1083.79 L913.83,1083.98 L914.86,1084.17 L915.89,1084.35 L916.93,1084.54 L917.96,1084.72 L919,1084.9 L920.03,1085.09 L921.06,1085.27 L922.1,1085.44 L923.13,1085.62 L924.16,1085.8 L925.2,1085.98 L926.23,1086.15 L927.26,1086.33 L928.3,1086.5 L929.33,1086.67 L930.36,1086.84 L931.4,1087.01 L932.43,1087.18 L933.46,1087.35 L934.5,1087.52 L935.53,1087.68 L936.56,1087.85 L937.6,1088.01 L938.63,1088.18 L939.66,1088.34 L940.7,1088.5 L941.73,1088.66 L942.76,1088.82 L943.8,1088.98 L944.83,1089.14 L945.86,1089.3 L946.9,1089.46 L947.93,1089.61 L948.97,1089.77 L950,1089.92 L951.03,1090.08 L952.07,1090.23 L953.1,1090.38 L954.13,1090.53 L955.17,1090.68 L956.2,1090.83 L957.23,1090.98 L958.27,1091.13 L959.3,1091.28 L960.33,1091.42 L961.37,1091.57 L962.4,1091.71" fill="none" stroke="#000" stroke-width="4.4" stroke-linecap="butt" stroke-linejoin="round" stroke-dasharray="6.5 4" />
<rect x="637.6" y="902.2" width="324.8" height="200.7" fill="none" stroke="#000" stroke-width="1.5"/>
<path d="M779.7,924.1 L854.5,924.1" fill="none" stroke="#f5861f" stroke-width="3.6" stroke-linecap="butt" stroke-linejoin="round" stroke-dasharray="11.4 4.45" />
<path d="M779.7,962.6 L854.5,962.6" fill="none" stroke="#000" stroke-width="4.4" stroke-linecap="butt" stroke-linejoin="round" stroke-dasharray="6.5 4" />
<text x="858.8" y="931.3" font-size="21" text-anchor="start" ><tspan font-style="italic">&#967;</tspan>(Kondo)</text>
<text x="858.8" y="969.8" font-size="21" text-anchor="start" >1/<tspan font-style="italic">T</tspan></text>
<text x="864.5" y="1044.7" font-size="21.3" text-anchor="start" >0.05 T</text>
<text x="662.4" y="1128" font-size="20" text-anchor="middle" >2</text>
<text x="762.4" y="1128" font-size="20" text-anchor="middle" >4</text>
<text x="862.4" y="1128" font-size="20" text-anchor="middle" >6</text>
<text x="962.4" y="1128" font-size="20" text-anchor="middle" >8</text>
<text x="628.5" y="1110.1" font-size="20" text-anchor="end" >1</text>
<text x="628.5" y="1065.35" font-size="20" text-anchor="end" >2</text>
<text x="628.5" y="1020.6" font-size="20" text-anchor="end" >3</text>
<text x="628.5" y="975.85" font-size="20" text-anchor="end" >4</text>
<text x="628.5" y="931.1" font-size="20" text-anchor="end" >5</text>
<text x="801.5" y="1156" font-size="20" text-anchor="middle" ><tspan font-style="italic">T</tspan> (K)</text>
<text transform="translate(594.5,1002) rotate(-90)" font-size="20" text-anchor="middle"><tspan font-style="italic">&#967;</tspan><tspan font-size="14" dy="5">imp</tspan><tspan dy="-5">/</tspan><tspan font-style="italic">&#967;</tspan><tspan font-size="14" dy="5">imp</tspan><tspan dy="-5">(10&#8201;K)</tspan></text>
<line x1="113" y1="1653" x2="1003.5" y2="1653" stroke="#000" stroke-width="1.1" />
<rect x="586" y="1598" width="371" height="290" fill="#fff"/>
<line x1="557.6" y1="1377.3" x2="557.6" y2="1927.5" stroke="#000" stroke-width="1.1" />
<line x1="215" y1="1927.5" x2="215" y2="1915" stroke="#000" stroke-width="2" />
<line x1="215" y1="1377.3" x2="215" y2="1389.8" stroke="#000" stroke-width="2" />
<text x="213.5" y="1962.3" font-size="29.5" text-anchor="middle" >&#8211;12</text>
<line x1="329.2" y1="1927.5" x2="329.2" y2="1915" stroke="#000" stroke-width="2" />
<line x1="329.2" y1="1377.3" x2="329.2" y2="1389.8" stroke="#000" stroke-width="2" />
<text x="327.7" y="1962.3" font-size="29.5" text-anchor="middle" >&#8211;8</text>
<line x1="443.4" y1="1927.5" x2="443.4" y2="1915" stroke="#000" stroke-width="2" />
<line x1="443.4" y1="1377.3" x2="443.4" y2="1389.8" stroke="#000" stroke-width="2" />
<text x="441.9" y="1962.3" font-size="29.5" text-anchor="middle" >&#8211;4</text>
<line x1="557.6" y1="1927.5" x2="557.6" y2="1915" stroke="#000" stroke-width="2" />
<line x1="557.6" y1="1377.3" x2="557.6" y2="1389.8" stroke="#000" stroke-width="2" />
<text x="557.6" y="1962.3" font-size="29.5" text-anchor="middle" >0</text>
<line x1="671.8" y1="1927.5" x2="671.8" y2="1915" stroke="#000" stroke-width="2" />
<line x1="671.8" y1="1377.3" x2="671.8" y2="1389.8" stroke="#000" stroke-width="2" />
<text x="671.8" y="1962.3" font-size="29.5" text-anchor="middle" >4</text>
<line x1="786" y1="1927.5" x2="786" y2="1915" stroke="#000" stroke-width="2" />
<line x1="786" y1="1377.3" x2="786" y2="1389.8" stroke="#000" stroke-width="2" />
<text x="786" y="1962.3" font-size="29.5" text-anchor="middle" >8</text>
<line x1="900.2" y1="1927.5" x2="900.2" y2="1915" stroke="#000" stroke-width="2" />
<line x1="900.2" y1="1377.3" x2="900.2" y2="1389.8" stroke="#000" stroke-width="2" />
<text x="900.2" y="1962.3" font-size="29.5" text-anchor="middle" >12</text>
<line x1="113" y1="1854.6" x2="129.5" y2="1854.6" stroke="#000" stroke-width="2" />
<line x1="1003.5" y1="1854.6" x2="987" y2="1854.6" stroke="#000" stroke-width="2" />
<text x="100.5" y="1863.8" font-size="29.5" text-anchor="end" >&#8211;6</text>
<line x1="113" y1="1753.8" x2="129.5" y2="1753.8" stroke="#000" stroke-width="2" />
<line x1="1003.5" y1="1753.8" x2="987" y2="1753.8" stroke="#000" stroke-width="2" />
<text x="100.5" y="1763" font-size="29.5" text-anchor="end" >&#8211;3</text>
<line x1="113" y1="1653" x2="129.5" y2="1653" stroke="#000" stroke-width="2" />
<line x1="1003.5" y1="1653" x2="987" y2="1653" stroke="#000" stroke-width="2" />
<text x="100.5" y="1662.2" font-size="29.5" text-anchor="end" >0</text>
<line x1="113" y1="1552.2" x2="129.5" y2="1552.2" stroke="#000" stroke-width="2" />
<line x1="1003.5" y1="1552.2" x2="987" y2="1552.2" stroke="#000" stroke-width="2" />
<text x="100.5" y="1561.4" font-size="29.5" text-anchor="end" >3</text>
<line x1="113" y1="1451.4" x2="129.5" y2="1451.4" stroke="#000" stroke-width="2" />
<line x1="1003.5" y1="1451.4" x2="987" y2="1451.4" stroke="#000" stroke-width="2" />
<text x="100.5" y="1460.6" font-size="29.5" text-anchor="end" >6</text>
<path d="M155.17,1908.25 L155.5,1908.35 L155.84,1908.15 L156.17,1907.92 L156.51,1908.07 L156.84,1907.88 L157.18,1908.24 L157.53,1908.68 L157.85,1908.03 L158.19,1907.98 L158.53,1908.37 L158.86,1908.31 L159.2,1908.22 L159.53,1907.85 L159.87,1908.16 L160.21,1908.41 L160.53,1907.69 L160.87,1907.99 L161.2,1907.48 L161.54,1907.69 L161.87,1907.49 L162.22,1908.05 L162.55,1907.68 L162.89,1908.21 L163.23,1908.17 L163.56,1908.04 L163.88,1907.22 L164.23,1907.91 L164.57,1908.07 L164.91,1908.12 L165.23,1907.54 L165.57,1907.91 L165.91,1907.72 L166.24,1907.78 L166.59,1908.43 L166.92,1907.77 L167.26,1908.03 L167.6,1908.35 L167.92,1907.83 L168.26,1907.99 L168.6,1908.06 L168.94,1908.03 L169.26,1907.58 L169.61,1908.03 L169.95,1908.47 L170.27,1907.45 L170.62,1908.28 L170.95,1908.02 L171.28,1907.75 L171.63,1908.66 L171.96,1908.22 L172.29,1907.53 L172.63,1907.97 L172.97,1908.14 L173.3,1907.87 L173.64,1908.17 L173.97,1907.9 L174.31,1908.15 L174.65,1908.41 L174.98,1907.67 L175.32,1907.97 L175.65,1907.73 L175.99,1907.93 L176.32,1907.46 L176.66,1907.67 L176.99,1907.8 L177.34,1908.17 L177.67,1908.25 L177.99,1907.38 L178.33,1907.56 L178.68,1908.06 L179,1907.13 L179.34,1907.66 L179.68,1907.78 L180.03,1908.25 L180.36,1908.04 L180.69,1907.68 L181.02,1907.66 L181.36,1907.69 L181.71,1908.31 L182.03,1907.62 L182.37,1907.66 L182.71,1907.88 L183.04,1907.71 L183.38,1907.67 L183.7,1907.35 L184.05,1907.72 L184.38,1907.57 L184.73,1908.12 L185.06,1907.94 L185.39,1907.69 L185.73,1907.93 L186.06,1907.57 L186.41,1908.05 L186.74,1907.67 L187.08,1907.87 L187.4,1907.21 L187.75,1907.78 L188.07,1907.06 L188.4,1906.93 L188.75,1907.53 L189.08,1907.31 L189.42,1907.68 L189.77,1908.4 L190.09,1907.32 L190.43,1907.38 L190.77,1907.67 L191.11,1907.76 L191.44,1907.52 L191.77,1907.5 L192.11,1907.81 L192.45,1907.74 L192.77,1907.19 L193.12,1907.52 L193.45,1907.55 L193.78,1907.16 L194.13,1907.62 L194.45,1907.22 L194.8,1907.85 L195.13,1907.57 L195.47,1907.53 L195.8,1907.29 L196.14,1907.44 L196.46,1906.78 L196.8,1907.07 L197.15,1907.59 L197.47,1906.71 L197.83,1907.75 L198.14,1906.83 L198.5,1907.7 L198.82,1907.13 L199.17,1907.69 L199.5,1907.46 L199.82,1906.87 L200.18,1907.84 L200.52,1907.9 L200.84,1907.36 L201.18,1907.28 L201.51,1907.32 L201.84,1907.02 L202.19,1907.74 L202.52,1907.16 L202.86,1907.32 L203.19,1907.06 L203.52,1907.11 L203.86,1906.87 L204.21,1907.75 L204.54,1907.25 L204.88,1907.64 L205.21,1907.3 L205.54,1907.04 L205.88,1907.16 L206.21,1907.07 L206.55,1907.26 L206.89,1907.12 L207.22,1907.14 L207.55,1906.76 L207.89,1906.95 L208.24,1907.8 L208.56,1906.98 L208.9,1906.84 L209.24,1907.32 L209.59,1907.69 L209.9,1906.68 L210.25,1907.11 L210.58,1906.95 L210.91,1906.55 L211.26,1907.41 L211.59,1907.14 L211.93,1907.17 L212.26,1906.87 L212.6,1907.28 L212.93,1906.93 L213.27,1907.06 L213.6,1906.71 L213.93,1906.67 L214.29,1907.55 L214.61,1906.9 L214.95,1907.17 L215.29,1907.05 L215.62,1906.9 L215.95,1906.87 L216.3,1907.26 L216.63,1906.93 L216.96,1906.97 L217.3,1907.02 L217.65,1907.42 L217.98,1907.24 L218.31,1907.13 L218.64,1906.79 L218.97,1906.49 L219.33,1907.3 L219.66,1907.3 L219.99,1906.9 L220.33,1907.13 L220.67,1907.21 L221,1907.22 L221.34,1907.24 L221.67,1906.75 L222.02,1907.43 L222.33,1906.46 L222.68,1907.19 L223.02,1907.05 L223.36,1907.18 L223.7,1907.52 L224.03,1907.37 L224.35,1906.45 L224.68,1906.25 L225.04,1907.12 L225.36,1906.47 L225.7,1906.81 L226.04,1907.1 L226.36,1906.22 L226.69,1906.05 L227.05,1906.87 L227.38,1906.79 L227.71,1906.68 L228.05,1906.77 L228.38,1906.45 L228.71,1906.21 L229.06,1906.67 L229.39,1906.38 L229.72,1906.14 L230.07,1906.88 L230.4,1906.67 L230.74,1906.83 L231.07,1906.33 L231.41,1906.44 L231.74,1906.31 L232.08,1906.34 L232.42,1906.71 L232.75,1906.36 L233.1,1906.75 L233.43,1906.74 L233.78,1907.32 L234.09,1906.11 L234.44,1906.9 L234.77,1906.55 L235.11,1906.57 L235.43,1906.06 L235.78,1906.4 L236.12,1906.81 L236.45,1906.51 L236.79,1906.56 L237.12,1906.42 L237.47,1906.92 L237.8,1906.5 L238.11,1905.72 L238.46,1906.24 L238.79,1905.79 L239.11,1905.33 L239.47,1906.27 L239.82,1906.92 L240.15,1906.46 L240.47,1906.02 L240.81,1906.09 L241.17,1906.81 L241.49,1906.46 L241.83,1906.41 L242.16,1906.37 L242.5,1906.39 L242.84,1906.65 L243.18,1906.55 L243.51,1906.42 L243.83,1905.97 L244.19,1906.51 L244.51,1906.08 L244.86,1906.69 L245.18,1905.86 L245.52,1906.24 L245.86,1906.28 L246.18,1905.81 L246.55,1906.87 L246.88,1906.77 L247.2,1906.08 L247.55,1906.51 L247.88,1906.36 L248.19,1905.3 L248.55,1906.29 L248.88,1906.18 L249.22,1906.22 L249.55,1905.8 L249.89,1906.07 L250.23,1906.1 L250.58,1906.56 L250.9,1906.26 L251.24,1906.13 L251.59,1906.65 L251.9,1905.92 L252.24,1905.96 L252.56,1905.45 L252.93,1906.63 L253.26,1906.41 L253.6,1906.38 L253.93,1906.28 L254.26,1906.08 L254.6,1906.11 L254.93,1905.93 L255.27,1905.94 L255.61,1906.02 L255.96,1906.52 L256.28,1906.17 L256.61,1905.95 L256.94,1905.76 L257.28,1905.73 L257.64,1906.5 L257.96,1906.11 L258.3,1905.94 L258.63,1905.79 L258.96,1905.51 L259.3,1905.87 L259.65,1906.18 L259.97,1905.73 L260.31,1905.78 L260.65,1905.77 L260.99,1905.88 L261.3,1905.27 L261.65,1905.73 L261.98,1905.51 L262.34,1906.1 L262.66,1905.52 L263.01,1905.98 L263.35,1906.3 L263.67,1905.64 L264,1905.53 L264.35,1905.8 L264.68,1905.72 L265.01,1905.36 L265.36,1905.86 L265.71,1906.39 L266.02,1905.59 L266.36,1905.6 L266.69,1905.29 L267.04,1905.76 L267.36,1905.2 L267.69,1905.24 L268.06,1906.06 L268.37,1905.29 L268.73,1905.97 L269.07,1906.11 L269.39,1905.66 L269.73,1905.75 L270.08,1906.23 L270.39,1905.47 L270.73,1905.32 L271.05,1905.04 L271.4,1905.52 L271.76,1906.01 L272.09,1905.82 L272.4,1905.14 L272.74,1905.16 L273.08,1905.27 L273.42,1905.54 L273.76,1905.35 L274.1,1905.49 L274.43,1905.51 L274.76,1905.29 L275.1,1905.36 L275.44,1905.44 L275.77,1905.33 L276.12,1905.52 L276.47,1905.99 L276.79,1905.53 L277.12,1905.33 L277.44,1904.71 L277.8,1905.42 L278.1,1904.59 L278.45,1904.77 L278.81,1905.55 L279.15,1905.49 L279.47,1905.17 L279.79,1904.62 L280.14,1905.07 L280.47,1904.95 L280.83,1905.4 L281.18,1905.96 L281.49,1905.23 L281.82,1904.87 L282.15,1904.72 L282.5,1905.1 L282.83,1905.05 L283.16,1904.69 L283.51,1905.12 L283.83,1904.67 L284.19,1905.45 L284.53,1905.42 L284.87,1905.41 L285.18,1904.86 L285.53,1905.19 L285.86,1904.95 L286.19,1904.85 L286.53,1904.85 L286.85,1904.5 L287.19,1904.44 L287.55,1905.21 L287.88,1904.86 L288.22,1904.99 L288.56,1905.25 L288.86,1904.28 L289.21,1904.6 L289.56,1904.92 L289.9,1904.98 L290.23,1904.7 L290.58,1905.18 L290.91,1904.88 L291.23,1904.37 L291.57,1904.46 L291.93,1905.05 L292.26,1904.92 L292.56,1904.08 L292.94,1905.2 L293.27,1904.93 L293.61,1905.17 L293.93,1904.56 L294.26,1904.57 L294.59,1904.27 L294.98,1905.54 L295.28,1904.58 L295.64,1905.18 L295.94,1904.38 L296.29,1904.65 L296.6,1904 L296.95,1904.44 L297.31,1904.9 L297.61,1904.11 L297.98,1904.9 L298.31,1904.63 L298.63,1904.14 L298.97,1904.31 L299.31,1904.31 L299.65,1904.44 L299.98,1904.26 L300.31,1904.14 L300.65,1904.31 L300.98,1904.05 L301.31,1903.94 L301.67,1904.36 L302.02,1904.67 L302.32,1903.82 L302.68,1904.34 L303,1904.09 L303.34,1903.97 L303.7,1904.59 L304.02,1904.1 L304.38,1904.79 L304.68,1903.98 L305.04,1904.37 L305.37,1904.14 L305.69,1903.94 L306.05,1904.4 L306.38,1904.12 L306.72,1904.38 L307.05,1904.13 L307.37,1903.76 L307.72,1904.08 L308.06,1904.12 L308.41,1904.43 L308.72,1903.76 L309.07,1904.05 L309.38,1903.44 L309.75,1904.26 L310.06,1903.64 L310.39,1903.37 L310.75,1903.97 L311.11,1904.36 L311.4,1903.42 L311.74,1903.56 L312.09,1903.67 L312.42,1903.52 L312.78,1904.03 L313.09,1903.6 L313.43,1903.61 L313.79,1904.05 L314.11,1903.57 L314.46,1903.97 L314.77,1903.46 L315.11,1903.36 L315.43,1903.13 L315.83,1904.41 L316.13,1903.63 L316.48,1903.81 L316.81,1903.7 L317.15,1903.75 L317.48,1903.7 L317.85,1904.33 L318.14,1903.28 L318.47,1903.09 L318.81,1903.26 L319.14,1903.13 L319.51,1903.84 L319.85,1903.85 L320.16,1903.21 L320.49,1903.05 L320.84,1903.39 L321.21,1903.99 L321.47,1902.5 L321.87,1903.65 L322.18,1903.08 L322.55,1903.8 L322.85,1903.04 L323.2,1903.3 L323.52,1902.86 L323.86,1903.03 L324.24,1903.84 L324.57,1903.62 L324.88,1903.18 L325.21,1903 L325.53,1902.62 L325.89,1903.13 L326.23,1903.24 L326.57,1903.2 L326.91,1903.18 L327.22,1902.81 L327.58,1903.16 L327.92,1903.15 L328.28,1903.6 L328.62,1903.78 L328.93,1903.06 L329.25,1902.83 L329.6,1903.05 L329.93,1902.85 L330.26,1902.78 L330.61,1903 L330.93,1902.64 L331.3,1903.2 L331.62,1902.93 L331.96,1903.04 L332.29,1902.87 L332.62,1902.66 L332.95,1902.57 L333.3,1902.8 L333.63,1902.67 L333.98,1902.92 L334.32,1902.82 L334.63,1902.33 L334.99,1902.81 L335.3,1902.3 L335.65,1902.54 L335.99,1902.63 L336.3,1901.99 L336.68,1902.73 L337.01,1902.73 L337.34,1902.6 L337.68,1902.49 L338.01,1902.49 L338.34,1902.26 L338.69,1902.49 L339.02,1902.37 L339.37,1902.57 L339.68,1902.1 L340.05,1902.59 L340.38,1902.54 L340.71,1902.42 L341.04,1902.29 L341.4,1902.62 L341.69,1901.83 L342.07,1902.55 L342.41,1902.45 L342.74,1902.45 L343.08,1902.46 L343.4,1902.08 L343.74,1902.2 L344.1,1902.49 L344.43,1902.4 L344.76,1902.3 L345.06,1901.68 L345.44,1902.38 L345.79,1902.58 L346.13,1902.5 L346.45,1902.21 L346.75,1901.56 L347.14,1902.41 L347.45,1902.01 L347.74,1901.16 L348.14,1902.15 L348.43,1901.48 L348.77,1901.53 L349.13,1901.74 L349.5,1902.38 L349.81,1901.79 L350.16,1901.99 L350.53,1902.49 L350.86,1902.41 L351.16,1901.8 L351.49,1901.73 L351.81,1901.35 L352.16,1901.52 L352.52,1901.89 L352.86,1901.86 L353.19,1901.74 L353.54,1902.03 L353.84,1901.39 L354.19,1901.62 L354.55,1901.87 L354.88,1901.8 L355.23,1901.94 L355.55,1901.69 L355.87,1901.42 L356.23,1901.63 L356.53,1901.13 L356.86,1900.88 L357.24,1901.64 L357.57,1901.39 L357.91,1901.5 L358.2,1900.77 L358.57,1901.21 L358.9,1901.11 L359.23,1900.99 L359.54,1900.48 L359.92,1901.13 L360.29,1901.54 L360.61,1901.33 L360.93,1900.97 L361.28,1901.15 L361.63,1901.39 L361.88,1900.14 L362.29,1901.04 L362.64,1901.25 L362.98,1901.27 L363.35,1901.6 L363.67,1901.38 L363.99,1901.07 L364.32,1901.04 L364.67,1901.19 L364.98,1900.7 L365.33,1900.85 L365.69,1901.15 L366.05,1901.5 L366.34,1900.73 L366.68,1900.75 L367.02,1900.81 L367.39,1901.18 L367.69,1900.68 L368.07,1901.18 L368.34,1900.3 L368.7,1900.55 L369.03,1900.52 L369.4,1900.83 L369.74,1900.9 L370.01,1899.98 L370.36,1900.16 L370.74,1900.57 L371.05,1900.2 L371.36,1899.87 L371.77,1900.74 L372.09,1900.52 L372.43,1900.5 L372.74,1900.13 L373.12,1900.63 L373.42,1900.16 L373.8,1900.6 L374.08,1899.87 L374.42,1899.86 L374.79,1900.21 L375.1,1899.86 L375.47,1900.31 L375.8,1900.14 L376.1,1899.7 L376.47,1900.02 L376.8,1899.85 L377.17,1900.26 L377.46,1899.69 L377.81,1899.73 L378.19,1900.28 L378.56,1900.61 L378.89,1900.5 L379.17,1899.79 L379.52,1899.82 L379.89,1900.25 L380.18,1899.64 L380.49,1899.31 L380.86,1899.67 L381.21,1899.75 L381.51,1899.28 L381.82,1898.96 L382.17,1899.01 L382.57,1899.71 L382.86,1899.18 L383.22,1899.37 L383.57,1899.46 L383.92,1899.57 L384.23,1899.21 L384.59,1899.47 L384.89,1898.95 L385.24,1899.11 L385.56,1898.85 L385.97,1899.57 L386.27,1899.13 L386.58,1898.85 L386.93,1898.96 L387.28,1898.97 L387.65,1899.26 L387.91,1898.43 L388.26,1898.59 L388.62,1898.79 L389.06,1899.77 L389.35,1899.19 L389.65,1898.78 L390.01,1899.04 L390.4,1899.47 L390.66,1898.64 L390.99,1898.56 L391.39,1899.08 L391.7,1898.8 L392.04,1898.83 L392.34,1898.38 L392.76,1899.2 L393.1,1899.09 L393.39,1898.65 L393.74,1898.66 L393.98,1897.68 L394.41,1898.58 L394.72,1898.25 L395.08,1898.44 L395.43,1898.49 L395.73,1898.1 L396.02,1897.59 L396.44,1898.27 L396.73,1897.85 L397.09,1897.96 L397.42,1897.83 L397.76,1897.89 L398.03,1897.16 L398.5,1898.36 L398.8,1897.98 L399.17,1898.25 L399.55,1898.51 L399.81,1897.79 L400.08,1897.12 L400.45,1897.4 L400.78,1897.26 L401.15,1897.46 L401.51,1897.63 L401.77,1896.87 L402.2,1897.64 L402.46,1896.96 L402.87,1897.55 L403.2,1897.37 L403.53,1897.26 L403.87,1897.31 L404.2,1897.11 L404.53,1897.04 L404.83,1896.63 L405.23,1897.17 L405.65,1897.78 L405.99,1897.79 L406.31,1897.52 L406.62,1897.26 L406.9,1896.74 L407.33,1897.44 L407.61,1896.88 L407.95,1896.83 L408.28,1896.71 L408.63,1896.81 L408.95,1896.58 L409.3,1896.66 L409.6,1896.27 L409.97,1896.48 L410.42,1897.36 L410.66,1896.5 L410.99,1896.4 L411.37,1896.62 L411.72,1896.64 L411.97,1895.97 L412.35,1896.24 L412.74,1896.58 L413.06,1896.32 L413.39,1896.22 L413.79,1896.67 L414.03,1895.85 L414.41,1896.07 L414.72,1895.82 L415.15,1896.47 L415.33,1895.23 L415.73,1895.63 L416.08,1895.64 L416.47,1896 L416.81,1895.94 L417.19,1896.17 L417.39,1895.09 L417.84,1895.85 L418.13,1895.44 L418.45,1895.26 L418.85,1895.63 L419.12,1895.08 L419.4,1894.63 L419.83,1895.18 L420.11,1894.74 L420.49,1894.98 L420.89,1895.29 L421.22,1895.22 L421.63,1895.61 L421.88,1894.94 L422.15,1894.43 L422.53,1894.65 L422.86,1894.54 L423.19,1894.39 L423.61,1894.91 L423.9,1894.48 L424.17,1893.97 L424.65,1894.85 L424.95,1894.51 L425.32,1894.62 L425.64,1894.48 L426.01,1894.61 L426.32,1894.36 L426.73,1894.72 L427.02,1894.38 L427.36,1894.32 L427.71,1894.27 L427.95,1893.57 L428.36,1893.96 L428.69,1893.87 L429.06,1893.98 L429.31,1893.38 L429.83,1894.36 L430.08,1893.78 L430.35,1893.27 L430.66,1893.04 L431.08,1893.47 L431.44,1893.48 L431.74,1893.21 L432.13,1893.43 L432.43,1893.12 L432.84,1893.47 L433.11,1892.97 L433.49,1893.15 L433.89,1893.44 L434.33,1893.93 L434.46,1892.64 L434.83,1892.76 L435.15,1892.57 L435.59,1893.07 L435.82,1892.34 L436.2,1892.51 L436.57,1892.59 L436.85,1892.19 L437.19,1892.12 L437.56,1892.21 L437.8,1891.57 L438.18,1891.72 L438.59,1892 L438.96,1892.12 L439.28,1891.93 L439.52,1891.3 L439.94,1891.67 L440.37,1892.03 L440.69,1891.87 L440.99,1891.57 L441.28,1891.21 L441.72,1891.65 L441.98,1891.16 L442.28,1890.87 L442.64,1890.92 L443.14,1891.61 L443.4,1891.1 L443.8,1891.34 L444.03,1890.7 L444.47,1891.1 L444.7,1890.49 L445.07,1890.56 L445.61,1891.38 L445.82,1890.7 L446.07,1890.18 L446.44,1890.24 L446.82,1890.3 L447.22,1890.51 L447.44,1889.84 L447.68,1889.33 L448.14,1889.74 L448.5,1889.75 L448.85,1889.69 L449.28,1890.01 L449.55,1889.58 L449.93,1889.66 L450.12,1888.92 L450.62,1889.5 L451.05,1889.82 L451.29,1889.28 L451.59,1889.01 L451.93,1888.88 L452.4,1889.34 L452.52,1888.32 L452.93,1888.51 L453.32,1888.61 L453.69,1888.61 L453.93,1888.11 L454.33,1888.26 L454.63,1887.97 L455,1888 L455.32,1887.82 L455.58,1887.38 L456.02,1887.65 L456.44,1887.86 L456.62,1887.13 L457.02,1887.28 L457.45,1887.48 L457.64,1886.79 L458.09,1887.11 L458.32,1886.58 L458.86,1887.22 L459.31,1887.51 L459.63,1887.31 L459.77,1886.44 L460.2,1886.66 L460.48,1886.34 L460.83,1886.23 L461.31,1886.6 L461.38,1885.53 L461.95,1886.22 L462.18,1885.73 L462.67,1886.11 L462.89,1885.59 L463.15,1885.18 L463.59,1885.39 L463.98,1885.42 L464.25,1885.07 L464.64,1885.11 L464.88,1884.65 L465.06,1883.99 L465.72,1884.89 L466.04,1884.7 L466.33,1884.4 L466.66,1884.25 L467.11,1884.45 L467.29,1883.83 L467.61,1883.62 L468.01,1883.67 L468.51,1884 L468.57,1883.02 L469.2,1883.75 L469.34,1883.01 L469.63,1882.73 L470.24,1883.38 L470.43,1882.8 L470.64,1882.27 L471.09,1882.45 L471.58,1882.74 L471.96,1882.69 L472.12,1882.02 L472.56,1882.16 L472.94,1882.12 L473.12,1881.54 L473.59,1881.72 L473.89,1881.46 L474.17,1881.15 L474.52,1881.02 L474.94,1881.06 L475.28,1880.9 L475.55,1880.56 L475.91,1880.46 L476.45,1880.81 L476.68,1880.37 L477.12,1880.44 L477.5,1880.39 L477.77,1880.03 L478.34,1880.43 L478.28,1879.27 L478.84,1879.64 L479.03,1879.12 L479.68,1879.66 L480,1879.45 L479.85,1878.11 L480.33,1878.26 L480.9,1878.62 L481.27,1878.5 L481.61,1878.31 L481.84,1877.89 L482.26,1877.88 L482.64,1877.78 L482.88,1877.37 L483.39,1877.55 L483.25,1876.33 L484.03,1877.07 L484.12,1876.36 L484.77,1876.81 L484.94,1876.26 L485.18,1875.87 L485.73,1876.08 L485.87,1875.49 L486.22,1875.3 L486.46,1874.91 L487.05,1875.2 L487.49,1875.17 L487.92,1875.14 L488.08,1874.58 L488.62,1874.75 L488.8,1874.23 L489.13,1873.99 L489.59,1873.99 L490.02,1873.94 L490.13,1873.3 L490.5,1873.12 L490.86,1872.94 L491.25,1872.8 L491.43,1872.28 L492.11,1872.65 L492.21,1872 L492.71,1872.04 L492.83,1871.43 L493.39,1871.56 L493.75,1871.34 L493.95,1870.87 L494.75,1871.36 L494.79,1870.63 L495.4,1870.81 L495.6,1870.33 L495.64,1869.61 L496.04,1869.45 L496.55,1869.44 L496.83,1869.09 L497.17,1868.83 L497.45,1868.48 L497.5,1867.79 L498.16,1867.98 L498.11,1867.15 L498.98,1867.63 L499.11,1867.05 L499.46,1866.78 L499.91,1866.65 L500.36,1866.51 L500.35,1865.75 L500.63,1865.39 L501.12,1865.29 L501.26,1864.74 L501.84,1864.74 L502.74,1865.15 L502.51,1864.13 L503.24,1864.29 L503.13,1863.44 L503.86,1863.58 L504.07,1863.11 L504.47,1862.86 L504.97,1862.71 L505.59,1862.7 L505.58,1861.96 L505.91,1861.61 L506,1861 L506.71,1861.06 L506.86,1860.51 L507.47,1860.44 L507.61,1859.87 L508.39,1859.96 L507.83,1858.67 L508.59,1858.73 L509.23,1858.66 L509.27,1857.98 L509.5,1857.5 L509.98,1857.25 L510.04,1856.6 L510.77,1856.57 L511.72,1856.73 L511.73,1856.02 L511.49,1855.09 L511.9,1854.74 L512.36,1854.43 L513.08,1854.34 L512.94,1853.5 L513.32,1853.1 L514.09,1853.02 L514.43,1852.57 L514.44,1851.85 L514.58,1851.24 L514.8,1850.69 L515.38,1850.41 L515.29,1849.62 L516.47,1849.77 L516.43,1849 L517.08,1848.74 L517.82,1848.52 L517.97,1847.88 L517.64,1846.9 L518.56,1846.79 L518.99,1846.32 L518.78,1845.41 L519.06,1844.84 L519.65,1844.45 L519.55,1843.62 L520.8,1843.63 L519.98,1842.35 L520.71,1842.01 L521.3,1841.58 L521.65,1840.99 L522.11,1840.46 L522.48,1839.86 L522.67,1839.16 L523.42,1838.76 L522.75,1837.57 L523.74,1837.28 L523.86,1836.5 L524.46,1835.97 L524.82,1835.31 L524.81,1834.44 L525.23,1833.78 L526.01,1833.3 L526.21,1832.51 L526.22,1831.62 L527.42,1831.28 L527.84,1830.56 L526.97,1829.24 L527.87,1828.72 L528.91,1828.23 L528.69,1827.19 L528.84,1826.29 L529.04,1825.41 L529.26,1824.52 L529.7,1823.71 L529.92,1822.79 L530.67,1822.07 L530.63,1821.03 L530.95,1820.11 L531.03,1819.09 L531.74,1818.29 L531.79,1817.23 L532.36,1816.34 L533.09,1815.49 L533.2,1814.4 L533.57,1813.39 L533.86,1812.33 L534.09,1811.24 L534.35,1810.15 L534.62,1809.03 L535.31,1808.03 L535.02,1806.71 L536.16,1805.81 L536.05,1804.51 L536.11,1803.24 L536.53,1802.06 L536.79,1800.82 L537.4,1799.64 L537.43,1798.3 L538.39,1797.17 L538.07,1795.69 L537.9,1794.23 L538.77,1793.01 L538.67,1791.53 L539.68,1790.3 L540.39,1788.97 L540.59,1787.49 L540.25,1785.87 L540.79,1784.42 L541.99,1783.1 L541.83,1781.45 L542.06,1779.86 L542.76,1778.35 L543.58,1776.83 L543.52,1775.11 L543.46,1773.36 L543.87,1771.69 L544.3,1769.99 L544.21,1768.17 L544.4,1766.37 L545.12,1764.65 L545.11,1762.77 L545.75,1760.98 L546.14,1759.11 L547.26,1757.35 L546.49,1755.23 L547.08,1753.33 L547.4,1751.35 L547.95,1749.38 L548.49,1747.38 L548.3,1745.24 L548.52,1743.14 L548.58,1740.99 L549.16,1738.9 L550,1736.82 L550.17,1734.61 L550.14,1732.35 L550.7,1730.15 L551.17,1727.92 L551.67,1725.66 L551.63,1723.3 L552.08,1720.99 L551.88,1718.57 L552.44,1716.23 L553.74,1713.98 L552.76,1711.38 L553.73,1709.04 L554.26,1706.62 L554.39,1704.12 L554.58,1701.61 L555.17,1699.15 L555.53,1696.63 L555.84,1694.09 L555.55,1691.45 L556.49,1688.97 L556.58,1686.36 L557.02,1683.78 L557.63,1681.21 L558.11,1678.62 L558.53,1676.01 L558.38,1673.32 L559.21,1670.74 L559.63,1668.11 L559.96,1665.45 L560.38,1662.81 L560.18,1660.09 L560.51,1657.42 L561.19,1654.81 L553.96,1653.89 L553.62,1656.55 L553.28,1659.21 L552.94,1661.87 L552.6,1664.52 L552.28,1667.17 L551.83,1669.8 L551.59,1672.45 L551.27,1675.08 L550.91,1677.7 L550.6,1680.31 L550.18,1682.9 L549.93,1685.49 L549.51,1688.06 L549.23,1690.62 L548.71,1693.15 L548.57,1695.7 L548.04,1698.19 L547.81,1700.7 L547.48,1703.18 L547.22,1705.66 L546.82,1708.09 L546.56,1710.52 L546.18,1712.92 L545.85,1715.3 L545.48,1717.66 L545.22,1720.01 L544.87,1722.32 L544.57,1724.62 L544.12,1726.87 L543.77,1729.11 L543.51,1731.34 L542.96,1733.51 L542.79,1735.7 L542.29,1737.82 L542.17,1739.97 L541.87,1742.07 L541.24,1744.09 L541.18,1746.18 L540.62,1748.15 L540.48,1750.18 L539.92,1752.1 L539.64,1754.04 L539.51,1755.99 L539.06,1757.85 L538.63,1759.69 L538.52,1761.55 L538.2,1763.36 L537.68,1765.1 L537.35,1766.85 L537.09,1768.58 L536.81,1770.29 L536.5,1771.96 L536.14,1773.6 L535.22,1775.1 L535.22,1776.76 L535.14,1778.38 L534.67,1779.89 L534.5,1781.44 L533.93,1782.88 L533.85,1784.4 L533.52,1785.85 L532.8,1787.17 L532.57,1788.59 L532.29,1789.98 L531.99,1791.33 L531.48,1792.61 L530.94,1793.86 L530.84,1795.2 L530.25,1796.39 L530.1,1797.67 L529.68,1798.86 L529.7,1800.15 L529.08,1801.24 L528.99,1802.46 L528.8,1803.64 L527.97,1804.6 L528.07,1805.83 L527.58,1806.85 L527.42,1807.96 L526.22,1808.72 L526.62,1809.97 L525.72,1810.78 L525.72,1811.88 L525.28,1812.8 L525.22,1813.84 L524.7,1814.71 L524.43,1815.64 L524.23,1816.59 L522.97,1817.13 L523.48,1818.31 L523.29,1819.21 L521.88,1819.63 L522.5,1820.82 L522.15,1821.62 L521.11,1822.12 L521.19,1823.07 L521.16,1823.96 L520.95,1824.77 L520.64,1825.52 L519.78,1826.01 L519.8,1826.88 L519.3,1827.5 L519.08,1828.25 L518.77,1828.93 L518.27,1829.52 L518.09,1830.24 L517.44,1830.72 L517.58,1831.6 L517.03,1832.11 L515.92,1832.3 L516.09,1833.16 L515.08,1833.38 L515.6,1834.42 L515.14,1834.92 L515.04,1835.61 L514.72,1836.16 L514.3,1836.65 L513.66,1837 L513.18,1837.43 L513.14,1838.12 L512.82,1838.63 L512.75,1839.29 L511.51,1839.19 L511.39,1839.81 L511.91,1840.84 L511.32,1841.13 L510.76,1841.43 L510.72,1842.08 L510.62,1842.69 L509.48,1842.55 L508.87,1842.77 L509.35,1843.78 L508.65,1843.92 L508.75,1844.65 L508.34,1844.99 L508.28,1845.6 L507.79,1845.86 L506.87,1845.78 L507.28,1846.75 L506.86,1847.05 L506.2,1847.15 L506.18,1847.77 L505.77,1848.06 L505.54,1848.49 L505.11,1848.75 L505.03,1849.31 L504.69,1849.65 L504.44,1850.04 L503.24,1849.57 L503.55,1850.49 L502.32,1849.94 L502.54,1850.77 L501.44,1850.32 L498.8,1848.32 L501.22,1851.33 L501.55,1852.29 L501.28,1852.64 L501.17,1853.15 L500.15,1852.71 L500.42,1853.62 L496.41,1849.92 L498.48,1852.76 L499.36,1854.36 L498.28,1853.77 L498.31,1854.43 L497.59,1854.24 L497.7,1854.99 L496.92,1854.7 L497.36,1855.86 L496.91,1855.95 L496.28,1855.83 L496.22,1856.39 L496.12,1856.9 L494.56,1855.57 L494.5,1856.12 L495.12,1857.56 L495,1858.05 L494.19,1857.63 L493.75,1857.7 L493.22,1857.64 L493.32,1858.43 L493.09,1858.75 L493.01,1859.31 L492.59,1859.39 L491.39,1858.35 L491.96,1859.83 L491.62,1860 L489.14,1857.03 L490.99,1860.43 L489.1,1858.27 L490.45,1860.97 L489.86,1860.77 L489.72,1861.23 L488.61,1860.19 L488.97,1861.45 L488.88,1861.99 L487.93,1861.18 L487.43,1861.06 L487.1,1861.21 L487.13,1861.96 L486.31,1861.3 L486.39,1862.14 L485.92,1862.06 L486.19,1863.24 L485.03,1861.94 L485.25,1863.05 L485.35,1863.97 L484.97,1864.03 L484.63,1864.17 L484.13,1863.99 L483.66,1863.88 L483.29,1863.95 L483.44,1864.99 L482.61,1864.19 L482.74,1865.2 L482.23,1865 L481.83,1864.99 L481.53,1865.17 L481.06,1865.03 L481.13,1865.96 L480.76,1866.02 L480.5,1866.29 L480.02,1866.11 L479.34,1865.51 L479.46,1866.58 L479.07,1866.57 L478.75,1866.71 L477.69,1865.25 L477.63,1865.95 L477.6,1866.72 L477.58,1867.52 L477.13,1867.37 L476.88,1867.67 L476.59,1867.88 L475.88,1867.12 L475.87,1867.97 L475.51,1868.01 L474.95,1867.58 L474.58,1867.59 L474.53,1868.34 L474.33,1868.78 L473.89,1868.62 L473.27,1868 L473.37,1869.16 L472.83,1868.74 L472.73,1869.43 L472.09,1868.76 L471.22,1867.47 L471.63,1869.45 L471.41,1869.83 L470.74,1869.04 L470.49,1869.36 L470.43,1870.17 L469.76,1869.36 L469.05,1868.42 L469.28,1870.02 L469.14,1870.62 L468.47,1869.79 L468.48,1870.8 L468.17,1870.97 L467.29,1869.51 L466.95,1869.55 L467.03,1870.81 L466.8,1871.18 L466.21,1870.5 L466,1870.93 L465.84,1871.52 L465.24,1870.8 L464.98,1871.11 L463.92,1868.98 L464.58,1872.04 L464.21,1872.01 L463.94,1872.26 L463.31,1871.41 L463.23,1872.29 L462.92,1872.45 L462.63,1872.64 L462.26,1872.61 L461.84,1872.37 L461.35,1871.94 L461.22,1872.67 L460.94,1872.9 L460.64,1873.08 L460.32,1873.21 L460,1873.32 L459.18,1871.71 L458.87,1871.84 L458.88,1873.07 L458.58,1873.25 L458.18,1873.07 L457.98,1873.61 L457.46,1873.02 L457.13,1873.06 L456.64,1872.56 L456.62,1873.77 L456.19,1873.45 L456.05,1874.21 L455.65,1874.02 L455.12,1873.37 L454.89,1873.78 L454.24,1872.66 L454.33,1874.29 L453.98,1874.28 L453.69,1874.52 L453.08,1873.49 L452.94,1874.3 L452.76,1874.92 L452.2,1874.11 L452.06,1874.91 L450.9,1871.69 L451.18,1874.15 L450.89,1874.39 L450.67,1874.87 L450.22,1874.45 L449.82,1874.22 L449.67,1875.03 L449.25,1874.72 L449.15,1875.72 L448.53,1874.57 L448.36,1875.31 L448.02,1875.32 L447.54,1874.72 L447.17,1874.6 L447.18,1876.16 L446.72,1875.64 L446.4,1875.72 L445.82,1874.67 L445.8,1876.09 L445.23,1875.1 L444.94,1875.33 L444.72,1875.9 L444.46,1876.25 L443.91,1875.32 L443.8,1876.38 L443.54,1876.77 L443.22,1876.85 L442.85,1876.7 L442.27,1875.59 L442.05,1876.15 L441.75,1876.37 L441.42,1876.4 L440.3,1872.63 L440.82,1876.82 L440.29,1875.87 L440.19,1877.08 L439.69,1876.28 L439.51,1877.06 L439.07,1876.55 L438.71,1876.48 L438.48,1877.04 L438,1876.29 L437.77,1876.85 L437.53,1877.37 L437.26,1877.73 L436.83,1877.29 L436.6,1877.87 L435.96,1876.28 L435.93,1877.9 L435.47,1877.24 L435.18,1877.53 L434.75,1877.05 L434.6,1878.06 L434.1,1877.17 L433.8,1877.4 L433.64,1878.4 L433.12,1877.41 L432.77,1877.32 L432.54,1877.9 L432.11,1877.39 L431.83,1877.77 L431.64,1878.6 L431.23,1878.18 L431.01,1878.86 L429.54,1872.29 L430.31,1878.73 L430.01,1878.94 L429.52,1878.07 L429.31,1878.82 L428.9,1878.37 L428.69,1879.18 L428.29,1878.82 L427.76,1877.64 L427.67,1879.11 L427.31,1879.03 L426.91,1878.65 L426.53,1878.36 L426.34,1879.31 L425.97,1879.09 L425.49,1878.18 L425.41,1879.79 L425.01,1879.39 L424.69,1879.52 L424.32,1879.35 L423.93,1878.97 L423.62,1879.19 L423.05,1877.64 L422.82,1878.34 L422.72,1879.92 L422.43,1880.21 L421.93,1879.14 L421.56,1878.94 L421.35,1879.73 L421.08,1880.21 L420.77,1880.43 L420.08,1877.97 L420.06,1880.13 L419.69,1879.96 L419.33,1879.8 L419.04,1880.11 L418.77,1880.6 L418.44,1880.62 L418.02,1880.07 L417.71,1880.22 L417.25,1879.34 L417.15,1881.01 L416.69,1880.14 L416.37,1880.29 L416.15,1881.09 L415.63,1879.82 L415.47,1881.05 L415.09,1880.78 L414.75,1880.76 L414.28,1879.76 L414.17,1881.43 L413.78,1881.08 L413.42,1880.84 L413.15,1881.35 L412.82,1881.42 L412.48,1881.38 L411.93,1879.76 L411.79,1881.28 L411.06,1878.25 L411.13,1881.37 L410.73,1880.91 L410.51,1881.8 L410.17,1881.79 L409.79,1881.41 L409.41,1881.07 L409.04,1880.78 L408.76,1881.28 L408.53,1882.12 L408.01,1880.64 L407.82,1881.82 L407.45,1881.54 L407.09,1881.35 L406.71,1880.98 L406.51,1882.1 L406.16,1882.01 L405.88,1882.44 L405.44,1881.63 L405.16,1882.03 L404.86,1882.37 L404.55,1882.63 L404.19,1882.38 L403.44,1878.82 L403.44,1881.78 L403.22,1882.72 L402.86,1882.51 L402.55,1882.79 L402.12,1881.98 L401.74,1881.59 L401.54,1882.76 L400.9,1880.1 L400.89,1882.94 L400.49,1882.36 L399.97,1880.69 L399.87,1882.82 L399.43,1881.93 L399.12,1882.16 L398.88,1883 L398.57,1883.28 L398.22,1883.15 L397.83,1882.65 L397.5,1882.73 L397.17,1882.76 L396.78,1882.22 L396.52,1882.95 L396.23,1883.36 L395.69,1881.47 L395,1878.1 L395.22,1883.35 L394.92,1883.7 L394.59,1883.73 L394.21,1883.36 L393.91,1883.73 L393.52,1883.15 L393.12,1882.55 L392.79,1882.55 L392.46,1882.61 L392.26,1883.98 L391.82,1882.93 L391.5,1883.06 L391.2,1883.5 L390.86,1883.44 L390.5,1883.22 L390.15,1883.06 L389.92,1884.14 L389.53,1883.58 L389.23,1883.95 L388.92,1884.19 L388.36,1881.83 L388.2,1883.67 L387.68,1881.77 L387.42,1882.56 L387.14,1883.11 L386.76,1882.6 L386.59,1884.37 L386.26,1884.42 L385.67,1881.8 L385.56,1884.14 L385.23,1884.18 L384.85,1883.7 L384.31,1881.55 L384.27,1884.69 L383.75,1882.73 L383.61,1884.81 L383.18,1883.86 L382.9,1884.46 L382.58,1884.65 L382.19,1883.99 L381.91,1884.6 L381.22,1880.68 L381.24,1884.7 L380.89,1884.43 L380.52,1884.09 L380.2,1884.31 L379.82,1883.8 L379.59,1885 L379.26,1885.06 L378.9,1884.8 L378.51,1884.09 L378.22,1884.66 L377.9,1884.85 L377.6,1885.27 L377.23,1884.84 L376.77,1883.33 L376.58,1885.06 L376.1,1883.31 L375.83,1884.12 L375.52,1884.47 L375.24,1885.11 L374.94,1885.51 L374.42,1883.37 L374.11,1883.6 L373.94,1885.61 L373.56,1885.11 L373.26,1885.54 L372.92,1885.49 L372.61,1885.75 L372.23,1885.28 L371.88,1885.07 L371.52,1884.74 L371.16,1884.49 L370.93,1885.76 L370.48,1884.36 L370.18,1884.78 L369.93,1885.83 L369.59,1885.86 L369.22,1885.36 L368.89,1885.38 L368.6,1886.03 L368.24,1885.68 L367.89,1885.47 L367.59,1885.99 L367.23,1885.62 L366.92,1886.02 L366.6,1886.14 L366.18,1885.07 L365.8,1884.45 L365.55,1885.58 L365.27,1886.31 L364.93,1886.33 L364.43,1884.09 L364.2,1885.52 L363.75,1883.9 L363.5,1885.06 L363.23,1886.02 L362.9,1886.01 L362.59,1886.43 L362.24,1886.25 L361.83,1885.19 L361.54,1885.82 L361.15,1885.05 L360.83,1885.24 L360.38,1883.63 L360.25,1886.61 L359.86,1885.78 L359.59,1886.71 L359.22,1886.14 L358.88,1886.07 L358.58,1886.7 L358.21,1886.22 L357.84,1885.72 L357.54,1886.09 L357.19,1885.9 L356.84,1885.8 L356.56,1886.48 L356.21,1886.37 L355.9,1886.71 L355.47,1885.33 L355.18,1885.98 L354.78,1885.04 L354.55,1886.6 L354.15,1885.65 L353.9,1886.86 L353.57,1887.02 L353.21,1886.62 L352.83,1885.96 L352.52,1886.38 L352.23,1886.93 L351.77,1885.16 L351.54,1886.68 L351.22,1887.01 L350.89,1887.07 L350.43,1885.1 L350.22,1887.09 L349.8,1885.78 L349.43,1885.12 L349.12,1885.58 L348.88,1887.08 L348.55,1887.12 L348.15,1886.07 L347.89,1887.26 L347.45,1885.71 L347.16,1886.38 L346.82,1886.33 L346.54,1887.13 L346.17,1886.65 L345.86,1887.12 L345.5,1886.6 L345.15,1886.37 L344.83,1886.59 L344.5,1886.75 L344.21,1887.54 L343.88,1887.61 L343.52,1887.18 L343.19,1887.27 L342.77,1885.77 L342.55,1887.82 L342.03,1884.63 L341.87,1887.57 L341.46,1886.42 L341.21,1887.82 L340.78,1886.25 L340.55,1887.94 L340.21,1887.9 L339.84,1887.26 L339.5,1887.27 L339.18,1887.46 L338.81,1886.84 L338.49,1887.2 L338.1,1886.13 L337.85,1887.64 L337.52,1887.84 L337.18,1887.76 L336.8,1886.98 L336.52,1887.95 L336.18,1887.89 L335.79,1886.85 L335.49,1887.55 L335.15,1887.42 L334.81,1887.33 L334.45,1886.83 L334.19,1888.28 L333.84,1887.94 L333.51,1888.14 L333.18,1888.11 L332.79,1887.09 L332.41,1886.28 L332.14,1887.48 L331.82,1887.86 L331.46,1887.3 L331.16,1887.97 L330.82,1887.95 L330.47,1887.65 L330.18,1888.48 L329.8,1887.56 L329.48,1887.86 L329.13,1887.62 L328.81,1887.89 L328.51,1888.54 L328.14,1887.97 L327.8,1887.87 L327.5,1888.62 L327.09,1887.17 L326.82,1888.36 L326.44,1887.55 L326.1,1887.39 L325.83,1888.59 L325.48,1888.4 L325.11,1887.67 L324.78,1887.81 L324.48,1888.55 L324.1,1887.72 L323.79,1888.04 L323.45,1887.97 L323.14,1888.53 L322.81,1888.68 L322.44,1888 L322.08,1887.38 L321.75,1887.52 L321.21,1883.47 L321.02,1886.39 L320.73,1887.35 L320.45,1888.33 L320.11,1888.34 L319.68,1886.35 L319.4,1887.52 L319.11,1888.47 L318.73,1887.4 L318.44,1888.37 L318.1,1888.39 L317.78,1888.64 L317.45,1888.76 L317.12,1888.99 L316.8,1889.13 L316.46,1889.11 L316.11,1888.76 L315.79,1889.09 L315.43,1888.54 L315.1,1888.67 L314.75,1888.41 L314.25,1884.74 L314.04,1887.55 L313.76,1888.72 L313.44,1889.08 L313.11,1889.17 L312.74,1888.4 L312.41,1888.57 L312.08,1888.73 L311.69,1887.53 L311.39,1888.22 L311.01,1887.2 L310.75,1888.83 L310.39,1888.42 L310.08,1888.97 L309.77,1889.43 L309.39,1888.51 L309.04,1888.07 L308.77,1889.55 L308.42,1889.32 L308.02,1887.88 L307.73,1888.77 L307.41,1889.3 L306.95,1886.25 L306.74,1889.32 L306.41,1889.43 L306.07,1889.34 L305.71,1888.72 L305.39,1889.04 L305.07,1889.35 L304.73,1889.33 L304.38,1888.99 L304.07,1889.56 L303.69,1888.38 L303.38,1889.05 L302.93,1886.26 L302.66,1887.81 L302.41,1889.83 L302.06,1889.59 L301.69,1888.8 L301.38,1889.25 L301.02,1888.76 L300.72,1889.69 L300.39,1889.85 L300.01,1888.76 L299.67,1888.61 L299.36,1889.17 L299.04,1889.55 L298.69,1889.1 L298.36,1889.26 L298.02,1889.28 L297.65,1888.38 L297.37,1889.6 L297.01,1889.06 L296.68,1889.23 L296.35,1889.27 L295.94,1887.42 L295.68,1889.47 L295.37,1890.08 L295,1889.17 L294.7,1890 L294.34,1889.46 L294.03,1890.03 L293.68,1889.57 L293.36,1890.06 L292.99,1889.2 L292.64,1888.78 L292.26,1887.64 L291.98,1889.1 L291.63,1888.71 L291.32,1889.45 L290.99,1889.54 L290.66,1889.65 L290.31,1889.29 L290.01,1890.27 L289.65,1889.55 L289.31,1889.37 L288.97,1889.38 L288.64,1889.51 L288.31,1889.67 L287.99,1889.94 L287.63,1889.29 L287.31,1889.72 L286.94,1888.86 L286.66,1890.18 L286.32,1890.25 L285.95,1889.23 L285.6,1888.73 L285.31,1890.03 L284.95,1889.44 L284.62,1889.46 L284.28,1889.45 L283.96,1889.85 L283.62,1889.78 L283.28,1889.54 L282.96,1889.87 L282.6,1889.32 L282.31,1890.44 L281.98,1890.58 L281.62,1890.04 L281.3,1890.42 L280.96,1890.41 L280.63,1890.56 L280.23,1888.67 L279.94,1889.88 L279.58,1889.22 L279.25,1889.35 L278.92,1889.57 L278.6,1890.07 L278.23,1888.88 L277.96,1890.73 L277.59,1889.76 L277.28,1890.58 L276.94,1890.31 L276.6,1890.16 L276.28,1890.71 L275.94,1890.74 L275.57,1889.74 L275.24,1889.62 L274.93,1890.6 L274.59,1890.23 L274.24,1889.94 L273.92,1890.39 L273.53,1888.77 L273.23,1889.93 L272.93,1890.72 L272.59,1890.73 L272.24,1890.41 L271.92,1890.62 L271.59,1890.77 L271.24,1890.52 L270.88,1889.84 L270.54,1889.47 L270.23,1890.43 L269.92,1891 L269.57,1890.59 L269.2,1889.72 L268.89,1890.49 L268.57,1890.76 L268.19,1889.54 L267.89,1890.58 L267.54,1889.99 L267.23,1890.79 L266.88,1890.6 L266.52,1889.79 L266.18,1889.47 L265.86,1890.15 L265.55,1890.76 L265.21,1890.64 L264.84,1889.59 L264.5,1889.42 L264.2,1890.63 L263.87,1890.86 L263.55,1891.12 L263.06,1886.16 L262.84,1890.09 L262.51,1890.01 L262.19,1890.61 L261.81,1889.1 L261.5,1889.97 L261.17,1890.12 L260.85,1890.73 L260.5,1890.25 L260.14,1889.37 L259.85,1890.78 L259.47,1889.47 L259.16,1890.39 L258.85,1890.93 L258.5,1890.56 L258.17,1890.92 L257.85,1891.14 L257.49,1890.4 L257.16,1890.5 L256.83,1890.97 L256.51,1891.39 L256.16,1890.73 L255.82,1890.71 L255.45,1889.63 L255.16,1891.13 L254.8,1890.35 L254.5,1891.31 L254.13,1890.34 L253.77,1889.26 L253.46,1890.12 L253.14,1890.9 L252.82,1891.24 L252.46,1890.54 L252.13,1890.57 L251.82,1891.55 L251.47,1891.16 L251.11,1890.26 L250.78,1890.22 L250.45,1890.64 L250.14,1891.45 L249.79,1891.01 L249.44,1890.58 L249.13,1891.15 L248.78,1890.63 L248.45,1891.06 L248.11,1890.82 L247.7,1888.36 L247.44,1890.95 L247.04,1888.59 L246.77,1890.94 L246.45,1891.46 L246.11,1891.22 L245.77,1890.95 L245.42,1890.61 L245.11,1891.3 L244.67,1887.59 L244.43,1891.19 L244.09,1890.87 L243.75,1890.94 L243.44,1891.72 L243.09,1891.34 L242.71,1889.68 L242.42,1891.36 L242.07,1890.71 L241.75,1891.15 L241.42,1891.39 L241.07,1890.86 L240.75,1891.54 L240.41,1891.42 L240.07,1891.28 L239.71,1890.41 L239.4,1891.27 L239.08,1891.8 L238.74,1891.75 L238.4,1891.47 L238.04,1890.52 L237.71,1890.57 L237.37,1890.62 L237.05,1890.99 L236.71,1890.81 L236.4,1891.75 L236.02,1890.23 L235.72,1891.49 L235.38,1891.35 L235.06,1891.74 L234.66,1889.47 L234.35,1890.6 L234.04,1891.25 L233.7,1891.3 L233.36,1891.24 L233.04,1891.51 L232.66,1890.01 L232.37,1891.68 L232.04,1891.91 L231.67,1890.65 L231.35,1890.97 L231.01,1891.1 L230.7,1891.9 L230.36,1891.76 L230.03,1892.15 L229.66,1890.79 L229.36,1891.82 L229.02,1891.82 L228.69,1892.2 L228.35,1892.03 L228,1891.14 L227.68,1892.1 L227.35,1892.15 L226.99,1891.03 L226.66,1891.45 L226.35,1892.18 L226,1891.89 L225.66,1891.7 L225.33,1891.95 L224.98,1891.22 L224.65,1891.33 L224.31,1891.18 L223.99,1891.71 L223.65,1891.56 L223.33,1892.23 L222.99,1892.05 L222.63,1891.16 L222.31,1891.75 L221.97,1891.79 L221.65,1892.19 L221.28,1890.9 L220.94,1890.66 L220.62,1891.32 L220.28,1890.87 L219.97,1892.04 L219.63,1892.02 L219.29,1891.65 L218.97,1892.29 L218.63,1892.12 L218.27,1891.16 L217.96,1892.11 L217.61,1891.45 L217.29,1892.16 L216.94,1891.78 L216.5,1887.27 L216.29,1892.49 L215.92,1890.85 L215.6,1891.57 L215.27,1891.76 L214.93,1891.75 L214.59,1891.57 L214.21,1889.59 L213.94,1892.29 L213.6,1892.19 L213.24,1891.3 L212.91,1891.42 L212.6,1892.38 L212.21,1890.21 L211.93,1892.34 L211.58,1891.76 L211.25,1892.27 L210.92,1892.62 L210.55,1891.06 L210.25,1892.42 L209.89,1891.18 L209.55,1891.16 L209.25,1892.54 L208.9,1892.26 L208.56,1891.96 L208.24,1892.6 L207.9,1892.42 L207.57,1892.44 L207.21,1891.58 L206.89,1892.16 L206.55,1892.04 L206.21,1891.84 L205.88,1891.96 L205.56,1892.66 L205.21,1892.08 L204.87,1892.03 L204.55,1892.69 L204.19,1891.47 L203.88,1892.8 L203.54,1892.37 L203.19,1891.77 L202.86,1891.9 L202.54,1892.62 L202.18,1891.77 L201.86,1892.26 L201.53,1892.37 L201.19,1892.4 L200.84,1891.76 L200.53,1892.82 L200.19,1892.38 L199.75,1887.75 L199.5,1891.56 L199.16,1891.36 L198.85,1892.59 L198.51,1892.32 L198.18,1892.59 L197.81,1890.91 L197.48,1891.16 L197.17,1892.45 L196.83,1892.26 L196.5,1892.38 L196.16,1892.46 L195.81,1891.88 L195.5,1892.81 L195.16,1892.57 L194.78,1890.66 L194.48,1892.45 L194.14,1891.85 L193.79,1891.12 L193.46,1891.36 L193.15,1892.62 L192.78,1890.91 L192.48,1892.64 L192.14,1892.72 L191.81,1893.01 L191.43,1890.83 L191.12,1892.03 L190.77,1891.18 L190.46,1892.7 L190.13,1892.56 L189.77,1891.54 L189.46,1892.62 L189.09,1891.03 L188.78,1892.25 L188.46,1892.94 L188.1,1891.97 L187.79,1893.04 L187.43,1891.82 L187.08,1891.09 L186.78,1893.15 L186.42,1891.93 L186.11,1893.07 L185.76,1892.32 L185.43,1892.82 L185.09,1892.26 L184.75,1892.2 L184.43,1892.7 L184.1,1893.18 L183.76,1893.08 L183.42,1892.78 L183.07,1892.12 L182.75,1892.78 L182.41,1892.55 L182.09,1893.25 L181.75,1893.25 L181.42,1893.22 L181.06,1892.35 L180.74,1892.7 L180.41,1893.26 L180.07,1892.75 L179.73,1892.53 L179.37,1891.43 L179.06,1892.94 L178.73,1893.26 L178.39,1892.76 L178.04,1892.3 L177.7,1891.9 L177.39,1893.26 L177.04,1892.61 L176.71,1892.54 L176.38,1892.78 L176.04,1892.66 L175.7,1892.45 L175.37,1892.97 L175.04,1892.96 L174.69,1892.37 L174.35,1892.2 L174.01,1891.55 L173.67,1891.76 L173.37,1893.33 L173.02,1892.57 L172.63,1889.79 L172.33,1891.77 L172.03,1893.45 L171.69,1893.39 L171.32,1891.44 L171.01,1892.8 L170.65,1891.38 L170.34,1892.7 L170.01,1893.29 L169.67,1893.19 L169.34,1893.32 L169,1893.25 L168.67,1893.4 L168.32,1892.44 L167.97,1891.86 L167.65,1892.51 L167.31,1892.36 L166.99,1893.27 L166.65,1892.84 L166.29,1891.59 L165.98,1892.79 L165.65,1893.34 L165.3,1892.22 L164.98,1893.53 L164.64,1893.03 L164.31,1893.43 L163.97,1893.38 L163.63,1892.83 L163.3,1893.36 L162.95,1892.23 L162.62,1892.92 L162.3,1893.5 L161.92,1891.07 L161.62,1893.26 L161.29,1893.31 L160.95,1893.35 L160.58,1891.18 L160.28,1893.12 L159.94,1892.9 L159.61,1893.42 L159.28,1893.34 L158.94,1893.52 L158.59,1892.61 L158.27,1893.24 L157.94,1893.66 L157.6,1893.13 L157.27,1893.69 L156.92,1892.97 L156.53,1889.31 L156.26,1893.3 L155.92,1893.35 L155.59,1893.5 L155.25,1893.01 L154.9,1892.57 Z" fill="#dddb98" stroke="#dddb98" stroke-width="0.6" stroke-linejoin="round"/>
<path d="M554.77,1651.29 L554.56,1648.56 L555.15,1645.93 L555.43,1643.27 L556.24,1640.67 L556.28,1637.98 L556.32,1635.3 L556.34,1632.62 L556.64,1629.99 L557.34,1627.41 L557.72,1624.81 L558.28,1622.23 L558.18,1619.59 L558.75,1617.04 L558.79,1614.43 L558.72,1611.83 L559.68,1609.37 L560.52,1606.92 L560.64,1604.39 L561.18,1601.93 L561.43,1599.45 L560.9,1596.88 L561.61,1594.5 L562.55,1592.17 L562.13,1589.68 L562.26,1587.28 L563.15,1585.01 L563.6,1582.7 L563.82,1580.38 L563.94,1578.07 L564.15,1575.8 L564.3,1573.54 L564.63,1571.33 L564.97,1569.15 L565.25,1566.98 L565.83,1564.88 L566.92,1562.9 L566.78,1560.74 L566.96,1558.66 L567.54,1556.67 L567.43,1554.59 L568.2,1552.69 L568.73,1550.77 L568.25,1548.7 L568.86,1546.85 L569.35,1545.01 L569.44,1543.11 L569.74,1541.29 L570.32,1539.54 L571.62,1537.96 L571.34,1536.1 L571.61,1534.37 L572.13,1532.71 L572.06,1530.97 L572.05,1529.26 L572.97,1527.76 L573.53,1526.22 L572.78,1524.42 L573.97,1523.07 L574.57,1521.62 L574.41,1520.01 L574.69,1518.53 L575.41,1517.17 L575.24,1515.63 L576.01,1514.34 L576.5,1513 L576.46,1511.56 L576.6,1510.17 L577.41,1508.99 L577.41,1507.61 L577.88,1506.38 L577.23,1504.86 L578.75,1503.96 L578.37,1502.55 L579.18,1501.5 L579.53,1500.34 L579.58,1499.1 L579.85,1497.95 L580.05,1496.8 L580.7,1495.8 L581.33,1494.83 L581.64,1493.76 L581.62,1492.61 L581.93,1491.57 L581.99,1490.47 L582.64,1489.59 L582.76,1488.54 L582.94,1487.53 L583.72,1486.74 L584.59,1486.02 L584.82,1485.07 L585.24,1484.2 L584.58,1482.93 L585.71,1482.38 L585.37,1481.25 L585.91,1480.49 L585.88,1479.5 L586.44,1478.78 L587.13,1478.13 L587.49,1477.35 L587.74,1476.53 L588.04,1475.75 L588.6,1475.1 L588.78,1474.28 L588.59,1473.3 L589.97,1473.09 L589.69,1472.08 L590.39,1471.56 L590.39,1470.7 L590.52,1469.91 L591.14,1469.39 L591.22,1468.59 L592.28,1468.34 L591.79,1467.25 L592.65,1466.91 L592.62,1466.07 L593.09,1465.54 L594.26,1465.43 L594.05,1464.51 L594.1,1463.75 L594.04,1462.92 L594.76,1462.59 L595.1,1462.03 L595.94,1461.79 L595.44,1460.7 L595.68,1460.09 L596.54,1459.9 L596.95,1459.43 L597.69,1459.19 L597.32,1458.18 L597.14,1457.31 L598.05,1457.21 L598.24,1456.61 L598.79,1456.27 L599.56,1456.12 L599.26,1455.16 L600.31,1455.24 L600.37,1454.56 L600.58,1454.01 L600.76,1453.43 L601.24,1453.09 L601.59,1452.66 L602.24,1452.49 L602.73,1452.19 L602.71,1451.46 L603.26,1451.22 L603.76,1450.96 L604.09,1450.55 L604.24,1449.97 L604.93,1449.9 L605.15,1449.39 L605.57,1449.08 L605.45,1448.26 L605.74,1447.83 L605.69,1447.07 L606.91,1447.57 L607.05,1447 L607.01,1446.25 L607.63,1446.18 L608.01,1445.86 L607.87,1444.99 L608.71,1445.17 L609.25,1445.05 L609.63,1444.76 L609.59,1444 L609.95,1443.68 L610.68,1443.8 L610.94,1443.38 L610.94,1442.67 L611.28,1442.34 L611.9,1442.36 L611.97,1441.72 L612.33,1441.43 L613.2,1441.77 L613.22,1441.08 L613.41,1440.59 L613.97,1440.57 L614.66,1440.72 L614.61,1439.93 L614.74,1439.36 L614.92,1438.85 L616.05,1439.64 L615.41,1438.01 L616.52,1438.8 L616.45,1437.94 L616.74,1437.6 L617.14,1437.41 L617.66,1437.39 L618.27,1437.52 L618.26,1436.75 L618.87,1436.89 L619.57,1437.17 L618.89,1435.36 L619.65,1435.74 L619.79,1435.18 L620.65,1435.74 L620.56,1434.81 L620.88,1434.54 L621.24,1434.31 L621.88,1434.56 L622.44,1434.69 L622.6,1434.15 L623.31,1434.54 L623.57,1434.17 L623.6,1433.42 L624.14,1433.53 L624.34,1433.07 L624.68,1432.84 L624.68,1432 L625.14,1431.99 L625.71,1432.2 L625.85,1431.61 L626.53,1432.02 L626.81,1431.68 L626.95,1431.1 L627.65,1431.57 L627.84,1431.07 L628.35,1431.21 L628.47,1430.57 L628.58,1429.9 L629.3,1430.46 L629.5,1429.97 L630.02,1430.14 L630.4,1430.03 L630.76,1429.88 L630.7,1428.85 L630.92,1428.38 L631.54,1428.8 L632.07,1429.01 L632.21,1428.38 L632.7,1428.54 L632.89,1428.01 L633.31,1428 L633.66,1427.83 L633.96,1427.56 L634.47,1427.78 L634.79,1427.56 L635.32,1427.82 L635.49,1427.24 L635.97,1427.4 L636.14,1426.83 L636.6,1426.93 L636.8,1426.43 L637.1,1426.16 L637.69,1426.62 L637.96,1426.27 L638.32,1426.16 L638.45,1425.46 L638.67,1424.99 L639.13,1425.12 L639.63,1425.37 L639.74,1424.63 L640.46,1425.46 L640.43,1424.33 L641.04,1424.89 L641.65,1425.45 L641.33,1423.52 L641.81,1423.73 L642.47,1424.45 L642.67,1423.92 L643.06,1423.91 L643.37,1423.67 L643.9,1424.06 L644.15,1423.66 L644.36,1423.15 L644.73,1423.1 L644.97,1422.64 L645.44,1422.88 L645.53,1422 L646.21,1422.89 L646.45,1422.44 L647.03,1423.03 L647.3,1422.69 L647.37,1421.7 L647.96,1422.33 L648.14,1421.72 L648.55,1421.79 L649,1422 L649.27,1421.65 L649.63,1421.58 L649.97,1421.45 L650.19,1420.92 L650.54,1420.84 L651.01,1421.13 L651.39,1421.13 L651.61,1420.61 L651.99,1420.63 L652.22,1420.13 L652.41,1419.47 L652.93,1419.97 L653.36,1420.15 L653.71,1420.09 L654.12,1420.21 L654.47,1420.11 L654.82,1420.04 L655.11,1419.72 L655.45,1419.63 L655.69,1419.12 L656.13,1419.4 L656.46,1419.23 L656.89,1419.47 L656.98,1418.4 L657.42,1418.68 L657.65,1418.14 L658.08,1418.37 L658.37,1418.04 L658.86,1418.52 L659.12,1418.09 L659.29,1417.32 L659.97,1418.55 L660.11,1417.64 L660.41,1417.36 L660.86,1417.7 L661.17,1417.48 L661.47,1417.21 L661.97,1417.78 L662.23,1417.31 L662.68,1417.66 L663,1417.5 L663.34,1417.39 L663.64,1417.13 L663.96,1416.93 L664.27,1416.73 L664.77,1417.29 L664.84,1416.02 L665.24,1416.21 L665.62,1416.27 L666.05,1416.56 L666.37,1416.38 L666.66,1416.06 L667.01,1416.02 L667.51,1416.67 L667.67,1415.73 L667.85,1414.88 L668.55,1416.46 L668.67,1415.38 L669.06,1415.51 L669.44,1415.6 L669.67,1414.99 L670.2,1415.8 L670.44,1415.25 L670.69,1414.71 L671.15,1415.21 L671.51,1415.2 L671.81,1414.93 L672.19,1415.05 L672.39,1414.26 L672.91,1415.05 L673.12,1414.34 L673.61,1415.01 L673.82,1414.25 L674.21,1414.44 L674.72,1415.24 L674.89,1414.25 L675.3,1414.54 L675.6,1414.25 L675.8,1413.47 L676.32,1414.33 L676.66,1414.23 L676.83,1413.27 L677.26,1413.66 L677.51,1413.08 L677.93,1413.44 L678.35,1413.79 L678.63,1413.42 L678.89,1412.89 L679.25,1412.93 L679.65,1413.2 L679.99,1413.12 L680.35,1413.12 L680.72,1413.22 L680.9,1412.27 L681.36,1412.89 L681.78,1413.24 L682.08,1412.95 L682.35,1412.46 L682.69,1412.43 L683.08,1412.65 L683.46,1412.78 L683.76,1412.48 L684.2,1413.02 L684.52,1412.83 L684.74,1412.03 L685.15,1412.43 L685.45,1412.07 L685.74,1411.71 L686.11,1411.86 L686.49,1412.03 L686.71,1411.23 L687.14,1411.69 L687.54,1412 L687.82,1411.56 L688.18,1411.62 L688.59,1412.02 L688.88,1411.63 L689.23,1411.66 L689.67,1412.25 L689.91,1411.56 L690.26,1411.55 L690.61,1411.55 L691.01,1411.93 L691.29,1411.42 L691.61,1411.26 L691.94,1411.15 L692.35,1411.54 L692.6,1410.87 L693.03,1411.47 L693.32,1411.07 L693.58,1410.48 L694.03,1411.14 L694.36,1411.02 L694.62,1410.41 L695.03,1410.88 L695.37,1410.8 L695.68,1410.57 L695.98,1410.23 L696.49,1411.34 L696.76,1410.8 L697.11,1410.82 L697.45,1410.8 L697.78,1410.67 L698.12,1410.62 L698.4,1410.16 L698.8,1410.54 L699.09,1410.14 L699.42,1409.99 L699.81,1410.35 L700.11,1410 L700.38,1409.42 L700.78,1409.84 L701.17,1410.14 L701.48,1409.89 L701.86,1410.15 L702.14,1409.68 L702.46,1409.43 L702.87,1409.98 L703.19,1409.72 L703.47,1409.21 L703.88,1409.74 L704.19,1409.45 L704.58,1409.84 L704.91,1409.72 L705.24,1409.57 L705.46,1408.59 L705.91,1409.45 L706.26,1409.45 L706.6,1409.42 L706.92,1409.24 L707.22,1408.92 L707.58,1409.04 L707.84,1408.35 L708.26,1408.95 L708.55,1408.48 L708.94,1408.85 L709.26,1408.69 L709.68,1409.36 L709.97,1408.87 L710.31,1408.81 L710.65,1408.83 L711.07,1409.45 L711.29,1408.36 L711.68,1408.76 L712.02,1408.74 L712.35,1408.64 L712.69,1408.59 L713,1408.33 L713.41,1408.88 L713.73,1408.72 L714.02,1408.26 L714.37,1408.27 L714.73,1408.42 L715.07,1408.45 L715.42,1408.5 L715.73,1408.2 L716.02,1407.73 L716.45,1408.47 L716.69,1407.54 L717.05,1407.74 L717.44,1408.15 L717.73,1407.69 L718.15,1408.43 L718.5,1408.49 L718.82,1408.3 L719.13,1407.96 L719.47,1407.9 L719.81,1407.93 L720.13,1407.68 L720.55,1408.42 L720.79,1407.47 L721.2,1408.1 L721.51,1407.81 L721.84,1407.69 L722.2,1407.91 L722.55,1407.95 L722.88,1407.79 L723.18,1407.41 L723.5,1407.17 L723.84,1407.14 L724.23,1407.65 L724.56,1407.55 L724.9,1407.56 L725.19,1407.05 L725.62,1407.89 L725.85,1406.71 L726.24,1407.28 L726.59,1407.35 L726.89,1406.93 L727.21,1406.66 L727.57,1406.87 L727.88,1406.59 L728.25,1406.87 L728.55,1406.46 L728.89,1406.43 L729.27,1406.86 L729.56,1406.3 L729.94,1406.71 L730.28,1406.71 L730.65,1407.03 L730.97,1406.77 L731.27,1406.37 L731.68,1407.07 L731.95,1406.36 L732.3,1406.43 L732.64,1406.43 L733.06,1407.26 L733.33,1406.5 L733.64,1406.21 L734.02,1406.67 L734.34,1406.34 L734.75,1407.18 L735,1406.08 L735.37,1406.52 L735.67,1405.96 L736.08,1406.87 L736.35,1405.96 L736.71,1406.26 L737.02,1405.86 L737.41,1406.44 L737.74,1406.3 L737.99,1405.28 L738.42,1406.32 L738.75,1406.25 L739.08,1406.07 L739.44,1406.3 L739.71,1405.51 L740.03,1405.29 L740.44,1406.11 L740.81,1406.44 L741.06,1405.4 L741.4,1405.4 L741.75,1405.47 L742.08,1405.33 L742.47,1406.01 L742.79,1405.74 L743.16,1406.13 L743.5,1406.12 L743.77,1405.25 L744.15,1405.8 L744.41,1404.75 L744.81,1405.49 L745.17,1405.72 L745.46,1405.19 L745.77,1404.81 L746.15,1405.24 L746.53,1405.81 L746.83,1405.23 L747.14,1404.86 L747.52,1405.48 L747.87,1405.56 L748.16,1404.91 L748.52,1405.19 L748.89,1405.6 L749.21,1405.32 L749.56,1405.43 L749.87,1405.03 L750.21,1405.07 L750.52,1404.69 L750.87,1404.82 L751.26,1405.58 L751.55,1404.87 L751.88,1404.68 L752.22,1404.81 L752.55,1404.58 L752.92,1405.11 L753.27,1405.23 L753.56,1404.54 L753.95,1405.22 L754.31,1405.58 L754.57,1404.44 L754.95,1405.03 L755.28,1404.86 L755.64,1405.22 L755.98,1405.17 L756.31,1405.09 L756.63,1404.78 L756.95,1404.51 L757.35,1405.41 L757.61,1404.33 L758,1404.98 L758.33,1404.92 L758.63,1404.28 L758.98,1404.52 L759.35,1405.01 L759.61,1403.81 L760.01,1404.73 L760.32,1404.32 L760.66,1404.32 L760.97,1403.87 L761.35,1404.5 L761.66,1403.97 L762.03,1404.56 L762.33,1403.88 L762.71,1404.52 L763.03,1404.36 L763.32,1403.55 L763.69,1404.08 L764.04,1404.13 L764.33,1403.36 L764.7,1404 L765.07,1404.39 L765.37,1403.83 L765.75,1404.47 L766.04,1403.65 L766.37,1403.6 L766.75,1404.2 L767.08,1404.2 L767.4,1403.9 L767.75,1403.93 L768.1,1404.26 L768.41,1403.7 L768.8,1404.59 L769.1,1404 L769.44,1403.97 L769.77,1403.91 L770.1,1403.69 L770.47,1404.2 L770.77,1403.55 L771.12,1403.8 L771.47,1403.94 L771.82,1404.17 L772.15,1404.09 L772.46,1403.53 L772.82,1403.97 L773.14,1403.59 L773.45,1403.22 L773.79,1403.21 L774.12,1403.01 L774.49,1403.64 L774.84,1403.89 L775.14,1403.14 L775.49,1403.37 L775.81,1403.06 L776.17,1403.43 L776.48,1403 L776.83,1403.1 L777.17,1403.13 L777.51,1403.19 L777.85,1403.2 L778.19,1403.24 L778.52,1403.23 L778.84,1402.94 L779.21,1403.45 L779.5,1402.64 L779.88,1403.27 L780.19,1402.87 L780.55,1403.23 L780.89,1403.26 L781.18,1402.45 L781.56,1403.25 L781.92,1403.57 L782.24,1403.35 L782.57,1403.2 L782.86,1402.31 L783.24,1402.98 L783.56,1402.7 L783.93,1403.36 L784.25,1402.87 L784.58,1402.74 L784.89,1402.33 L785.27,1403.18 L785.59,1402.71 L785.93,1402.8 L786.29,1403.25 L786.61,1402.88 L786.95,1402.95 L787.32,1403.65 L787.61,1402.61 L787.95,1402.61 L788.3,1402.94 L788.65,1403.24 L788.94,1402.23 L789.3,1402.64 L789.62,1402.36 L789.95,1402.21 L790.32,1402.86 L790.63,1402.38 L790.99,1402.73 L791.32,1402.65 L791.66,1402.64 L792,1402.6 L792.31,1402.19 L792.67,1402.52 L793.01,1402.6 L793.35,1402.63 L793.67,1402.4 L794.03,1402.81 L794.36,1402.66 L794.69,1402.48 L795.03,1402.65 L795.36,1402.48 L795.71,1402.63 L796,1401.7 L796.35,1401.92 L796.7,1402.21 L797.05,1402.37 L797.34,1401.57 L797.71,1402.21 L798.06,1402.34 L798.39,1402.18 L798.72,1402.17 L799.04,1401.77 L799.4,1402.25 L799.7,1401.49 L800.09,1402.52 L800.4,1401.95 L800.76,1402.53 L801.05,1401.53 L801.42,1402.27 L801.76,1402.15 L802.08,1401.8 L802.41,1401.66 L802.78,1402.48 L803.11,1402.19 L803.46,1402.55 L803.77,1402 L804.11,1402.06 L804.45,1402.13 L804.79,1402.24 L805.13,1402.12 L805.47,1402.23 L805.79,1401.77 L806.11,1401.41 L806.5,1402.6 L806.8,1401.95 L807.15,1402.04 L807.47,1401.71 L807.83,1402.2 L808.15,1401.9 L808.5,1402.2 L808.81,1401.58 L809.16,1401.77 L809.5,1401.85 L809.83,1401.65 L810.17,1401.85 L810.53,1402.29 L810.83,1401.53 L811.17,1401.62 L811.52,1401.76 L811.83,1401.35 L812.17,1401.25 L812.54,1402.05 L812.87,1401.92 L813.17,1401.09 L813.51,1401.13 L813.88,1401.87 L814.22,1402.01 L814.55,1401.8 L814.88,1401.74 L815.24,1402.11 L815.55,1401.53 L815.9,1401.97 L816.24,1401.93 L816.55,1401.18 L816.9,1401.72 L817.23,1401.5 L817.56,1401.24 L817.89,1401.16 L818.25,1401.55 L818.58,1401.4 L818.92,1401.69 L819.23,1400.78 L819.58,1401.15 L819.94,1401.75 L820.26,1401.35 L820.59,1401.09 L820.92,1401.16 L821.24,1400.67 L821.59,1400.82 L821.95,1401.47 L822.28,1401.3 L822.63,1401.71 L822.95,1401.16 L823.28,1401.18 L823.59,1400.27 L823.96,1401.17 L824.32,1401.92 L824.64,1401.41 L824.97,1401.13 L825.32,1401.59 L825.65,1401.44 L825.98,1401.26 L826.31,1401 L826.65,1401.16 L827,1401.4 L827.31,1400.8 L827.66,1401.25 L828,1401.23 L828.35,1401.52 L828.68,1401.3 L828.99,1400.79 L829.36,1401.57 L829.68,1401.02 L830,1400.73 L830.35,1401.1 L830.68,1400.87 L831.03,1401.33 L831.34,1400.47 L831.68,1400.53 L832.03,1400.82 L832.39,1401.51 L832.71,1401.25 L833.03,1400.53 L833.35,1400.26 L833.71,1400.74 L834.03,1400.4 L834.39,1401.03 L834.72,1400.87 L835.05,1400.8 L835.39,1400.64 L835.75,1401.31 L836.05,1400.43 L836.38,1400.29 L836.75,1401.14 L837.09,1401.2 L837.4,1400.59 L837.75,1400.93 L838.11,1401.52 L838.41,1400.4 L838.75,1400.61 L839.09,1400.82 L839.4,1399.91 L839.76,1400.58 L840.11,1400.89 L840.43,1400.57 L840.78,1400.96 L841.12,1400.85 L841.44,1400.44 L841.79,1400.76 L842.12,1400.71 L842.43,1399.96 L842.78,1400.23 L843.11,1400.24 L843.45,1400.32 L843.79,1400.33 L844.11,1399.98 L844.47,1400.48 L844.78,1399.81 L845.15,1400.79 L845.48,1400.53 L845.83,1400.91 L846.15,1400.54 L846.48,1400.23 L846.8,1399.89 L847.16,1400.62 L847.49,1400.37 L847.83,1400.49 L848.17,1400.61 L848.52,1400.76 L848.84,1400.31 L849.19,1400.93 L849.51,1400.27 L849.85,1400.29 L850.19,1400.52 L850.53,1400.63 L850.87,1400.75 L851.17,1399.6 L851.54,1400.72 L851.85,1399.69 L852.19,1400.02 L852.54,1400.34 L852.88,1400.61 L853.2,1399.83 L853.52,1399.58 L853.89,1400.5 L854.22,1400.27 L854.54,1399.78 L854.88,1400.02 L855.2,1399.43 L855.57,1400.32 L855.89,1399.92 L856.25,1400.54 L856.55,1399.36 L856.91,1400.34 L857.26,1400.84 L857.58,1400.1 L857.91,1400.1 L858.23,1399.37 L858.59,1400.15 L858.92,1400.02 L859.25,1399.8 L859.58,1399.44 L859.93,1400.01 L860.25,1399.62 L860.6,1399.79 L860.94,1400.06 L861.27,1399.92 L861.61,1399.93 L861.96,1400.25 L862.27,1399.5 L862.63,1400.39 L862.94,1399.49 L863.28,1399.56 L863.63,1399.91 L863.97,1400.14 L864.3,1399.94 L864.63,1399.69 L864.96,1399.58 L865.3,1399.73 L865.63,1399.48 L865.98,1400.01 L866.31,1399.72 L866.67,1400.34 L866.98,1399.52 L867.32,1399.72 L867.66,1399.91 L867.98,1399.35 L868.32,1399.5 L868.69,1400.72 L869,1399.71 L869.35,1400.23 L869.66,1399.33 L869.99,1398.83 L870.35,1399.87 L870.68,1399.65 L871.02,1399.76 L871.35,1399.54 L871.69,1399.43 L872.02,1399.19 L872.37,1399.98 L872.68,1399.07 L873.04,1399.94 L873.37,1399.51 L873.7,1399.19 L874.04,1399.34 L874.39,1399.91 L874.72,1399.81 L875.06,1399.72 L875.39,1399.57 L875.71,1399.14 L876.07,1399.98 L876.39,1399.36 L876.73,1399.3 L877.06,1399.31 L877.4,1399.33 L877.73,1398.96 L878.07,1399.31 L878.4,1399.17 L878.74,1399.26 L879.07,1398.83 L879.44,1400.11 L879.74,1398.99 L880.09,1399.52 L880.43,1399.52 L880.77,1399.75 L881.12,1400.05 L881.44,1399.52 L881.78,1399.62 L882.1,1399.2 L882.46,1399.88 L882.77,1398.86 L883.11,1399.25 L883.45,1399.43 L883.79,1399.58 L884.13,1399.6 L884.47,1399.71 L884.8,1399.5 L885.13,1399.29 L885.47,1399.35 L885.82,1399.77 L886.14,1399.36 L886.48,1399.57 L886.81,1399.2 L887.13,1398.59 L887.48,1399.02 L887.82,1399.34 L888.17,1399.79 L888.5,1399.71 L888.84,1399.79 L889.16,1398.94 L889.51,1399.45 L889.83,1399.16 L890.18,1399.39 L890.51,1399.13 L890.83,1398.66 L891.18,1399.38 L891.52,1399.26 L891.86,1399.41 L892.18,1398.81 L892.53,1399.47 L892.87,1399.5 L893.21,1399.58 L893.54,1399.58 L893.86,1398.92 L894.18,1398.17 L894.55,1399.41 L894.87,1398.72 L895.21,1398.96 L895.56,1399.43 L895.88,1399.13 L896.22,1399.11 L896.56,1399.26 L896.87,1398.33 L897.24,1399.67 L897.56,1398.86 L897.9,1398.87 L898.24,1399.18 L898.57,1398.92 L898.9,1398.65 L899.24,1398.9 L899.57,1398.8 L899.91,1398.69 L900.27,1399.64 L900.57,1398.4 L900.9,1398.12 L901.25,1398.56 L901.59,1398.54 L901.94,1399.38 L902.27,1398.92 L902.61,1399.16 L902.94,1399.07 L903.27,1398.52 L903.62,1399.13 L903.95,1398.89 L904.3,1399.5 L904.62,1398.88 L904.95,1398.79 L905.29,1399.06 L905.63,1399.06 L905.95,1398.14 L906.31,1399.21 L906.64,1399.15 L906.97,1399.06 L907.29,1398.35 L907.62,1398.03 L907.97,1398.64 L908.32,1399 L908.65,1398.89 L908.98,1398.36 L909.33,1399.04 L909.64,1398.21 L909.98,1398.21 L910.33,1398.68 L910.66,1398.47 L910.99,1398.42 L911.32,1398.14 L911.68,1399.04 L912,1398.25 L912.35,1398.79 L912.68,1398.92 L913.01,1398.61 L913.35,1398.71 L913.69,1398.97 L914.03,1399.18 L914.36,1398.94 L914.68,1398.1 L915.02,1397.91 L915.36,1398.37 L915.69,1398.17 L916.04,1398.76 L916.37,1398.6 L916.71,1398.47 L917.05,1398.94 L917.39,1398.9 L917.72,1398.51 L918.06,1398.65 L918.4,1398.9 L918.72,1398.39 L919.06,1398.61 L919.39,1398.15 L919.73,1398.5 L920.07,1398.6 L920.4,1398.44 L920.74,1398.54 L921.08,1398.71 L921.41,1398.61 L921.74,1398.2 L922.08,1398.23 L922.41,1398 L922.77,1399.03 L923.09,1398.57 L923.43,1398.57 L923.76,1398.36 L924.1,1398.57 L924.44,1398.58 L924.76,1398.12 L925.1,1398.33 L925.45,1398.79 L925.77,1397.91 L926.11,1398.02 L926.45,1398.56 L926.78,1398.07 L927.13,1398.61 L927.45,1397.95 L927.79,1398.41 L928.13,1398.61 L928.47,1398.45 L928.81,1398.59 L929.14,1398.24 L929.47,1398.24 L929.81,1398.28 L930.15,1398.49 L930.51,1399.57 L930.82,1398.25 L931.16,1398.93 L931.49,1398.18 L931.82,1397.86 L932.16,1398.16 L932.5,1398.38 L932.83,1398.3 L933.17,1398.28 L933.51,1398.42 L933.84,1398.42 L934.18,1398.54 L934.5,1397.79 L934.85,1398.21 L935.18,1397.86 L935.52,1398.27 L935.85,1398.16 L936.19,1398.23 L936.52,1398.01 L936.86,1397.87 L937.2,1398.07 L937.54,1398.38 L937.87,1398.42 L938.19,1397.56 L938.54,1398.23 L938.88,1398.23 L939.2,1397.6 L939.54,1397.73 L939.88,1397.92 L940.22,1398.24 L940.54,1397.27 L940.89,1397.95 L941.22,1397.89 L941.56,1398.13 L941.91,1398.56 L942.24,1398.53 L942.57,1397.91 L942.9,1397.91 L943.24,1398.13 L943.59,1398.45 L943.92,1398.53 L944.25,1398.14 L944.59,1398.53 L944.92,1397.7 L945.25,1397.6 L945.57,1397.01 L945.92,1397.69 L946.27,1398.19 L946.61,1398.29 L946.96,1399.18 L947.28,1398.18 L947.61,1398.03 L947.94,1397.62 L948.28,1397.74 L948.61,1397.74 L948.95,1397.86 L949.28,1397.7 L949.61,1397.42 L949.97,1398.29 L950.3,1398.08 L950.64,1398.4 L950.96,1397.34 L951.29,1397.44 L951.63,1397.63 L951.98,1398.31 L952.31,1397.82 L952.65,1397.96 L952.98,1397.84 L953.32,1397.93 L953.65,1397.67 L953.99,1397.99 L954.32,1397.55 L954.66,1397.75 L955,1397.94 L955.33,1397.87 L955.67,1397.98 L956,1397.53 L956.34,1397.91 L956.67,1397.7 L957.01,1397.94 L957.36,1398.31 L957.68,1397.47 L958.02,1398.15 L958.35,1397.54 L958.69,1397.62 L959.04,1398.34 L959.37,1398.09 L959.7,1397.93 L960.04,1398.03 L960.3,1413.64 L959.96,1413.17 L959.63,1413.64 L959.31,1414.35 L958.94,1412.53 L958.62,1413.57 L958.28,1413.31 L957.93,1412.52 L957.63,1414.34 L957.29,1414.37 L956.93,1412.98 L956.6,1412.95 L956.27,1413.18 L955.92,1412.34 L955.6,1413.38 L955.26,1412.86 L954.93,1413.54 L954.58,1412.72 L954.27,1413.82 L953.91,1412.77 L953.59,1413.64 L953.26,1413.93 L952.92,1413.34 L952.56,1412.39 L952.24,1412.92 L951.9,1412.58 L951.57,1413.14 L951.23,1412.8 L950.9,1413.4 L950.58,1414.29 L950.26,1414.68 L949.88,1412.6 L949.55,1412.46 L949.22,1413.19 L948.88,1412.82 L948.56,1413.42 L948.22,1413.36 L947.9,1414.31 L947.54,1412.76 L947.2,1412.74 L946.87,1412.92 L946.55,1413.66 L946.2,1412.93 L945.86,1412.99 L945.52,1412.69 L945.19,1412.75 L944.87,1413.47 L944.54,1414.16 L944.2,1413.46 L943.86,1413.55 L943.53,1413.95 L943.17,1412.65 L942.84,1412.72 L942.51,1413.18 L942.18,1413.32 L941.85,1413.64 L941.5,1412.73 L941.17,1413.06 L940.84,1413.18 L940.5,1413.03 L940.17,1413.36 L939.83,1413.43 L939.51,1413.82 L939.16,1413.48 L938.82,1413 L938.5,1413.94 L938.18,1414.84 L937.81,1412.86 L937.49,1413.87 L937.15,1413.16 L936.81,1413.27 L936.49,1413.8 L936.15,1413.89 L935.8,1413.1 L935.47,1413.49 L935.15,1413.91 L934.82,1414.15 L934.47,1413.46 L934.13,1413.53 L933.79,1413.25 L933.46,1413.29 L933.14,1414.05 L932.78,1413 L932.46,1413.68 L932.12,1413.37 L931.78,1413.45 L931.47,1414.75 L931.14,1414.85 L930.78,1413.54 L930.45,1413.96 L930.1,1413.08 L929.77,1413.56 L929.43,1413.29 L929.11,1413.84 L928.77,1413.56 L928.44,1414.2 L928.11,1414.18 L927.76,1413.65 L927.44,1414.24 L927.08,1413.03 L926.76,1413.99 L926.42,1413.5 L926.09,1413.89 L925.74,1413.26 L925.4,1413.07 L925.07,1413.28 L924.78,1415.24 L924.4,1413.26 L924.07,1413.51 L923.74,1413.81 L923.41,1414.11 L923.06,1413.12 L922.73,1413.42 L922.41,1414.5 L922.08,1414.7 L921.74,1414.3 L921.38,1413.35 L921.05,1413.49 L920.73,1414.27 L920.4,1414.42 L920.03,1413.04 L919.73,1414.53 L919.37,1413.33 L919.04,1413.63 L918.7,1413.25 L918.46,1417.87 L918.03,1413.62 L917.69,1413.44 L917.38,1414.5 L917.04,1414.43 L916.69,1413.67 L916.36,1413.69 L916.03,1414.13 L915.71,1414.59 L915.37,1414.35 L915.01,1413.42 L914.69,1413.96 L914.37,1414.83 L914.02,1414.14 L913.69,1414.19 L913.33,1413.18 L913.01,1413.81 L912.74,1417.22 L912.34,1414.2 L911.99,1413.29 L911.67,1414.29 L911.32,1413.47 L910.99,1413.52 L910.66,1413.78 L910.33,1413.93 L909.98,1413.64 L909.66,1414.19 L909.33,1414.44 L908.99,1414.13 L908.65,1413.93 L908.32,1414.05 L908,1414.75 L907.63,1413.56 L907.32,1414.64 L906.99,1414.66 L906.63,1413.79 L906.3,1413.99 L905.95,1413.37 L905.62,1413.32 L905.3,1414.37 L904.95,1413.74 L904.64,1414.48 L904.29,1413.87 L903.94,1413.55 L903.64,1414.75 L903.29,1414.44 L902.95,1414.1 L902.63,1414.62 L902.27,1413.88 L901.96,1414.74 L901.63,1415.05 L901.27,1413.88 L900.96,1415.08 L900.59,1413.71 L900.29,1415.02 L899.96,1415.27 L899.58,1413.49 L899.27,1414.34 L898.93,1414.13 L898.59,1414.03 L898.24,1413.49 L897.91,1413.78 L897.58,1413.87 L897.25,1414.17 L896.9,1413.73 L896.57,1413.76 L896.26,1414.71 L895.9,1414.04 L895.57,1413.89 L895.25,1414.67 L894.94,1415.65 L894.56,1413.74 L894.23,1414.04 L893.9,1414.43 L893.57,1414.75 L893.22,1414.17 L892.89,1414.22 L892.57,1414.91 L892.25,1415.5 L891.9,1414.82 L891.59,1416.08 L891.22,1414.37 L890.88,1414.16 L890.54,1414.04 L890.21,1414.36 L889.9,1415.41 L889.55,1414.7 L889.19,1413.93 L888.85,1413.74 L888.56,1415.57 L888.19,1414.07 L887.86,1414.31 L887.52,1414.26 L887.21,1415.05 L886.85,1413.94 L886.52,1414.27 L886.2,1414.89 L885.88,1415.46 L885.52,1414.59 L885.17,1414.1 L884.83,1413.89 L884.51,1414.56 L884.17,1414.46 L883.87,1415.74 L883.5,1414.31 L883.15,1413.88 L882.88,1416.13 L882.49,1414 L882.16,1414.51 L881.91,1417.62 L881.51,1415.12 L881.19,1415.61 L880.81,1414.18 L880.52,1415.59 L880.16,1414.69 L879.81,1414.29 L879.48,1414.58 L879.13,1414.1 L878.8,1413.98 L878.48,1414.53 L878.18,1416 L877.83,1415.6 L877.47,1414.69 L877.13,1414.49 L876.83,1415.83 L876.47,1414.89 L876.14,1414.87 L875.8,1414.69 L875.46,1414.52 L875.12,1414.4 L874.83,1416.15 L874.45,1414.38 L874.13,1414.97 L873.77,1414.31 L873.46,1415.06 L873.12,1414.98 L872.83,1416.72 L872.44,1414.66 L872.11,1414.81 L871.76,1414.45 L871.47,1415.83 L871.09,1414.22 L870.78,1415.09 L870.43,1414.53 L870.08,1414.24 L869.76,1414.87 L869.44,1415.15 L869.1,1415.1 L868.8,1416.5 L868.41,1414.47 L868.08,1414.68 L867.78,1415.71 L867.45,1416.14 L867.07,1414.42 L866.74,1414.57 L866.46,1416.59 L866.07,1414.75 L865.75,1415.22 L865.45,1416.63 L865.08,1415.21 L864.74,1414.94 L864.43,1416.14 L864.05,1414.54 L863.77,1416.51 L863.42,1415.95 L863.05,1414.81 L862.76,1416.22 L862.38,1414.63 L862.05,1414.76 L861.73,1415.23 L861.39,1415.35 L861.05,1415.12 L860.73,1415.66 L860.41,1415.98 L860.03,1414.54 L859.73,1415.89 L859.38,1415.32 L859.08,1416.42 L858.69,1414.66 L858.42,1416.93 L858.05,1415.59 L857.7,1415.09 L857.36,1415.02 L857.01,1414.64 L856.71,1415.89 L856.37,1415.6 L856.01,1414.92 L855.73,1416.53 L855.36,1415.43 L855,1414.68 L854.67,1414.79 L854.34,1414.86 L854.09,1417.87 L853.67,1414.89 L853.35,1415.46 L853,1415.06 L852.69,1415.96 L852.36,1416.17 L852,1415.26 L851.7,1416.33 L851.33,1415.4 L850.98,1414.92 L850.64,1414.8 L850.32,1415.08 L850,1415.52 L849.68,1416.06 L849.31,1414.91 L849.02,1416.4 L848.66,1415.53 L848.32,1415.53 L848.04,1417.21 L847.63,1414.98 L847.33,1416.02 L846.99,1415.94 L846.64,1415.34 L846.31,1415.52 L845.98,1415.78 L845.65,1415.94 L845.35,1417.12 L844.98,1416.08 L844.61,1414.99 L844.3,1415.54 L843.97,1415.88 L843.68,1417.19 L843.29,1415.45 L842.95,1415.36 L842.64,1416.11 L842.27,1415.12 L841.95,1415.6 L841.66,1416.96 L841.27,1415.35 L840.94,1415.56 L840.61,1415.52 L840.27,1415.36 L839.96,1416.14 L839.65,1417 L839.29,1416.3 L838.94,1415.78 L838.65,1417.18 L838.28,1416.23 L837.92,1415.36 L837.63,1416.63 L837.3,1416.93 L836.92,1415.53 L836.58,1415.61 L836.25,1415.6 L835.92,1415.69 L835.57,1415.44 L835.3,1417.14 L834.92,1416.05 L834.6,1416.31 L834.28,1416.83 L833.89,1415.39 L833.59,1416.27 L833.28,1417.05 L832.89,1415.49 L832.72,1419.93 L832.27,1416.87 L831.93,1416.64 L831.55,1415.56 L831.24,1416.08 L830.9,1416.09 L830.56,1415.82 L830.21,1415.62 L829.9,1416.2 L829.56,1415.97 L829.25,1416.86 L828.91,1416.63 L828.54,1415.79 L828.21,1416.01 L827.88,1415.96 L827.6,1417.56 L827.2,1415.8 L826.88,1416.1 L826.52,1415.63 L826.24,1416.9 L825.86,1415.72 L825.55,1416.52 L825.2,1416.13 L824.9,1416.98 L824.54,1416.42 L824.18,1415.77 L823.89,1416.95 L823.52,1415.88 L823.23,1417.16 L822.87,1416.58 L822.53,1416.47 L822.18,1415.95 L821.86,1416.53 L821.56,1417.28 L821.19,1416.49 L820.85,1416.38 L820.54,1416.91 L820.18,1416.39 L819.98,1419.72 L819.54,1417.02 L819.19,1416.66 L818.86,1416.97 L818.5,1416.2 L818.16,1416.13 L817.86,1416.97 L817.55,1417.54 L817.18,1416.83 L816.89,1417.98 L816.49,1416.24 L816.18,1416.94 L815.85,1417.06 L815.56,1418.15 L815.18,1416.98 L814.81,1416.23 L814.48,1416.45 L814.18,1417.27 L813.81,1416.42 L813.47,1416.25 L813.14,1416.43 L812.81,1416.46 L812.51,1417.31 L812.16,1417.14 L811.79,1416.25 L811.48,1416.83 L811.12,1416.31 L810.81,1416.91 L810.45,1416.36 L810.13,1416.51 L809.84,1417.57 L809.5,1417.5 L809.17,1417.71 L808.84,1417.7 L808.48,1417.26 L808.17,1417.82 L807.84,1417.84 L807.47,1417.2 L807.11,1416.63 L806.8,1417.07 L806.45,1416.79 L806.12,1416.96 L805.8,1417.31 L805.5,1418.11 L805.14,1417.51 L804.84,1418.21 L804.44,1416.84 L804.34,1421.99 L803.77,1416.83 L803.43,1416.8 L803.09,1416.65 L802.78,1417.17 L802.42,1416.79 L802.08,1416.65 L801.77,1417.16 L801.46,1417.68 L801.09,1416.9 L800.77,1417.28 L800.48,1418.15 L800.15,1418.39 L799.75,1416.95 L799.43,1417.28 L799.1,1417.46 L798.75,1417.04 L798.64,1421.86 L798.12,1417.88 L797.74,1417.01 L797.4,1416.95 L797.13,1418.2 L796.75,1417.31 L796.43,1417.71 L796.11,1417.98 L795.74,1417.28 L795.41,1417.41 L795.07,1417.25 L794.74,1417.32 L794.39,1417.11 L794.09,1417.74 L793.74,1417.53 L793.39,1417.2 L793.09,1417.86 L792.72,1417.3 L792.38,1417.24 L792.07,1417.66 L791.74,1417.67 L791.4,1417.66 L791.13,1418.89 L790.71,1417.24 L790.43,1418.35 L790.06,1417.62 L789.73,1417.73 L789.4,1417.91 L789.09,1418.36 L788.75,1418.29 L788.39,1417.76 L788.08,1418.37 L787.72,1417.77 L787.39,1417.97 L787.03,1417.42 L786.78,1419.19 L786.38,1417.89 L786.06,1418.09 L785.7,1417.69 L785.39,1418.15 L785.02,1417.56 L784.69,1417.52 L784.42,1418.93 L784.06,1418.38 L783.75,1418.8 L783.35,1417.59 L783.02,1417.74 L782.7,1418.1 L782.36,1418 L782.07,1418.74 L781.72,1418.51 L781.38,1418.33 L781.08,1419.03 L780.67,1417.74 L780.37,1418.31 L780.1,1419.55 L779.68,1418.04 L779.38,1418.72 L779,1417.84 L778.69,1418.32 L778.4,1419.13 L778.04,1418.57 L777.71,1418.74 L777.35,1418.23 L777,1418.11 L776.71,1418.88 L776.39,1419.1 L776.07,1419.3 L775.71,1418.87 L775.38,1419.12 L775.07,1419.47 L774.72,1419.25 L774.41,1419.69 L774.03,1418.82 L773.69,1418.89 L773.34,1418.59 L773.03,1419 L772.76,1420.08 L772.35,1418.89 L772.03,1419 L771.75,1420.05 L771.43,1420.21 L771.01,1418.84 L770.83,1421.39 L770.37,1419.33 L769.99,1418.59 L769.91,1422.84 L769.33,1418.85 L769.01,1418.99 L768.64,1418.55 L768.33,1418.82 L768.05,1419.81 L767.66,1418.85 L767.43,1420.67 L766.97,1418.65 L766.66,1418.93 L766.32,1418.86 L766.01,1419.33 L765.64,1418.73 L765.3,1418.65 L765,1419.2 L764.69,1419.7 L764.35,1419.56 L764.1,1420.84 L763.73,1420.38 L763.42,1420.75 L763.02,1419.75 L762.63,1418.96 L762.35,1419.79 L762.06,1420.39 L761.64,1419.21 L761.32,1419.4 L760.99,1419.52 L760.63,1419.1 L760.35,1419.98 L759.97,1419.32 L759.69,1420.06 L759.31,1419.43 L758.98,1419.49 L758.65,1419.54 L758.39,1420.67 L757.98,1419.64 L757.68,1420.06 L757.38,1420.66 L756.95,1419.26 L756.61,1419.24 L756.31,1419.79 L756,1420.14 L755.68,1420.3 L755.44,1421.68 L754.96,1419.54 L754.65,1420.02 L754.4,1421.13 L753.97,1419.78 L753.71,1420.85 L753.3,1419.77 L753.04,1420.84 L752.68,1420.58 L752.29,1419.75 L751.99,1420.28 L751.67,1420.45 L751.36,1420.78 L751,1420.46 L750.6,1419.62 L750.33,1420.47 L749.97,1420.15 L749.71,1421.15 L749.28,1419.9 L749.11,1422.09 L748.76,1421.88 L748.36,1421.04 L748.03,1421.08 L747.63,1420.32 L747.32,1420.59 L746.93,1419.96 L746.6,1420 L746.26,1419.97 L745.97,1420.46 L745.7,1421.38 L745.41,1421.87 L745.09,1422.12 L744.68,1421.2 L744.3,1420.66 L743.99,1420.98 L743.62,1420.46 L743.37,1421.6 L742.93,1420.26 L742.62,1420.63 L742.69,1425.62 L741.98,1420.96 L741.62,1420.71 L741.3,1420.8 L740.96,1420.79 L740.69,1421.56 L740.32,1421.14 L739.93,1420.5 L739.75,1422.33 L739.4,1422.16 L738.95,1420.88 L738.59,1420.57 L738.27,1420.73 L737.95,1420.86 L737.67,1421.52 L737.38,1422.16 L737.04,1422.1 L736.62,1421.07 L736.42,1422.59 L735.98,1421.46 L735.63,1421.25 L735.38,1422.22 L734.94,1421.05 L734.75,1422.67 L734.39,1422.39 L733.94,1421.11 L733.68,1421.96 L733.29,1421.41 L733.01,1421.98 L732.67,1421.95 L732.31,1421.69 L732,1421.98 L731.61,1421.3 L731.34,1422.03 L731.04,1422.45 L730.74,1422.83 L730.28,1421.51 L729.99,1422.03 L729.63,1421.71 L729.36,1422.45 L729.01,1422.23 L728.65,1422.07 L728.3,1421.87 L728,1422.28 L727.74,1423.06 L727.43,1423.31 L726.96,1421.93 L726.67,1422.33 L726.33,1422.33 L725.97,1422.08 L725.71,1422.88 L725.4,1423.11 L725.09,1423.36 L724.64,1422.26 L724.34,1422.59 L724.19,1424.46 L723.68,1422.66 L723.31,1422.35 L722.99,1422.54 L722.72,1423.21 L722.28,1422.08 L722,1422.65 L721.67,1422.73 L721.48,1424.18 L721.05,1423.25 L720.77,1423.75 L720.39,1423.3 L719.97,1422.53 L719.68,1422.96 L719.43,1423.78 L719.02,1423.11 L718.65,1422.74 L718.5,1424.51 L718.1,1423.88 L717.72,1423.51 L717.34,1423.12 L717.03,1423.35 L716.73,1423.65 L716.32,1422.98 L716.05,1423.58 L715.66,1423.09 L715.44,1424.14 L715.22,1425.17 L714.76,1424.07 L714.52,1424.93 L714.51,1427.85 L713.67,1423.33 L713.4,1423.93 L712.98,1423.17 L712.68,1423.53 L712.32,1423.3 L712.08,1424.14 L711.65,1423.34 L711.38,1423.85 L711.05,1423.93 L710.75,1424.27 L710.52,1425.17 L709.99,1423.54 L709.78,1424.61 L709.35,1423.76 L709.01,1423.76 L708.74,1424.33 L708.6,1425.88 L708.04,1424.07 L707.68,1423.92 L707.38,1424.15 L707.05,1424.27 L706.79,1424.85 L706.4,1424.41 L706.04,1424.21 L705.7,1424.24 L705.36,1424.2 L705.08,1424.66 L704.69,1424.23 L704.34,1424.12 L704.04,1424.38 L703.71,1424.47 L703.41,1424.71 L703.14,1425.23 L702.82,1425.35 L702.36,1424.39 L702.09,1424.91 L701.86,1425.75 L701.48,1425.39 L701.08,1424.91 L700.76,1425.07 L700.41,1424.94 L700.25,1426.23 L699.93,1426.36 L699.4,1424.97 L699.06,1424.91 L698.77,1425.31 L698.5,1425.76 L698.06,1425 L697.92,1426.43 L697.39,1425.06 L697.1,1425.41 L696.8,1425.68 L696.42,1425.39 L696.11,1425.53 L695.74,1425.29 L695.62,1426.79 L695.1,1425.56 L694.89,1426.45 L694.48,1425.95 L694.27,1426.79 L693.9,1426.56 L693.58,1426.69 L693.2,1426.42 L692.79,1425.9 L692.53,1426.45 L692.13,1426 L691.93,1426.9 L691.6,1426.97 L691.12,1426.04 L691,1427.42 L690.61,1427.1 L690.2,1426.67 L690,1427.5 L689.59,1427.05 L689.16,1426.46 L688.97,1427.4 L688.55,1426.87 L688.33,1427.65 L688.19,1428.82 L687.53,1426.89 L687.29,1427.46 L686.9,1427.17 L686.6,1427.37 L686.21,1427.07 L685.89,1427.2 L685.65,1427.78 L685.3,1427.66 L684.94,1427.58 L684.65,1427.84 L684.43,1428.5 L683.87,1427.27 L683.71,1428.29 L683.48,1428.9 L682.97,1427.89 L682.56,1427.51 L682.22,1427.49 L682.1,1428.74 L681.59,1427.8 L681.31,1428.09 L681.09,1428.73 L680.73,1428.64 L681.32,1433.66 L680.27,1429.79 L679.74,1428.78 L679.38,1428.67 L679.04,1428.68 L679.04,1430.43 L678.29,1428.31 L678.05,1428.84 L677.86,1429.6 L677.27,1428.28 L676.98,1428.59 L676.66,1428.67 L676.34,1428.75 L675.97,1428.63 L675.79,1429.43 L675.28,1428.57 L676.08,1434.24 L674.75,1429.31 L674.28,1428.72 L674.03,1429.14 L674.07,1430.98 L673.3,1428.9 L673.39,1430.99 L672.85,1430.03 L672.44,1429.7 L672.02,1429.34 L671.65,1429.22 L671.75,1431.27 L671.36,1431.02 L670.83,1430.18 L670.6,1430.69 L670.19,1430.35 L669.97,1430.93 L669.58,1430.7 L669.04,1429.83 L668.85,1430.51 L668.39,1429.97 L668.12,1430.28 L667.98,1431.18 L667.69,1431.4 L667.18,1430.68 L666.89,1430.93 L666.55,1430.94 L666.25,1431.1 L665.81,1430.7 L665.64,1431.45 L665.14,1430.8 L665.15,1432.23 L664.62,1431.49 L664.37,1431.86 L663.85,1431.17 L663.57,1431.41 L663.86,1433.93 L662.81,1431.14 L662.66,1431.91 L662.41,1432.28 L661.88,1431.57 L661.72,1432.29 L661.15,1431.43 L660.83,1431.53 L661.1,1433.88 L660.38,1432.46 L659.88,1431.9 L659.89,1433.22 L659.2,1431.97 L658.97,1432.39 L658.69,1432.66 L658.21,1432.16 L658.09,1432.98 L657.93,1433.67 L657.48,1433.28 L657.34,1434.02 L656.54,1432.47 L656.37,1433.08 L655.98,1432.97 L655.64,1433 L655.54,1433.85 L654.89,1432.83 L655.07,1434.59 L654.35,1433.39 L654.16,1433.93 L653.61,1433.29 L653.71,1434.76 L653.05,1433.76 L652.66,1433.65 L652.34,1433.76 L652.01,1433.84 L652.54,1436.6 L651.65,1434.93 L651.17,1434.55 L651.05,1435.25 L650.59,1434.93 L649.99,1434.22 L649.75,1434.55 L649.5,1434.87 L649.01,1434.5 L648.9,1435.24 L648.79,1435.94 L648.14,1435.11 L647.67,1434.8 L647.47,1435.26 L647.46,1436.25 L646.86,1435.58 L646.79,1436.39 L646.43,1436.4 L645.79,1435.62 L645.45,1435.71 L645.46,1436.69 L645.22,1437.02 L645,1437.41 L644.44,1436.91 L644.4,1437.73 L643.79,1437.1 L643.45,1437.17 L643.07,1437.14 L642.68,1437.1 L642.19,1436.79 L642.03,1437.32 L641.5,1436.93 L641.41,1437.64 L641.29,1438.23 L641.31,1439.18 L640.64,1438.47 L639.86,1437.51 L640.2,1439.19 L639.22,1437.78 L639.05,1438.27 L638.91,1438.81 L638.31,1438.32 L638.77,1440.2 L637.64,1438.53 L637.47,1438.99 L637.16,1439.16 L636.71,1439.01 L636.59,1439.6 L636.4,1440 L635.99,1439.95 L635.4,1439.55 L635.54,1440.62 L635.01,1440.35 L634.89,1440.9 L634.05,1440 L633.93,1440.56 L633.44,1440.37 L633.89,1442.03 L632.88,1440.83 L632.82,1441.5 L632.88,1442.37 L631.97,1441.41 L631.68,1441.62 L631.62,1442.27 L631.55,1442.87 L630.72,1442.1 L630.45,1442.36 L629.84,1442.02 L629.56,1442.25 L629.21,1442.39 L629.61,1443.8 L631.6,1447.91 L628.36,1443.1 L628.59,1444.2 L627.78,1443.56 L630.35,1448.5 L627.58,1444.64 L626.67,1443.87 L626.57,1444.4 L626.5,1444.98 L626.27,1445.31 L625.5,1444.8 L625.17,1444.98 L625.04,1445.46 L624.67,1445.59 L624.94,1446.66 L623.98,1445.92 L623.68,1446.14 L623.46,1446.5 L623.06,1446.59 L622.65,1446.68 L622.46,1447.07 L622.14,1447.28 L621.58,1447.17 L621.29,1447.43 L621.36,1448.18 L620.5,1447.68 L620.53,1448.38 L621.49,1450.27 L619.61,1448.49 L619.97,1449.59 L619.17,1449.21 L618.76,1449.35 L618.35,1449.49 L618.16,1449.89 L618.28,1450.67 L617.5,1450.38 L617.26,1450.74 L616.85,1450.89 L617.03,1451.72 L616.49,1451.74 L616.32,1452.17 L616.41,1452.89 L615.87,1452.92 L614.8,1452.4 L614.53,1452.74 L614.6,1453.44 L613.81,1453.25 L615.12,1455.2 L613.72,1454.4 L612.95,1454.26 L613.12,1455.05 L612.31,1454.89 L612.05,1455.26 L611.77,1455.63 L612.2,1456.66 L612.03,1457.12 L611.07,1456.87 L610.59,1457.06 L610.78,1457.86 L610.93,1458.61 L609.57,1458.07 L608.81,1458.06 L609.12,1458.96 L608.66,1459.21 L608.19,1459.47 L608.21,1460.12 L607.45,1460.17 L607.04,1460.5 L607.98,1461.87 L606.49,1461.38 L605.91,1461.6 L606.04,1462.36 L605.95,1462.95 L605.15,1463.05 L605.54,1463.99 L604.74,1464.1 L604.53,1464.63 L604.24,1465.11 L604.1,1465.7 L603.22,1465.81 L603.23,1466.51 L602.84,1466.96 L602.54,1467.47 L601.62,1467.61 L601.26,1468.11 L601.52,1468.99 L600.7,1469.23 L600.44,1469.81 L601.28,1471.04 L600.4,1471.27 L600.15,1471.88 L599.29,1472.17 L598.99,1472.77 L598.78,1473.43 L598.36,1474 L597.97,1474.59 L598.23,1475.51 L597.4,1475.9 L596.71,1476.38 L596.84,1477.26 L596.41,1477.89 L596.19,1478.63 L595.84,1479.32 L595.34,1479.95 L595.05,1480.7 L594.27,1481.24 L594.22,1482.11 L593.99,1482.92 L593.4,1483.59 L593.12,1484.4 L593.01,1485.3 L592.22,1485.94 L592.44,1486.99 L591.8,1487.72 L591.88,1488.74 L591.74,1489.69 L590.78,1490.36 L590.73,1491.37 L590.07,1492.19 L589.69,1493.12 L589.48,1494.12 L589.96,1495.38 L588.45,1495.99 L588.18,1497.02 L588.89,1498.39 L587.53,1499.12 L587.43,1500.27 L586.86,1501.28 L586.61,1502.42 L586.14,1503.52 L585.99,1504.72 L586.06,1506.01 L585.86,1507.23 L585.04,1508.31 L584.52,1509.5 L584.59,1510.86 L583.79,1512.02 L583.87,1513.43 L583.08,1514.64 L583.22,1516.1 L582.83,1517.46 L582.59,1518.87 L582,1520.23 L581.62,1521.66 L581,1523.06 L581.35,1524.7 L580.61,1526.13 L580.46,1527.71 L579.94,1529.24 L579.51,1530.81 L579.42,1532.47 L578.85,1534.07 L578.48,1535.73 L578.39,1537.47 L577.73,1539.13 L577.34,1540.87 L577.06,1542.65 L576.87,1544.48 L577.03,1546.4 L576.14,1548.15 L575.78,1550.03 L575.54,1551.95 L575.25,1553.9 L574.87,1555.85 L574.47,1557.83 L574.09,1559.83 L573.79,1561.88 L573.41,1563.94 L572.97,1566.02 L572.79,1568.16 L572.55,1570.32 L572.03,1572.46 L571.68,1574.66 L571.33,1576.87 L571.15,1579.14 L570.81,1581.41 L570.51,1583.71 L570.13,1586.02 L569.76,1588.35 L569.56,1590.73 L569.07,1593.09 L568.64,1595.48 L568.36,1597.91 L568.05,1600.35 L567.66,1602.81 L567.46,1605.31 L566.98,1607.78 L566.85,1610.33 L566.35,1612.84 L566.01,1615.38 L565.65,1617.94 L565.35,1620.52 L564.94,1623.09 L564.6,1625.69 L564.34,1628.31 L563.93,1630.92 L563.62,1633.55 L563.28,1636.19 L562.97,1638.83 L562.59,1641.48 L562.25,1644.13 L561.92,1646.79 L561.59,1649.45 L561.24,1652.11 Z" fill="#dddb98" stroke="#dddb98" stroke-width="0.6" stroke-linejoin="round"/>
<path d="M181.88,1867.04 L183.14,1867 L184.39,1866.96 L185.65,1866.92 L186.91,1866.89 L188.16,1866.85 L189.42,1866.81 L190.68,1866.77 L191.93,1866.73 L193.19,1866.68 L194.45,1866.64 L195.7,1866.6 L196.96,1866.56 L198.22,1866.52 L199.47,1866.48 L200.73,1866.43 L201.98,1866.39 L203.24,1866.35 L204.5,1866.31 L205.75,1866.26 L207.01,1866.22 L208.27,1866.17 L209.52,1866.13 L210.78,1866.08 L212.04,1866.04 L213.29,1865.99 L214.55,1865.95 L215.8,1865.9 L217.06,1865.86 L218.32,1865.81 L219.57,1865.76 L220.83,1865.71 L222.09,1865.67 L223.34,1865.62 L224.6,1865.57 L225.86,1865.52 L227.11,1865.47 L228.37,1865.42 L229.62,1865.37 L230.88,1865.32 L232.14,1865.27 L233.39,1865.22 L234.65,1865.17 L235.91,1865.11 L237.16,1865.06 L238.42,1865.01 L239.68,1864.95 L240.93,1864.9 L242.19,1864.85 L243.45,1864.79 L244.7,1864.74 L245.96,1864.68 L247.21,1864.63 L248.47,1864.57 L249.73,1864.51 L250.98,1864.45 L252.24,1864.4 L253.5,1864.34 L254.75,1864.28 L256.01,1864.22 L257.27,1864.16 L258.52,1864.1 L259.78,1864.04 L261.03,1863.98 L262.29,1863.92 L263.55,1863.85 L264.8,1863.79 L266.06,1863.73 L267.32,1863.66 L268.57,1863.6 L269.83,1863.53 L271.09,1863.47 L272.34,1863.4 L273.6,1863.33 L274.85,1863.27 L276.11,1863.2 L277.37,1863.13 L278.62,1863.06 L279.88,1862.99 L281.14,1862.92 L282.39,1862.85 L283.65,1862.78 L284.91,1862.71 L286.16,1862.63 L287.42,1862.56 L288.68,1862.48 L289.93,1862.41 L291.19,1862.33 L292.44,1862.26 L293.7,1862.18 L294.96,1862.1 L296.21,1862.02 L297.47,1861.94 L298.73,1861.86 L299.98,1861.78 L301.24,1861.7 L302.5,1861.61 L303.75,1861.53 L305.01,1861.45 L306.26,1861.36 L307.52,1861.28 L308.78,1861.19 L310.03,1861.1 L311.29,1861.01 L312.55,1860.92 L313.8,1860.83 L315.06,1860.74 L316.32,1860.65 L317.57,1860.55 L318.83,1860.46 L320.08,1860.36 L321.34,1860.27 L322.6,1860.17 L323.85,1860.07 L325.11,1859.97 L326.37,1859.87 L327.62,1859.77 L328.88,1859.67 L330.14,1859.56 L331.39,1859.46 L332.65,1859.35 L333.91,1859.24 L335.16,1859.13 L336.42,1859.02 L337.67,1858.91 L338.93,1858.8 L340.19,1858.68 L341.44,1858.57 L342.7,1858.45 L343.96,1858.33 L345.21,1858.22 L346.47,1858.09 L347.73,1857.97 L348.98,1857.85 L350.24,1857.72 L351.49,1857.6 L352.75,1857.47 L354.01,1857.34 L355.26,1857.21 L356.52,1857.07 L357.78,1856.94 L359.03,1856.8 L360.29,1856.66 L361.55,1856.52 L362.8,1856.38 L364.06,1856.24 L365.32,1856.09 L366.57,1855.95 L367.83,1855.8 L369.08,1855.64 L370.34,1855.49 L371.6,1855.34 L372.85,1855.18 L374.11,1855.02 L375.37,1854.86 L376.62,1854.69 L377.88,1854.53 L379.14,1854.36 L380.39,1854.19 L381.65,1854.01 L382.9,1853.84 L384.16,1853.66 L385.42,1853.48 L386.67,1853.29 L387.93,1853.1 L389.19,1852.91 L390.44,1852.72 L391.7,1852.53 L392.96,1852.33 L394.21,1852.13 L395.47,1851.92 L396.72,1851.72 L397.98,1851.5 L399.24,1851.29 L400.49,1851.07 L401.75,1850.85 L403.01,1850.63 L404.26,1850.4 L405.52,1850.17 L406.78,1849.93 L408.03,1849.69 L409.29,1849.45 L410.55,1849.2 L411.8,1848.95 L413.06,1848.69 L414.31,1848.43 L415.57,1848.16 L416.83,1847.89 L418.08,1847.61 L419.34,1847.33 L420.6,1847.05 L421.85,1846.76 L423.11,1846.46 L424.37,1846.16 L425.62,1845.85 L426.88,1845.54 L428.13,1845.22 L429.39,1844.89 L430.65,1844.56 L431.9,1844.22 L433.16,1843.88 L434.42,1843.52 L435.67,1843.17 L436.93,1842.8 L438.19,1842.42 L439.44,1842.04 L440.7,1841.65 L441.95,1841.25 L443.21,1840.85 L444.47,1840.43 L445.72,1840 L446.98,1839.57 L448.24,1839.12 L449.49,1838.67 L450.75,1838.21 L452.01,1837.73 L453.26,1837.24 L454.52,1836.75 L455.78,1836.24 L457.03,1835.71 L458.29,1835.18 L459.54,1834.63 L460.8,1834.07 L462.06,1833.5 L463.31,1832.91 L464.57,1832.3 L465.83,1831.68 L467.08,1831.05 L468.34,1830.4 L469.6,1829.73 L470.85,1829.04 L472.11,1828.33 L473.36,1827.61 L474.62,1826.87 L475.88,1826.1 L477.13,1825.32 L478.39,1824.51 L479.65,1823.68 L480.9,1822.83 L482.16,1821.95 L483.42,1821.05 L484.67,1820.13 L485.93,1819.17 L487.18,1818.19 L488.44,1817.18 L489.7,1816.14 L490.95,1815.07 L492.21,1813.97 L493.47,1812.83 L494.72,1811.66 L495.98,1810.46 L497.24,1809.22 L498.49,1807.94 L499.75,1806.63 L501.01,1805.27 L502.26,1803.87 L503.52,1802.44 L504.77,1800.95 L506.03,1799.43 L507.29,1797.85 L508.54,1796.23 L509.8,1794.57 L511.06,1792.85 L512.31,1791.08 L513.57,1789.25 L514.83,1787.38 L516.08,1785.45 L517.34,1783.46 L518.59,1781.41 L519.85,1779.31 L521.11,1777.14 L522.36,1774.91 L523.62,1772.62 L524.88,1770.27 L526.13,1767.84 L527.39,1765.35 L528.65,1762.8 L529.9,1760.16 L531.16,1757.46 L532.41,1754.68 L533.67,1751.82 L534.93,1748.87 L536.18,1745.84 L537.44,1742.71 L538.7,1739.48 L539.95,1736.14 L541.21,1732.67 L542.47,1729.06 L543.72,1725.27 L544.98,1721.29 L546.24,1717.05 L547.49,1712.51 L548.75,1707.56 L550,1702.11 L551.26,1696.03 L552.52,1689.17 L553.77,1681.42 L555.03,1672.77 L556.29,1663.35 L557.54,1653.45 L558.8,1643.54 L560.06,1634.05 L561.31,1625.33 L562.57,1617.5 L563.82,1610.56 L565.08,1604.41 L566.34,1598.91 L567.59,1593.93 L568.85,1589.35 L570.11,1585.09 L571.36,1581.08 L572.62,1577.28 L573.88,1573.65 L575.13,1570.17 L576.39,1566.82 L577.65,1563.58 L578.9,1560.44 L580.16,1557.4 L581.41,1554.45 L582.67,1551.58 L583.93,1548.79 L585.18,1546.08 L586.44,1543.44 L587.7,1540.88 L588.95,1538.38 L590.21,1535.95 L591.47,1533.59 L592.72,1531.29 L593.98,1529.06 L595.23,1526.89 L596.49,1524.78 L597.75,1522.73 L599,1520.73 L600.26,1518.8 L601.52,1516.91 L602.77,1515.09 L604.03,1513.31 L605.29,1511.59 L606.54,1509.92 L607.8,1508.29 L609.05,1506.71 L610.31,1505.18 L611.57,1503.7 L612.82,1502.25 L614.08,1500.85 L615.34,1499.5 L616.59,1498.18 L617.85,1496.9 L619.11,1495.65 L620.36,1494.45 L621.62,1493.27 L622.88,1492.13 L624.13,1491.03 L625.39,1489.96 L626.64,1488.91 L627.9,1487.9 L629.16,1486.92 L630.41,1485.96 L631.67,1485.03 L632.93,1484.13 L634.18,1483.25 L635.44,1482.39 L636.7,1481.56 L637.95,1480.75 L639.21,1479.97 L640.46,1479.2 L641.72,1478.46 L642.98,1477.73 L644.23,1477.02 L645.49,1476.34 L646.75,1475.66 L648,1475.01 L649.26,1474.37 L650.52,1473.75 L651.77,1473.15 L653.03,1472.56 L654.28,1471.98 L655.54,1471.42 L656.8,1470.87 L658.05,1470.33 L659.31,1469.81 L660.57,1469.3 L661.82,1468.8 L663.08,1468.31 L664.34,1467.84 L665.59,1467.37 L666.85,1466.92 L668.11,1466.47 L669.36,1466.04 L670.62,1465.61 L671.87,1465.19 L673.13,1464.78 L674.39,1464.38 L675.64,1463.99 L676.9,1463.61 L678.16,1463.24 L679.41,1462.87 L680.67,1462.51 L681.93,1462.15 L683.18,1461.81 L684.44,1461.47 L685.69,1461.14 L686.95,1460.81 L688.21,1460.49 L689.46,1460.18 L690.72,1459.87 L691.98,1459.57 L693.23,1459.27 L694.49,1458.98 L695.75,1458.69 L697,1458.41 L698.26,1458.13 L699.51,1457.86 L700.77,1457.6 L702.03,1457.34 L703.28,1457.08 L704.54,1456.83 L705.8,1456.58 L707.05,1456.33 L708.31,1456.09 L709.57,1455.86 L710.82,1455.62 L712.08,1455.39 L713.34,1455.17 L714.59,1454.95 L715.85,1454.73 L717.1,1454.51 L718.36,1454.3 L719.62,1454.1 L720.87,1453.89 L722.13,1453.69 L723.39,1453.49 L724.64,1453.3 L725.9,1453.1 L727.16,1452.91 L728.41,1452.73 L729.67,1452.54 L730.92,1452.36 L732.18,1452.18 L733.44,1452 L734.69,1451.83 L735.95,1451.66 L737.21,1451.49 L738.46,1451.32 L739.72,1451.16 L740.98,1451 L742.23,1450.84 L743.49,1450.68 L744.75,1450.52 L746,1450.37 L747.26,1450.22 L748.51,1450.07 L749.77,1449.92 L751.03,1449.77 L752.28,1449.63 L753.54,1449.49 L754.8,1449.35 L756.05,1449.21 L757.31,1449.07 L758.57,1448.94 L759.82,1448.81 L761.08,1448.67 L762.33,1448.54 L763.59,1448.41 L764.85,1448.29 L766.1,1448.16 L767.36,1448.04 L768.62,1447.92 L769.87,1447.8 L771.13,1447.68 L772.39,1447.56 L773.64,1447.44 L774.9,1447.33 L776.15,1447.21 L777.41,1447.1 L778.67,1446.99 L779.92,1446.88 L781.18,1446.77 L782.44,1446.66 L783.69,1446.55 L784.95,1446.45 L786.21,1446.34 L787.46,1446.24 L788.72,1446.14 L789.98,1446.04 L791.23,1445.94 L792.49,1445.84 L793.74,1445.74 L795,1445.65 L796.26,1445.55 L797.51,1445.46 L798.77,1445.36 L800.03,1445.27 L801.28,1445.18 L802.54,1445.09 L803.8,1445 L805.05,1444.91 L806.31,1444.82 L807.56,1444.73 L808.82,1444.65 L810.08,1444.56 L811.33,1444.48 L812.59,1444.39 L813.85,1444.31 L815.1,1444.23 L816.36,1444.15 L817.62,1444.07 L818.87,1443.99 L820.13,1443.91 L821.38,1443.83 L822.64,1443.75 L823.9,1443.67 L825.15,1443.6 L826.41,1443.52 L827.67,1443.45 L828.92,1443.37 L830.18,1443.3 L831.44,1443.23 L832.69,1443.16 L833.95,1443.09 L835.21,1443.02 L836.46,1442.95 L837.72,1442.88 L838.97,1442.81 L840.23,1442.74 L841.49,1442.67 L842.74,1442.6 L844,1442.54 L845.26,1442.47 L846.51,1442.41 L847.77,1442.34 L849.03,1442.28 L850.28,1442.22 L851.54,1442.15 L852.79,1442.09 L854.05,1442.03 L855.31,1441.97 L856.56,1441.91 L857.82,1441.85 L859.08,1441.79 L860.33,1441.73 L861.59,1441.67 L862.85,1441.61 L864.1,1441.55 L865.36,1441.49 L866.61,1441.44 L867.87,1441.38 L869.13,1441.32 L870.38,1441.27 L871.64,1441.21 L872.9,1441.16 L874.15,1441.1 L875.41,1441.05 L876.67,1441 L877.92,1440.94 L879.18,1440.89 L880.44,1440.84 L881.69,1440.79 L882.95,1440.74 L884.2,1440.69 L885.46,1440.63 L886.72,1440.58 L887.97,1440.53 L889.23,1440.49 L890.49,1440.44 L891.74,1440.39 L893,1440.34 L894.26,1440.29 L895.51,1440.24 L896.77,1440.2 L898.02,1440.15 L899.28,1440.1 L900.54,1440.06 L901.79,1440.01 L903.05,1439.96 L904.31,1439.92 L905.56,1439.87 L906.82,1439.83 L908.08,1439.79 L909.33,1439.74 L910.59,1439.7 L911.84,1439.66 L913.1,1439.61 L914.36,1439.57 L915.61,1439.53 L916.87,1439.48 L918.13,1439.44 L919.38,1439.4 L920.64,1439.36 L921.9,1439.32 L923.15,1439.28 L924.41,1439.24 L925.67,1439.2 L926.92,1439.16 L928.18,1439.12 L929.43,1439.08 L930.69,1439.04 L931.95,1439 L933.2,1438.96 L934.46,1438.92" fill="none" stroke="#5a8389" stroke-width="7" stroke-linecap="butt" stroke-linejoin="round" />
<path d="M157.9,1829.6 L159.23,1829.55 L160.57,1829.5 L161.9,1829.45 L163.24,1829.39 L164.57,1829.34 L165.91,1829.28 L167.24,1829.23 L168.58,1829.17 L169.91,1829.12 L171.25,1829.06 L172.58,1829.01 L173.91,1828.95 L175.25,1828.89 L176.58,1828.84 L177.92,1828.78 L179.25,1828.72 L180.59,1828.66 L181.92,1828.6 L183.26,1828.54 L184.59,1828.48 L185.93,1828.42 L187.26,1828.36 L188.59,1828.3 L189.93,1828.24 L191.26,1828.18 L192.6,1828.11 L193.93,1828.05 L195.27,1827.99 L196.6,1827.92 L197.94,1827.86 L199.27,1827.79 L200.61,1827.73 L201.94,1827.66 L203.27,1827.6 L204.61,1827.53 L205.94,1827.46 L207.28,1827.39 L208.61,1827.32 L209.95,1827.26 L211.28,1827.19 L212.62,1827.12 L213.95,1827.05 L215.29,1826.97 L216.62,1826.9 L217.96,1826.83 L219.29,1826.76 L220.62,1826.68 L221.96,1826.61 L223.29,1826.54 L224.63,1826.46 L225.96,1826.38 L227.3,1826.31 L228.63,1826.23 L229.97,1826.15 L231.3,1826.08 L232.64,1826 L233.97,1825.92 L235.3,1825.84 L236.64,1825.76 L237.97,1825.67 L239.31,1825.59 L240.64,1825.51 L241.98,1825.43 L243.31,1825.34 L244.65,1825.26 L245.98,1825.17 L247.32,1825.08 L248.65,1825 L249.98,1824.91 L251.32,1824.82 L252.65,1824.73 L253.99,1824.64 L255.32,1824.55 L256.66,1824.46 L257.99,1824.36 L259.33,1824.27 L260.66,1824.17 L262,1824.08 L263.33,1823.98 L264.66,1823.89 L266,1823.79 L267.33,1823.69 L268.67,1823.59 L270,1823.49 L271.34,1823.39 L272.67,1823.28 L274.01,1823.18 L275.34,1823.08 L276.68,1822.97 L278.01,1822.86 L279.34,1822.76 L280.68,1822.65 L282.01,1822.54 L283.35,1822.43 L284.68,1822.32 L286.02,1822.2 L287.35,1822.09 L288.69,1821.97 L290.02,1821.86 L291.36,1821.74 L292.69,1821.62 L294.02,1821.5 L295.36,1821.38 L296.69,1821.26 L298.03,1821.14 L299.36,1821.01 L300.7,1820.88 L302.03,1820.76 L303.37,1820.63 L304.7,1820.5 L306.04,1820.37 L307.37,1820.23 L308.71,1820.1 L310.04,1819.96 L311.37,1819.83 L312.71,1819.69 L314.04,1819.55 L315.38,1819.41 L316.71,1819.26 L318.05,1819.12 L319.38,1818.97 L320.72,1818.82 L322.05,1818.67 L323.39,1818.52 L324.72,1818.37 L326.05,1818.21 L327.39,1818.06 L328.72,1817.9 L330.06,1817.74 L331.39,1817.58 L332.73,1817.41 L334.06,1817.25 L335.4,1817.08 L336.73,1816.91 L338.07,1816.74 L339.4,1816.56 L340.73,1816.39 L342.07,1816.21 L343.4,1816.03 L344.74,1815.84 L346.07,1815.66 L347.41,1815.47 L348.74,1815.28 L350.08,1815.09 L351.41,1814.9 L352.75,1814.7 L354.08,1814.5 L355.41,1814.3 L356.75,1814.09 L358.08,1813.89 L359.42,1813.68 L360.75,1813.46 L362.09,1813.25 L363.42,1813.03 L364.76,1812.81 L366.09,1812.58 L367.43,1812.35 L368.76,1812.12 L370.09,1811.89 L371.43,1811.65 L372.76,1811.41 L374.1,1811.17 L375.43,1810.92 L376.77,1810.67 L378.1,1810.42 L379.44,1810.16 L380.77,1809.9 L382.11,1809.63 L383.44,1809.36 L384.77,1809.09 L386.11,1808.81 L387.44,1808.53 L388.78,1808.25 L390.11,1807.96 L391.45,1807.66 L392.78,1807.37 L394.12,1807.06 L395.45,1806.75 L396.79,1806.44 L398.12,1806.13 L399.45,1805.8 L400.79,1805.48 L402.12,1805.15 L403.46,1804.81 L404.79,1804.47 L406.13,1804.12 L407.46,1803.76 L408.8,1803.41 L410.13,1803.04 L411.47,1802.67 L412.8,1802.29 L414.14,1801.91 L415.47,1801.52 L416.8,1801.12 L418.14,1800.72 L419.47,1800.31 L420.81,1799.9 L422.14,1799.47 L423.48,1799.04 L424.81,1798.61 L426.15,1798.16 L427.48,1797.71 L428.82,1797.25 L430.15,1796.78 L431.48,1796.31 L432.82,1795.82 L434.15,1795.33 L435.49,1794.83 L436.82,1794.32 L438.16,1793.8 L439.49,1793.27 L440.83,1792.73 L442.16,1792.18 L443.5,1791.63 L444.83,1791.06 L446.16,1790.48 L447.5,1789.9 L448.83,1789.3 L450.17,1788.69 L451.5,1788.07 L452.84,1787.44 L454.17,1786.8 L455.51,1786.14 L456.84,1785.47 L458.18,1784.8 L459.51,1784.1 L460.84,1783.4 L462.18,1782.68 L463.51,1781.95 L464.85,1781.21 L466.18,1780.45 L467.52,1779.68 L468.85,1778.89 L470.19,1778.09 L471.52,1777.28 L472.86,1776.44 L474.19,1775.6 L475.52,1774.74 L476.86,1773.86 L478.19,1772.96 L479.53,1772.05 L480.86,1771.12 L482.2,1770.17 L483.53,1769.2 L484.87,1768.22 L486.2,1767.21 L487.54,1766.19 L488.87,1765.15 L490.2,1764.09 L491.54,1763 L492.87,1761.9 L494.21,1760.77 L495.54,1759.62 L496.88,1758.44 L498.21,1757.25 L499.55,1756.03 L500.88,1754.78 L502.22,1753.5 L503.55,1752.2 L504.88,1750.88 L506.22,1749.52 L507.55,1748.13 L508.89,1746.71 L510.22,1745.26 L511.56,1743.77 L512.89,1742.25 L514.23,1740.69 L515.56,1739.09 L516.9,1737.45 L518.23,1735.77 L519.57,1734.04 L520.9,1732.26 L522.23,1730.44 L523.57,1728.55 L524.9,1726.61 L526.24,1724.61 L527.57,1722.54 L528.91,1720.41 L530.24,1718.2 L531.58,1715.92 L532.91,1713.55 L534.25,1711.1 L535.58,1708.56 L536.91,1705.93 L538.25,1703.2 L539.58,1700.36 L540.92,1697.43 L542.25,1694.39 L543.59,1691.24 L544.92,1687.99 L546.26,1684.64 L547.59,1681.19 L548.93,1677.64 L550.26,1674.01 L551.59,1670.3 L552.93,1666.53 L554.26,1662.7 L555.6,1658.84 L556.93,1654.95 L558.27,1651.05 L559.6,1647.16 L560.94,1643.3 L562.27,1639.47 L563.61,1635.7 L564.94,1631.99 L566.27,1628.36 L567.61,1624.81 L568.94,1621.36 L570.28,1618.01 L571.61,1614.76 L572.95,1611.61 L574.28,1608.57 L575.62,1605.64 L576.95,1602.8 L578.29,1600.07 L579.62,1597.44 L580.95,1594.9 L582.29,1592.45 L583.62,1590.08 L584.96,1587.8 L586.29,1585.59 L587.63,1583.46 L588.96,1581.39 L590.3,1579.39 L591.63,1577.45 L592.97,1575.56 L594.3,1573.74 L595.63,1571.96 L596.97,1570.23 L598.3,1568.55 L599.64,1566.91 L600.97,1565.31 L602.31,1563.75 L603.64,1562.23 L604.98,1560.74 L606.31,1559.29 L607.65,1557.87 L608.98,1556.48 L610.32,1555.12 L611.65,1553.8 L612.98,1552.5 L614.32,1551.22 L615.65,1549.97 L616.99,1548.75 L618.32,1547.56 L619.66,1546.38 L620.99,1545.23 L622.33,1544.1 L623.66,1543 L625,1541.91 L626.33,1540.85 L627.66,1539.81 L629,1538.79 L630.33,1537.78 L631.67,1536.8 L633,1535.83 L634.34,1534.88 L635.67,1533.95 L637.01,1533.04 L638.34,1532.14 L639.68,1531.26 L641.01,1530.4 L642.34,1529.56 L643.68,1528.72 L645.01,1527.91 L646.35,1527.11 L647.68,1526.32 L649.02,1525.55 L650.35,1524.79 L651.69,1524.05 L653.02,1523.32 L654.36,1522.6 L655.69,1521.9 L657.02,1521.2 L658.36,1520.53 L659.69,1519.86 L661.03,1519.2 L662.36,1518.56 L663.7,1517.93 L665.03,1517.31 L666.37,1516.7 L667.7,1516.1 L669.04,1515.52 L670.37,1514.94 L671.7,1514.37 L673.04,1513.82 L674.37,1513.27 L675.71,1512.73 L677.04,1512.2 L678.38,1511.68 L679.71,1511.17 L681.05,1510.67 L682.38,1510.18 L683.72,1509.69 L685.05,1509.22 L686.38,1508.75 L687.72,1508.29 L689.05,1507.84 L690.39,1507.39 L691.72,1506.96 L693.06,1506.53 L694.39,1506.1 L695.73,1505.69 L697.06,1505.28 L698.4,1504.88 L699.73,1504.48 L701.06,1504.09 L702.4,1503.71 L703.73,1503.33 L705.07,1502.96 L706.4,1502.59 L707.74,1502.24 L709.07,1501.88 L710.41,1501.53 L711.74,1501.19 L713.08,1500.85 L714.41,1500.52 L715.75,1500.2 L717.08,1499.87 L718.41,1499.56 L719.75,1499.25 L721.08,1498.94 L722.42,1498.63 L723.75,1498.34 L725.09,1498.04 L726.42,1497.75 L727.76,1497.47 L729.09,1497.19 L730.43,1496.91 L731.76,1496.64 L733.09,1496.37 L734.43,1496.1 L735.76,1495.84 L737.1,1495.58 L738.43,1495.33 L739.77,1495.08 L741.1,1494.83 L742.44,1494.59 L743.77,1494.35 L745.11,1494.11 L746.44,1493.88 L747.77,1493.65 L749.11,1493.42 L750.44,1493.19 L751.78,1492.97 L753.11,1492.75 L754.45,1492.54 L755.78,1492.32 L757.12,1492.11 L758.45,1491.91 L759.79,1491.7 L761.12,1491.5 L762.45,1491.3 L763.79,1491.1 L765.12,1490.91 L766.46,1490.72 L767.79,1490.53 L769.13,1490.34 L770.46,1490.16 L771.8,1489.97 L773.13,1489.79 L774.47,1489.61 L775.8,1489.44 L777.13,1489.26 L778.47,1489.09 L779.8,1488.92 L781.14,1488.75 L782.47,1488.59 L783.81,1488.42 L785.14,1488.26 L786.48,1488.1 L787.81,1487.94 L789.15,1487.79 L790.48,1487.63 L791.81,1487.48 L793.15,1487.33 L794.48,1487.18 L795.82,1487.03 L797.15,1486.88 L798.49,1486.74 L799.82,1486.59 L801.16,1486.45 L802.49,1486.31 L803.83,1486.17 L805.16,1486.04 L806.49,1485.9 L807.83,1485.77 L809.16,1485.63 L810.5,1485.5 L811.83,1485.37 L813.17,1485.24 L814.5,1485.12 L815.84,1484.99 L817.17,1484.86 L818.51,1484.74 L819.84,1484.62 L821.18,1484.5 L822.51,1484.38 L823.84,1484.26 L825.18,1484.14 L826.51,1484.03 L827.85,1483.91 L829.18,1483.8 L830.52,1483.68 L831.85,1483.57 L833.19,1483.46 L834.52,1483.35 L835.86,1483.24 L837.19,1483.14 L838.52,1483.03 L839.86,1482.92 L841.19,1482.82 L842.53,1482.72 L843.86,1482.61 L845.2,1482.51 L846.53,1482.41 L847.87,1482.31 L849.2,1482.21 L850.54,1482.11 L851.87,1482.02 L853.2,1481.92 L854.54,1481.83 L855.87,1481.73 L857.21,1481.64 L858.54,1481.54 L859.88,1481.45 L861.21,1481.36 L862.55,1481.27 L863.88,1481.18 L865.22,1481.09 L866.55,1481 L867.88,1480.92 L869.22,1480.83 L870.55,1480.74 L871.89,1480.66 L873.22,1480.57 L874.56,1480.49 L875.89,1480.41 L877.23,1480.33 L878.56,1480.24 L879.9,1480.16 L881.23,1480.08 L882.56,1480 L883.9,1479.92 L885.23,1479.85 L886.57,1479.77 L887.9,1479.69 L889.24,1479.62 L890.57,1479.54 L891.91,1479.46 L893.24,1479.39 L894.58,1479.32 L895.91,1479.24 L897.24,1479.17 L898.58,1479.1 L899.91,1479.03 L901.25,1478.95 L902.58,1478.88 L903.92,1478.81 L905.25,1478.74 L906.59,1478.68 L907.92,1478.61 L909.26,1478.54 L910.59,1478.47 L911.93,1478.4 L913.26,1478.34 L914.59,1478.27 L915.93,1478.21 L917.26,1478.14 L918.6,1478.08 L919.93,1478.01 L921.27,1477.95 L922.6,1477.89 L923.94,1477.82 L925.27,1477.76 L926.61,1477.7 L927.94,1477.64 L929.27,1477.58 L930.61,1477.52 L931.94,1477.46 L933.28,1477.4 L934.61,1477.34 L935.95,1477.28 L937.28,1477.22 L938.62,1477.16 L939.95,1477.11 L941.29,1477.05 L942.62,1476.99 L943.95,1476.94 L945.29,1476.88 L946.62,1476.83 L947.96,1476.77 L949.29,1476.72 L950.63,1476.66 L951.96,1476.61 L953.3,1476.55 L954.63,1476.5 L955.97,1476.45 L957.3,1476.4" fill="none" stroke="#3e5c66" stroke-width="7" stroke-linecap="butt" stroke-linejoin="round" />
<path d="M127.64,1913.14 L128.71,1913.13 L129.78,1913.11 L130.85,1913.09 L131.92,1913.07 L132.99,1913.06 L134.06,1913.04 L135.13,1913.02 L136.2,1913.01 L137.27,1912.99 L138.34,1912.97 L139.41,1912.95 L140.48,1912.94 L141.55,1912.92 L142.62,1912.9 L143.7,1912.88 L144.77,1912.87 L145.84,1912.85 L146.91,1912.83 L147.98,1912.81 L149.05,1912.79 L150.12,1912.78 L151.19,1912.76 L152.26,1912.74 L153.33,1912.72 L154.4,1912.7 L155.47,1912.68 L156.54,1912.66 L157.61,1912.64 L158.68,1912.62 L159.75,1912.61 L160.82,1912.59 L161.89,1912.57 L162.96,1912.55 L164.04,1912.53 L165.11,1912.51 L166.18,1912.49 L167.25,1912.47 L168.32,1912.45 L169.39,1912.43 L170.46,1912.41 L171.53,1912.39 L172.6,1912.37 L173.67,1912.35 L174.74,1912.32 L175.81,1912.3 L176.88,1912.28 L177.95,1912.26 L179.02,1912.24 L180.09,1912.22 L181.16,1912.2 L182.23,1912.18 L183.3,1912.15 L184.38,1912.13 L185.45,1912.11 L186.52,1912.09 L187.59,1912.07 L188.66,1912.04 L189.73,1912.02 L190.8,1912 L191.87,1911.98 L192.94,1911.95 L194.01,1911.93 L195.08,1911.91 L196.15,1911.88 L197.22,1911.86 L198.29,1911.84 L199.36,1911.81 L200.43,1911.79 L201.5,1911.76 L202.57,1911.74 L203.65,1911.72 L204.72,1911.69 L205.79,1911.67 L206.86,1911.64 L207.93,1911.62 L209,1911.59 L210.07,1911.57 L211.14,1911.54 L212.21,1911.52 L213.28,1911.49 L214.35,1911.46 L215.42,1911.44 L216.49,1911.41 L217.56,1911.39 L218.63,1911.36 L219.7,1911.33 L220.77,1911.31 L221.84,1911.28 L222.91,1911.25 L223.99,1911.22 L225.06,1911.2 L226.13,1911.17 L227.2,1911.14 L228.27,1911.11 L229.34,1911.08 L230.41,1911.06 L231.48,1911.03 L232.55,1911 L233.62,1910.97 L234.69,1910.94 L235.76,1910.91 L236.83,1910.88 L237.9,1910.85 L238.97,1910.82 L240.04,1910.79 L241.11,1910.76 L242.18,1910.73 L243.25,1910.7 L244.33,1910.67 L245.4,1910.64 L246.47,1910.6 L247.54,1910.57 L248.61,1910.54 L249.68,1910.51 L250.75,1910.48 L251.82,1910.44 L252.89,1910.41 L253.96,1910.38 L255.03,1910.35 L256.1,1910.31 L257.17,1910.28 L258.24,1910.24 L259.31,1910.21 L260.38,1910.18 L261.45,1910.14 L262.52,1910.11 L263.6,1910.07 L264.67,1910.03 L265.74,1910 L266.81,1909.96 L267.88,1909.93 L268.95,1909.89 L270.02,1909.85 L271.09,1909.82 L272.16,1909.78 L273.23,1909.74 L274.3,1909.7 L275.37,1909.66 L276.44,1909.63 L277.51,1909.59 L278.58,1909.55 L279.65,1909.51 L280.72,1909.47 L281.79,1909.43 L282.86,1909.39 L283.94,1909.35 L285.01,1909.31 L286.08,1909.27 L287.15,1909.22 L288.22,1909.18 L289.29,1909.14 L290.36,1909.1 L291.43,1909.05 L292.5,1909.01 L293.57,1908.97 L294.64,1908.92 L295.71,1908.88 L296.78,1908.83 L297.85,1908.79 L298.92,1908.74 L299.99,1908.7 L301.06,1908.65 L302.13,1908.6 L303.2,1908.56 L304.28,1908.51 L305.35,1908.46 L306.42,1908.41 L307.49,1908.37 L308.56,1908.32 L309.63,1908.27 L310.7,1908.22 L311.77,1908.17 L312.84,1908.12 L313.91,1908.06 L314.98,1908.01 L316.05,1907.96 L317.12,1907.91 L318.19,1907.85 L319.26,1907.8 L320.33,1907.75 L321.4,1907.69 L322.47,1907.64 L323.55,1907.58 L324.62,1907.53 L325.69,1907.47 L326.76,1907.41 L327.83,1907.35 L328.9,1907.3 L329.97,1907.24 L331.04,1907.18 L332.11,1907.12 L333.18,1907.06 L334.25,1907 L335.32,1906.94 L336.39,1906.87 L337.46,1906.81 L338.53,1906.75 L339.6,1906.68 L340.67,1906.62 L341.74,1906.55 L342.81,1906.49 L343.89,1906.42 L344.96,1906.35 L346.03,1906.29 L347.1,1906.22 L348.17,1906.15 L349.24,1906.08 L350.31,1906.01 L351.38,1905.94 L352.45,1905.86 L353.52,1905.79 L354.59,1905.72 L355.66,1905.64 L356.73,1905.57 L357.8,1905.49 L358.87,1905.41 L359.94,1905.34 L361.01,1905.26 L362.08,1905.18 L363.15,1905.1 L364.23,1905.02 L365.3,1904.93 L366.37,1904.85 L367.44,1904.77 L368.51,1904.68 L369.58,1904.59 L370.65,1904.51 L371.72,1904.42 L372.79,1904.33 L373.86,1904.24 L374.93,1904.15 L376,1904.06 L377.07,1903.96 L378.14,1903.87 L379.21,1903.77 L380.28,1903.68 L381.35,1903.58 L382.42,1903.48 L383.5,1903.38 L384.57,1903.28 L385.64,1903.18 L386.71,1903.07 L387.78,1902.97 L388.85,1902.86 L389.92,1902.75 L390.99,1902.64 L392.06,1902.53 L393.13,1902.42 L394.2,1902.31 L395.27,1902.19 L396.34,1902.07 L397.41,1901.96 L398.48,1901.84 L399.55,1901.71 L400.62,1901.59 L401.69,1901.47 L402.76,1901.34 L403.84,1901.21 L404.91,1901.08 L405.98,1900.95 L407.05,1900.81 L408.12,1900.68 L409.19,1900.54 L410.26,1900.4 L411.33,1900.26 L412.4,1900.12 L413.47,1899.97 L414.54,1899.82 L415.61,1899.67 L416.68,1899.52 L417.75,1899.36 L418.82,1899.2 L419.89,1899.05 L420.96,1898.88 L422.03,1898.72 L423.1,1898.55 L424.18,1898.38 L425.25,1898.21 L426.32,1898.03 L427.39,1897.85 L428.46,1897.67 L429.53,1897.48 L430.6,1897.3 L431.67,1897.11 L432.74,1896.91 L433.81,1896.71 L434.88,1896.51 L435.95,1896.31 L437.02,1896.1 L438.09,1895.89 L439.16,1895.67 L440.23,1895.45 L441.3,1895.23 L442.37,1895 L443.45,1894.77 L444.52,1894.53 L445.59,1894.29 L446.66,1894.04 L447.73,1893.79 L448.8,1893.54 L449.87,1893.27 L450.94,1893.01 L452.01,1892.74 L453.08,1892.46 L454.15,1892.18 L455.22,1891.89 L456.29,1891.59 L457.36,1891.29 L458.43,1890.99 L459.5,1890.67 L460.57,1890.35 L461.64,1890.02 L462.71,1889.69 L463.79,1889.34 L464.86,1888.99 L465.93,1888.63 L467,1888.26 L468.07,1887.89 L469.14,1887.5 L470.21,1887.1 L471.28,1886.7 L472.35,1886.28 L473.42,1885.86 L474.49,1885.42 L475.56,1884.97 L476.63,1884.51 L477.7,1884.04 L478.77,1883.55 L479.84,1883.06 L480.91,1882.54 L481.98,1882.02 L483.05,1881.47 L484.13,1880.92 L485.2,1880.34 L486.27,1879.75 L487.34,1879.14 L488.41,1878.51 L489.48,1877.86 L490.55,1877.19 L491.62,1876.5 L492.69,1875.79 L493.76,1875.05 L494.83,1874.29 L495.9,1873.5 L496.97,1872.69 L498.04,1871.84 L499.11,1870.96 L500.18,1870.06 L501.25,1869.11 L502.32,1868.13 L503.4,1867.12 L504.47,1866.06 L505.54,1864.96 L506.61,1863.82 L507.68,1862.63 L508.75,1861.38 L509.82,1860.09 L510.89,1858.73 L511.96,1857.32 L513.03,1855.84 L514.1,1854.29 L515.17,1852.67 L516.24,1850.97 L517.31,1849.18 L518.38,1847.31 L519.45,1845.35 L520.52,1843.28 L521.59,1841.11 L522.66,1838.82 L523.74,1836.41 L524.81,1833.87 L525.88,1831.19 L526.95,1828.36 L528.02,1825.38 L529.09,1822.22 L530.16,1818.9 L531.23,1815.38 L532.3,1811.67 L533.37,1807.75 L534.44,1803.61 L535.51,1799.24 L536.58,1794.63 L537.65,1789.77 L538.72,1784.66 L539.79,1779.27 L540.86,1773.62 L541.93,1767.68 L543,1761.46 L544.08,1754.96 L545.15,1748.18 L546.22,1741.13 L547.29,1733.8 L548.36,1726.22 L549.43,1718.39 L550.5,1710.33 L551.57,1702.07 L552.64,1693.63 L553.71,1685.03 L554.78,1676.31 L555.85,1667.5 L556.92,1658.63 L557.99,1649.74 L559.06,1640.86 L560.13,1632.03 L561.2,1623.29 L562.27,1614.65 L563.35,1606.17 L564.42,1597.86 L565.49,1589.74 L566.56,1581.85 L567.63,1574.2 L568.7,1566.8 L569.77,1559.67 L570.84,1552.82 L571.91,1546.24 L572.98,1539.95 L574.05,1533.94 L575.12,1528.21 L576.19,1522.75 L577.26,1517.57 L578.33,1512.64 L579.4,1507.96 L580.47,1503.53 L581.54,1499.33 L582.61,1495.35 L583.69,1491.59 L584.76,1488.02 L585.83,1484.65 L586.9,1481.45 L587.97,1478.42 L589.04,1475.55 L590.11,1472.84 L591.18,1470.26 L592.25,1467.81 L593.32,1465.49 L594.39,1463.29 L595.46,1461.19 L596.53,1459.2 L597.6,1457.31 L598.67,1455.5 L599.74,1453.78 L600.81,1452.14 L601.88,1450.57 L602.95,1449.07 L604.03,1447.64 L605.1,1446.27 L606.17,1444.96 L607.24,1443.7 L608.31,1442.5 L609.38,1441.34 L610.45,1440.23 L611.52,1439.16 L612.59,1438.13 L613.66,1437.14 L614.73,1436.19 L615.8,1435.28 L616.87,1434.39 L617.94,1433.54 L619.01,1432.71 L620.08,1431.92 L621.15,1431.15 L622.22,1430.41 L623.3,1429.69 L624.37,1428.99 L625.44,1428.31 L626.51,1427.66 L627.58,1427.03 L628.65,1426.41 L629.72,1425.82 L630.79,1425.24 L631.86,1424.67 L632.93,1424.13 L634,1423.6 L635.07,1423.08 L636.14,1422.58 L637.21,1422.09 L638.28,1421.61 L639.35,1421.15 L640.42,1420.7 L641.49,1420.26 L642.56,1419.83 L643.64,1419.41 L644.71,1419 L645.78,1418.6 L646.85,1418.22 L647.92,1417.84 L648.99,1417.47 L650.06,1417.1 L651.13,1416.75 L652.2,1416.41 L653.27,1416.07 L654.34,1415.74 L655.41,1415.41 L656.48,1415.1 L657.55,1414.79 L658.62,1414.49 L659.69,1414.19 L660.76,1413.9 L661.83,1413.61 L662.9,1413.34 L663.98,1413.06 L665.05,1412.8 L666.12,1412.53 L667.19,1412.28 L668.26,1412.02 L669.33,1411.78 L670.4,1411.53 L671.47,1411.3 L672.54,1411.06 L673.61,1410.83 L674.68,1410.61 L675.75,1410.39 L676.82,1410.17 L677.89,1409.96 L678.96,1409.75 L680.03,1409.54 L681.1,1409.34 L682.17,1409.14 L683.25,1408.95 L684.32,1408.75 L685.39,1408.57 L686.46,1408.38 L687.53,1408.2 L688.6,1408.02 L689.67,1407.84 L690.74,1407.67 L691.81,1407.5 L692.88,1407.33 L693.95,1407.16 L695.02,1407 L696.09,1406.84 L697.16,1406.68 L698.23,1406.52 L699.3,1406.37 L700.37,1406.22 L701.44,1406.07 L702.51,1405.92 L703.59,1405.78 L704.66,1405.64 L705.73,1405.5 L706.8,1405.36 L707.87,1405.22 L708.94,1405.09 L710.01,1404.95 L711.08,1404.82 L712.15,1404.69 L713.22,1404.57 L714.29,1404.44 L715.36,1404.32 L716.43,1404.2 L717.5,1404.08 L718.57,1403.96 L719.64,1403.84 L720.71,1403.72 L721.78,1403.61 L722.85,1403.5 L723.93,1403.39 L725,1403.28 L726.07,1403.17 L727.14,1403.06 L728.21,1402.96 L729.28,1402.85 L730.35,1402.75 L731.42,1402.65 L732.49,1402.55 L733.56,1402.45 L734.63,1402.35 L735.7,1402.25 L736.77,1402.16 L737.84,1402.06 L738.91,1401.97 L739.98,1401.87 L741.05,1401.78 L742.12,1401.69 L743.2,1401.6 L744.27,1401.52 L745.34,1401.43 L746.41,1401.34 L747.48,1401.26 L748.55,1401.17 L749.62,1401.09 L750.69,1401.01 L751.76,1400.93 L752.83,1400.84 L753.9,1400.76 L754.97,1400.69 L756.04,1400.61 L757.11,1400.53 L758.18,1400.45 L759.25,1400.38 L760.32,1400.3 L761.39,1400.23 L762.46,1400.16 L763.54,1400.08 L764.61,1400.01 L765.68,1399.94 L766.75,1399.87 L767.82,1399.8 L768.89,1399.73 L769.96,1399.66 L771.03,1399.6 L772.1,1399.53 L773.17,1399.46 L774.24,1399.4 L775.31,1399.33 L776.38,1399.27 L777.45,1399.21 L778.52,1399.14 L779.59,1399.08 L780.66,1399.02 L781.73,1398.96 L782.8,1398.9 L783.88,1398.84 L784.95,1398.78 L786.02,1398.72 L787.09,1398.66 L788.16,1398.6 L789.23,1398.55 L790.3,1398.49 L791.37,1398.43 L792.44,1398.38 L793.51,1398.32 L794.58,1398.27 L795.65,1398.21 L796.72,1398.16 L797.79,1398.11 L798.86,1398.05 L799.93,1398 L801,1397.95 L802.07,1397.9 L803.15,1397.85 L804.22,1397.8 L805.29,1397.75 L806.36,1397.7 L807.43,1397.65 L808.5,1397.6 L809.57,1397.55 L810.64,1397.5 L811.71,1397.45 L812.78,1397.41 L813.85,1397.36 L814.92,1397.31 L815.99,1397.27 L817.06,1397.22 L818.13,1397.18 L819.2,1397.13 L820.27,1397.09 L821.34,1397.04 L822.41,1397 L823.49,1396.96 L824.56,1396.91 L825.63,1396.87 L826.7,1396.83 L827.77,1396.79 L828.84,1396.75 L829.91,1396.7 L830.98,1396.66 L832.05,1396.62 L833.12,1396.58 L834.19,1396.54 L835.26,1396.5 L836.33,1396.46 L837.4,1396.42 L838.47,1396.38 L839.54,1396.35 L840.61,1396.31 L841.68,1396.27 L842.75,1396.23 L843.83,1396.19 L844.9,1396.16 L845.97,1396.12 L847.04,1396.08 L848.11,1396.05 L849.18,1396.01 L850.25,1395.97 L851.32,1395.94 L852.39,1395.9 L853.46,1395.87 L854.53,1395.83 L855.6,1395.8 L856.67,1395.77 L857.74,1395.73 L858.81,1395.7 L859.88,1395.66 L860.95,1395.63 L862.02,1395.6 L863.1,1395.56 L864.17,1395.53 L865.24,1395.5 L866.31,1395.47 L867.38,1395.44 L868.45,1395.4 L869.52,1395.37 L870.59,1395.34 L871.66,1395.31 L872.73,1395.28 L873.8,1395.25 L874.87,1395.22 L875.94,1395.19 L877.01,1395.16 L878.08,1395.13 L879.15,1395.1 L880.22,1395.07 L881.29,1395.04 L882.36,1395.01 L883.44,1394.98 L884.51,1394.95 L885.58,1394.92 L886.65,1394.9 L887.72,1394.87 L888.79,1394.84 L889.86,1394.81 L890.93,1394.78 L892,1394.76 L893.07,1394.73 L894.14,1394.7 L895.21,1394.68 L896.28,1394.65 L897.35,1394.62 L898.42,1394.6 L899.49,1394.57 L900.56,1394.54 L901.63,1394.52 L902.7,1394.49 L903.78,1394.47 L904.85,1394.44 L905.92,1394.42 L906.99,1394.39 L908.06,1394.37 L909.13,1394.34 L910.2,1394.32 L911.27,1394.29 L912.34,1394.27 L913.41,1394.24 L914.48,1394.22 L915.55,1394.19 L916.62,1394.17 L917.69,1394.15 L918.76,1394.12 L919.83,1394.1 L920.9,1394.08 L921.97,1394.05 L923.05,1394.03 L924.12,1394.01 L925.19,1393.99 L926.26,1393.96 L927.33,1393.94 L928.4,1393.92 L929.47,1393.9 L930.54,1393.87 L931.61,1393.85 L932.68,1393.83 L933.75,1393.81 L934.82,1393.79 L935.89,1393.77 L936.96,1393.74 L938.03,1393.72 L939.1,1393.7 L940.17,1393.68 L941.24,1393.66 L942.31,1393.64 L943.39,1393.62 L944.46,1393.6 L945.53,1393.58 L946.6,1393.56 L947.67,1393.54 L948.74,1393.52 L949.81,1393.5 L950.88,1393.48 L951.95,1393.46 L953.02,1393.44 L954.09,1393.42 L955.16,1393.4 L956.23,1393.38 L957.3,1393.36 L958.37,1393.34 L959.44,1393.32 L960.51,1393.3 L961.58,1393.29 L962.65,1393.27 L963.73,1393.25 L964.8,1393.23 L965.87,1393.21 L966.94,1393.19 L968.01,1393.17 L969.08,1393.16 L970.15,1393.14 L971.22,1393.12 L972.29,1393.1 L973.36,1393.09 L974.43,1393.07 L975.5,1393.05 L976.57,1393.03 L977.64,1393.02 L978.71,1393 L979.78,1392.98 L980.85,1392.96 L981.92,1392.95 L983,1392.93" fill="none" stroke="#000" stroke-width="4.8" stroke-linecap="butt" stroke-linejoin="round" stroke-dasharray="6 3.85" />
<path d="M131.2,1406.1 L169.8,1406.1" fill="none" stroke="#dddb98" stroke-width="5" stroke-linecap="butt" stroke-linejoin="round" />
<path d="M131.2,1451.7 L169.8,1451.7" fill="none" stroke="#5a8389" stroke-width="5" stroke-linecap="butt" stroke-linejoin="round" />
<path d="M131.2,1497 L169.8,1497" fill="none" stroke="#3e5c66" stroke-width="5" stroke-linecap="butt" stroke-linejoin="round" />
<path d="M130,1554.9 L204.6,1554.9" fill="none" stroke="#000" stroke-width="3" stroke-linecap="butt" stroke-linejoin="round" stroke-dasharray="5.8 3.5" />
<text x="175.5" y="1411.9" font-size="21" text-anchor="start" >Isotopic (Gd 0.04%)</text>
<text x="175.5" y="1457.6" font-size="21" text-anchor="start" >Gd 1.85%</text>
<text x="175.5" y="1502.7" font-size="21" text-anchor="start" >Gd 4.8%</text>
<text x="211.5" y="1561.6" font-size="21" text-anchor="start" >Langevin (<tspan font-style="italic">&#956;</tspan><tspan font-size="14.5" dy="6.5">Gd</tspan><tspan dy="-6.5">)</tspan></text>
<text x="475" y="1443.5" font-size="21" text-anchor="start" >2 K</text>
<rect x="113" y="1377.3" width="890.5" height="550.2" fill="none" stroke="#000" stroke-width="2.2"/>
<text x="559.5" y="2001.3" font-size="29.5" text-anchor="middle" ><tspan font-style="italic">&#956;</tspan><tspan font-size="23" dy="8">0</tspan><tspan font-style="italic" dy="-8">H</tspan> (T)</text>
<text transform="translate(39.5,1652.5) rotate(-90)" font-size="29.5" text-anchor="middle"><tspan font-style="italic">M</tspan><tspan font-size="20" dy="6">imp</tspan><tspan dy="-6"> (</tspan><tspan font-style="italic">&#956;</tspan><tspan font-size="20" dy="6">B</tspan><tspan dy="-6">/Gd)</tspan></text>
<text x="-1" y="1389.8" font-size="42" font-weight="bold">c</text>
<rect x="632.9" y="1598.6" width="298.1" height="183.80000000000018" fill="#fff" stroke="none"/>
<line x1="632.9" y1="1690.6" x2="931" y2="1690.6" stroke="#000" stroke-width="1.1" />
<line x1="781.7" y1="1598.6" x2="781.7" y2="1782.4" stroke="#000" stroke-width="1.1" />
<line x1="682.4" y1="1782.4" x2="682.4" y2="1773.4" stroke="#000" stroke-width="1.4" />
<line x1="682.4" y1="1598.6" x2="682.4" y2="1607.6" stroke="#000" stroke-width="1.4" />
<line x1="732.05" y1="1782.4" x2="732.05" y2="1773.4" stroke="#000" stroke-width="1.4" />
<line x1="732.05" y1="1598.6" x2="732.05" y2="1607.6" stroke="#000" stroke-width="1.4" />
<line x1="831.35" y1="1782.4" x2="831.35" y2="1773.4" stroke="#000" stroke-width="1.4" />
<line x1="831.35" y1="1598.6" x2="831.35" y2="1607.6" stroke="#000" stroke-width="1.4" />
<line x1="881" y1="1782.4" x2="881" y2="1773.4" stroke="#000" stroke-width="1.4" />
<line x1="881" y1="1598.6" x2="881" y2="1607.6" stroke="#000" stroke-width="1.4" />
<line x1="632.9" y1="1736.6" x2="644.9" y2="1736.6" stroke="#000" stroke-width="1.4" />
<line x1="931" y1="1736.6" x2="919" y2="1736.6" stroke="#000" stroke-width="1.4" />
<line x1="632.9" y1="1644.6" x2="644.9" y2="1644.6" stroke="#000" stroke-width="1.4" />
<line x1="931" y1="1644.6" x2="919" y2="1644.6" stroke="#000" stroke-width="1.4" />
<path d="M647.64,1770.91 L648.18,1770.25 L648.72,1770.26 L649.26,1771 L649.79,1770.85 L650.33,1770.91 L650.87,1770.35 L651.41,1770.58 L651.94,1770.16 L652.48,1771.3 L653.02,1769.67 L653.56,1770.38 L654.09,1769.97 L654.63,1770.29 L655.17,1770.34 L655.7,1769.9 L656.24,1769.67 L656.78,1770.08 L657.32,1770 L657.85,1769.56 L658.39,1770.21 L658.93,1770.45 L659.47,1769.51 L660,1769.94 L660.54,1770.45 L661.08,1769.88 L661.61,1769.65 L662.15,1769.92 L662.69,1770 L663.23,1769.23 L663.76,1768.77 L664.3,1769.22 L664.84,1769.39 L665.38,1768.8 L665.91,1768.58 L666.45,1768.98 L666.99,1768.52 L667.52,1768.22 L668.06,1768.73 L668.6,1768.93 L669.14,1768.33 L669.67,1768.3 L670.21,1767.83 L670.75,1768.86 L671.29,1768.5 L671.82,1768.5 L672.36,1768.84 L672.9,1767.9 L673.44,1767.64 L673.97,1768.14 L674.51,1767.09 L675.05,1767.27 L675.58,1767.27 L676.12,1767.3 L676.66,1766.96 L677.2,1767.93 L677.73,1766.95 L678.27,1766.87 L678.81,1767.87 L679.35,1766.81 L679.88,1767 L680.42,1766.43 L680.96,1766.91 L681.49,1766.62 L682.03,1766.36 L682.57,1766.83 L683.11,1766.06 L683.64,1766.29 L684.18,1765.92 L684.72,1766.29 L685.26,1765.45 L685.79,1765.57 L686.33,1765.83 L686.87,1765.36 L687.4,1764.97 L687.94,1764.62 L688.48,1766.06 L689.02,1764.82 L689.55,1764.91 L690.09,1765.06 L690.63,1765.37 L691.17,1764.22 L691.7,1765.26 L692.24,1764.31 L692.78,1763.85 L693.32,1765.07 L693.85,1764.36 L694.39,1764.7 L694.93,1763.87 L695.46,1763.16 L696,1762.8 L696.54,1764.43 L697.08,1763.75 L697.61,1763.03 L698.15,1762.5 L698.69,1762.9 L699.23,1763.3 L699.76,1762.69 L700.3,1762.7 L700.84,1762.64 L701.37,1762.75 L701.91,1762.09 L702.45,1761.98 L702.99,1762.02 L703.52,1761.94 L704.06,1762.27 L704.6,1761.76 L705.14,1760.82 L705.67,1761.31 L706.21,1761.73 L706.75,1760.29 L707.28,1760.5 L707.82,1759.61 L708.36,1760.39 L708.9,1760.46 L709.43,1760.74 L709.97,1759.3 L710.51,1758.55 L711.05,1759.93 L711.58,1759.67 L712.12,1758.91 L712.66,1759.39 L713.19,1758.94 L713.73,1758.79 L714.27,1758.34 L714.81,1757.73 L715.34,1758.03 L715.88,1757.41 L716.42,1757.82 L716.96,1757.27 L717.49,1758.19 L718.03,1757.66 L718.57,1756.41 L719.11,1756.83 L719.64,1756.07 L720.18,1755.86 L720.72,1755.27 L721.25,1755.27 L721.79,1754.94 L722.33,1755.22 L722.87,1755.24 L723.4,1755.01 L723.94,1754.64 L724.48,1754.68 L725.02,1754.15 L725.55,1753.68 L726.09,1753.25 L726.63,1753.25 L727.16,1753.7 L727.7,1752.57 L728.24,1752.15 L728.78,1751.46 L729.31,1751.4 L729.85,1751.67 L730.39,1751.4 L730.93,1749.83 L731.46,1750.1 L732,1749.28 L732.54,1748.82 L733.07,1749.85 L733.61,1748.96 L734.15,1748.59 L734.69,1748.2 L735.22,1747.85 L735.76,1747.66 L736.3,1747.31 L736.84,1747.71 L737.37,1746.72 L737.91,1746.61 L738.45,1745.82 L738.99,1745.71 L739.52,1744.81 L740.06,1744.31 L740.6,1744.14 L741.13,1743.72 L741.67,1743.4 L742.21,1743.22 L742.75,1742.65 L743.28,1742.36 L743.82,1741.5 L744.36,1741.22 L744.9,1740.49 L745.43,1740.9 L745.97,1739.4 L746.51,1739.68 L747.04,1739.17 L747.58,1738.42 L748.12,1738.08 L748.66,1737.17 L749.19,1737.03 L749.73,1736.71 L750.27,1736.05 L750.81,1734.49 L751.34,1734.5 L751.88,1734.48 L752.42,1733.35 L752.95,1733.47 L753.49,1731.33 L754.03,1732.24 L754.57,1730.7 L755.1,1730.04 L755.64,1730.32 L756.18,1728.88 L756.72,1727.9 L757.25,1727.48 L757.79,1726.91 L758.33,1725.92 L758.86,1725.6 L759.4,1724.82 L759.94,1724.33 L760.48,1723.28 L761.01,1723.28 L761.55,1721.76 L762.09,1721.62 L762.63,1721.15 L763.16,1719.74 L763.7,1718.37 L764.24,1717.94 L764.78,1717.85 L765.31,1716.52 L765.85,1716.26 L766.39,1715.32 L766.92,1714.42 L767.46,1714.73 L768,1712.76 L768.54,1712.5 L769.07,1711.53 L769.61,1711.05 L770.15,1710.24 L770.69,1709.13 L771.22,1707.47 L771.76,1706.23 L772.3,1706.15 L772.83,1704.78 L773.37,1704.54 L773.91,1704.42 L774.45,1702.6 L774.98,1701.59 L775.52,1701.11 L776.06,1699.88 L776.6,1698.87 L777.13,1698.64 L777.67,1698.03 L778.21,1696.56 L778.74,1695.65 L779.28,1694.82 L779.82,1693.3 L780.36,1692.06 L780.89,1692.15 L781.43,1690.73 L781.97,1689.72 L782.51,1688.92 L783.04,1687.86 L783.58,1687.62 L784.12,1686.2 L784.66,1684.71 L785.19,1684.38 L785.73,1684.13 L786.27,1682.68 L786.8,1681.48 L787.34,1681.01 L787.88,1680.55 L788.42,1678.7 L788.95,1679.11 L789.49,1677.42 L790.03,1676.79 L790.57,1676.47 L791.1,1674.5 L791.64,1674.04 L792.18,1673.89 L792.71,1672.22 L793.25,1671.86 L793.79,1671.7 L794.33,1670.31 L794.86,1669.05 L795.4,1668.06 L795.94,1667.46 L796.48,1666.72 L797.01,1665.72 L797.55,1665.24 L798.09,1663.82 L798.62,1663.52 L799.16,1662.68 L799.7,1661.8 L800.24,1661.78 L800.77,1660.87 L801.31,1659.1 L801.85,1658.92 L802.39,1658.48 L802.92,1657.48 L803.46,1657.15 L804,1656.1 L804.54,1655.84 L805.07,1654.72 L805.61,1654.89 L806.15,1652.89 L806.68,1653.08 L807.22,1652.91 L807.76,1651.65 L808.3,1651.08 L808.83,1650.21 L809.37,1650.18 L809.91,1648.86 L810.45,1646.77 L810.98,1648.43 L811.52,1647.1 L812.06,1646.82 L812.59,1646.02 L813.13,1646.37 L813.67,1645.51 L814.21,1644.22 L814.74,1643.91 L815.28,1642.62 L815.82,1643.19 L816.36,1642.29 L816.89,1640.53 L817.43,1641.74 L817.97,1641.33 L818.5,1640.46 L819.04,1640 L819.58,1639.13 L820.12,1639.01 L820.65,1638.97 L821.19,1638.09 L821.73,1636.55 L822.27,1636.75 L822.8,1638.2 L823.34,1636.58 L823.88,1636.51 L824.41,1635.42 L824.95,1635.4 L825.49,1634.04 L826.03,1634.13 L826.56,1633.77 L827.1,1633.73 L827.64,1633.47 L828.18,1632.94 L828.71,1632.15 L829.25,1632.16 L829.79,1632.22 L830.33,1631.14 L830.86,1631.31 L831.4,1631.11 L831.94,1631.12 L832.47,1630.7 L833.01,1630.43 L833.55,1631.12 L834.09,1629.06 L834.62,1628.98 L835.16,1629.05 L835.7,1628.18 L836.24,1628.18 L836.77,1627.93 L837.31,1628.97 L837.85,1627.67 L838.38,1627.05 L838.92,1626.3 L839.46,1625.93 L840,1625.87 L840.53,1626.81 L841.07,1627.05 L841.61,1625.53 L842.15,1625.54 L842.68,1624.88 L843.22,1625.15 L843.76,1624.76 L844.29,1625.33 L844.83,1624.21 L845.37,1624.41 L845.91,1623.83 L846.44,1623.57 L846.98,1623.62 L847.52,1623.22 L848.06,1623.17 L848.59,1622.62 L849.13,1622.54 L849.67,1622.83 L850.21,1622.66 L850.74,1621.39 L851.28,1622.06 L851.82,1621.37 L852.35,1621.47 L852.89,1621.73 L853.43,1621.64 L853.97,1621.07 L854.5,1620.83 L855.04,1620.5 L855.58,1621.2 L856.12,1620.73 L856.65,1620.34 L857.19,1619.4 L857.73,1621.06 L858.26,1619.62 L858.8,1619.92 L859.34,1619.32 L859.88,1619.59 L860.41,1619.05 L860.95,1618.35 L861.49,1618.77 L862.03,1618.59 L862.56,1618.48 L863.1,1618.86 L863.64,1618.13 L864.17,1618.34 L864.71,1618.48 L865.25,1617.99 L865.79,1617.95 L866.32,1617.37 L866.86,1617.61 L867.4,1617.71 L867.94,1616.67 L868.47,1616.77 L869.01,1616.52 L869.55,1616.7 L870.08,1616.91 L870.62,1616.94 L871.16,1616.76 L871.7,1616.08 L872.23,1616.35 L872.77,1616.98 L873.31,1616.2 L873.85,1616.73 L874.38,1615.89 L874.92,1616.42 L875.46,1616.34 L876,1615.6 L876.53,1615.59 L877.07,1616.22 L877.61,1615.01 L878.14,1614.26 L878.68,1615.84 L879.22,1614.22 L879.76,1615.28 L880.29,1615.09 L880.83,1614.85 L881.37,1615.34 L881.91,1613.99 L882.44,1614.27 L882.98,1614.75 L883.52,1614.44 L884.05,1614.93 L884.59,1614.3 L885.13,1613.62 L885.67,1614.76 L886.2,1614.09 L886.74,1613.73 L887.28,1613.24 L887.82,1613.02 L888.35,1613.77 L888.89,1613.82 L889.43,1613.19 L889.96,1613.48 L890.5,1613.38 L891.04,1612.66 L891.58,1612.31 L892.11,1612.89 L892.65,1613.02 L893.19,1612.6 L893.73,1613.65 L894.26,1612.72 L894.8,1613.13 L895.34,1611.47 L895.88,1612.17 L896.41,1612.36 L896.95,1612.45 L897.49,1613.45 L898.02,1611.89 L898.56,1611.4 L899.1,1612.42 L899.64,1611.71 L900.17,1611.62 L900.71,1612.6 L901.25,1611.39 L901.79,1611.14 L902.32,1611.59 L902.86,1611.66 L903.4,1611.21 L903.93,1612.22 L904.47,1611.41 L905.01,1610.9 L905.55,1611.9 L906.08,1610.81 L906.62,1611.4 L907.16,1612.11 L907.7,1611.14 L908.23,1611.48 L908.77,1610.83 L909.31,1611.46 L909.84,1610.38 L910.38,1611.15 L910.92,1610.59 L911.46,1610.97 L911.99,1610.79 L912.53,1610.04 L913.07,1610.44 L913.61,1610.66 L914.14,1611.01 L914.68,1609.84 L915.22,1609.99 L915.76,1610.42" fill="none" stroke="#dddb98" stroke-width="6" stroke-linecap="butt" stroke-linejoin="round" />
<path d="M668.5,1767.47 L669.26,1767.37 L670.01,1767.26 L670.77,1767.16 L671.53,1767.05 L672.28,1766.95 L673.04,1766.84 L673.8,1766.73 L674.56,1766.61 L675.31,1766.5 L676.07,1766.38 L676.83,1766.27 L677.58,1766.15 L678.34,1766.03 L679.1,1765.91 L679.86,1765.78 L680.61,1765.66 L681.37,1765.53 L682.13,1765.4 L682.88,1765.27 L683.64,1765.14 L684.4,1765 L685.16,1764.86 L685.91,1764.72 L686.67,1764.58 L687.43,1764.44 L688.19,1764.29 L688.94,1764.14 L689.7,1763.99 L690.46,1763.84 L691.21,1763.68 L691.97,1763.52 L692.73,1763.36 L693.49,1763.2 L694.24,1763.03 L695,1762.86 L695.76,1762.69 L696.51,1762.51 L697.27,1762.33 L698.03,1762.15 L698.79,1761.96 L699.54,1761.78 L700.3,1761.58 L701.06,1761.39 L701.81,1761.19 L702.57,1760.99 L703.33,1760.78 L704.09,1760.57 L704.84,1760.36 L705.6,1760.14 L706.36,1759.92 L707.12,1759.69 L707.87,1759.46 L708.63,1759.23 L709.39,1758.99 L710.14,1758.74 L710.9,1758.5 L711.66,1758.24 L712.42,1757.98 L713.17,1757.72 L713.93,1757.45 L714.69,1757.17 L715.44,1756.89 L716.2,1756.61 L716.96,1756.32 L717.72,1756.02 L718.47,1755.71 L719.23,1755.4 L719.99,1755.09 L720.75,1754.76 L721.5,1754.43 L722.26,1754.09 L723.02,1753.75 L723.77,1753.39 L724.53,1753.03 L725.29,1752.66 L726.05,1752.29 L726.8,1751.9 L727.56,1751.51 L728.32,1751.11 L729.07,1750.7 L729.83,1750.28 L730.59,1749.85 L731.35,1749.41 L732.1,1748.96 L732.86,1748.5 L733.62,1748.03 L734.37,1747.55 L735.13,1747.06 L735.89,1746.56 L736.65,1746.05 L737.4,1745.52 L738.16,1744.98 L738.92,1744.44 L739.68,1743.88 L740.43,1743.3 L741.19,1742.72 L741.95,1742.12 L742.7,1741.51 L743.46,1740.88 L744.22,1740.24 L744.98,1739.59 L745.73,1738.92 L746.49,1738.24 L747.25,1737.54 L748,1736.83 L748.76,1736.1 L749.52,1735.36 L750.28,1734.6 L751.03,1733.83 L751.79,1733.04 L752.55,1732.24 L753.3,1731.42 L754.06,1730.58 L754.82,1729.73 L755.58,1728.86 L756.33,1727.98 L757.09,1727.08 L757.85,1726.16 L758.61,1725.23 L759.36,1724.28 L760.12,1723.32 L760.88,1722.34 L761.63,1721.34 L762.39,1720.33 L763.15,1719.31 L763.91,1718.26 L764.66,1717.21 L765.42,1716.14 L766.18,1715.05 L766.93,1713.96 L767.69,1712.85 L768.45,1711.72 L769.21,1710.58 L769.96,1709.44 L770.72,1708.28 L771.48,1707.11 L772.23,1705.93 L772.99,1704.74 L773.75,1703.54 L774.51,1702.33 L775.26,1701.12 L776.02,1699.9 L776.78,1698.67 L777.54,1697.44 L778.29,1696.2 L779.05,1694.96 L779.81,1693.72 L780.56,1692.47 L781.32,1691.22 L782.08,1689.98 L782.84,1688.73 L783.59,1687.48 L784.35,1686.24 L785.11,1685 L785.86,1683.76 L786.62,1682.53 L787.38,1681.3 L788.14,1680.08 L788.89,1678.87 L789.65,1677.66 L790.41,1676.46 L791.17,1675.27 L791.92,1674.09 L792.68,1672.92 L793.44,1671.76 L794.19,1670.62 L794.95,1669.48 L795.71,1668.35 L796.47,1667.24 L797.22,1666.15 L797.98,1665.06 L798.74,1663.99 L799.49,1662.94 L800.25,1661.89 L801.01,1660.87 L801.77,1659.86 L802.52,1658.86 L803.28,1657.88 L804.04,1656.92 L804.79,1655.97 L805.55,1655.04 L806.31,1654.12 L807.07,1653.22 L807.82,1652.34 L808.58,1651.47 L809.34,1650.62 L810.1,1649.78 L810.85,1648.96 L811.61,1648.16 L812.37,1647.37 L813.12,1646.6 L813.88,1645.84 L814.64,1645.1 L815.4,1644.37 L816.15,1643.66 L816.91,1642.96 L817.67,1642.28 L818.42,1641.61 L819.18,1640.96 L819.94,1640.32 L820.7,1639.69 L821.45,1639.08 L822.21,1638.48 L822.97,1637.9 L823.72,1637.32 L824.48,1636.76 L825.24,1636.22 L826,1635.68 L826.75,1635.15 L827.51,1634.64 L828.27,1634.14 L829.03,1633.65 L829.78,1633.17 L830.54,1632.7 L831.3,1632.24 L832.05,1631.79 L832.81,1631.35 L833.57,1630.92 L834.33,1630.5 L835.08,1630.09 L835.84,1629.69 L836.6,1629.3 L837.35,1628.91 L838.11,1628.54 L838.87,1628.17 L839.63,1627.81 L840.38,1627.45 L841.14,1627.11 L841.9,1626.77 L842.65,1626.44 L843.41,1626.11 L844.17,1625.8 L844.93,1625.49 L845.68,1625.18 L846.44,1624.88 L847.2,1624.59 L847.96,1624.31 L848.71,1624.03 L849.47,1623.75 L850.23,1623.48 L850.98,1623.22 L851.74,1622.96 L852.5,1622.7 L853.26,1622.46 L854.01,1622.21 L854.77,1621.97 L855.53,1621.74 L856.28,1621.51 L857.04,1621.28 L857.8,1621.06 L858.56,1620.84 L859.31,1620.63 L860.07,1620.42 L860.83,1620.21 L861.59,1620.01 L862.34,1619.81 L863.1,1619.62 L863.86,1619.42 L864.61,1619.24 L865.37,1619.05 L866.13,1618.87 L866.89,1618.69 L867.64,1618.51 L868.4,1618.34 L869.16,1618.17 L869.91,1618 L870.67,1617.84 L871.43,1617.68 L872.19,1617.52 L872.94,1617.36 L873.7,1617.21 L874.46,1617.06 L875.21,1616.91 L875.97,1616.76 L876.73,1616.62 L877.49,1616.48 L878.24,1616.34 L879,1616.2 L879.76,1616.06 L880.52,1615.93 L881.27,1615.8 L882.03,1615.67 L882.79,1615.54 L883.54,1615.42 L884.3,1615.29 L885.06,1615.17 L885.82,1615.05 L886.57,1614.93 L887.33,1614.82 L888.09,1614.7 L888.84,1614.59 L889.6,1614.47 L890.36,1614.36 L891.12,1614.25 L891.87,1614.15 L892.63,1614.04 L893.39,1613.94 L894.14,1613.83 L894.9,1613.73" fill="none" stroke="#3e5c66" stroke-width="3.2" stroke-linecap="butt" stroke-linejoin="round" />
<path d="M630.76,1771.25 L631.75,1771.18 L632.74,1771.1 L633.73,1771.02 L634.72,1770.94 L635.71,1770.87 L636.7,1770.79 L637.69,1770.7 L638.68,1770.62 L639.67,1770.54 L640.66,1770.45 L641.65,1770.37 L642.64,1770.28 L643.63,1770.19 L644.62,1770.1 L645.61,1770.01 L646.6,1769.92 L647.59,1769.83 L648.58,1769.73 L649.57,1769.64 L650.56,1769.54 L651.55,1769.44 L652.54,1769.34 L653.53,1769.24 L654.52,1769.13 L655.51,1769.03 L656.5,1768.92 L657.49,1768.81 L658.48,1768.7 L659.46,1768.59 L660.45,1768.47 L661.44,1768.36 L662.43,1768.24 L663.42,1768.12 L664.41,1768 L665.4,1767.87 L666.39,1767.74 L667.38,1767.62 L668.37,1767.49 L669.36,1767.35 L670.35,1767.22 L671.34,1767.08 L672.33,1766.94 L673.32,1766.8 L674.31,1766.65 L675.3,1766.5 L676.29,1766.35 L677.28,1766.2 L678.27,1766.04 L679.26,1765.88 L680.25,1765.72 L681.24,1765.55 L682.23,1765.38 L683.22,1765.21 L684.21,1765.03 L685.2,1764.85 L686.19,1764.67 L687.18,1764.48 L688.17,1764.29 L689.16,1764.1 L690.14,1763.9 L691.13,1763.7 L692.12,1763.49 L693.11,1763.28 L694.1,1763.06 L695.09,1762.84 L696.08,1762.61 L697.07,1762.38 L698.06,1762.14 L699.05,1761.9 L700.04,1761.65 L701.03,1761.4 L702.02,1761.14 L703.01,1760.87 L704,1760.6 L704.99,1760.32 L705.98,1760.03 L706.97,1759.74 L707.96,1759.44 L708.95,1759.13 L709.94,1758.81 L710.93,1758.49 L711.92,1758.15 L712.91,1757.81 L713.9,1757.46 L714.89,1757.1 L715.88,1756.73 L716.87,1756.35 L717.86,1755.96 L718.85,1755.56 L719.84,1755.15 L720.82,1754.73 L721.81,1754.29 L722.8,1753.84 L723.79,1753.38 L724.78,1752.91 L725.77,1752.42 L726.76,1751.92 L727.75,1751.41 L728.74,1750.88 L729.73,1750.33 L730.72,1749.77 L731.71,1749.19 L732.7,1748.6 L733.69,1747.98 L734.68,1747.35 L735.67,1746.7 L736.66,1746.04 L737.65,1745.35 L738.64,1744.64 L739.63,1743.91 L740.62,1743.16 L741.61,1742.39 L742.6,1741.59 L743.59,1740.77 L744.58,1739.93 L745.57,1739.07 L746.56,1738.18 L747.55,1737.26 L748.54,1736.32 L749.53,1735.35 L750.52,1734.36 L751.5,1733.34 L752.49,1732.3 L753.48,1731.22 L754.47,1730.12 L755.46,1728.99 L756.45,1727.84 L757.44,1726.66 L758.43,1725.45 L759.42,1724.21 L760.41,1722.94 L761.4,1721.65 L762.39,1720.33 L763.38,1718.99 L764.37,1717.62 L765.36,1716.22 L766.35,1714.81 L767.34,1713.36 L768.33,1711.9 L769.32,1710.41 L770.31,1708.91 L771.3,1707.39 L772.29,1705.84 L773.28,1704.29 L774.27,1702.71 L775.26,1701.13 L776.25,1699.53 L777.24,1697.92 L778.23,1696.31 L779.22,1694.69 L780.21,1693.06 L781.2,1691.43 L782.18,1689.8 L783.17,1688.17 L784.16,1686.55 L785.15,1684.92 L786.14,1683.31 L787.13,1681.7 L788.12,1680.1 L789.11,1678.52 L790.1,1676.95 L791.09,1675.39 L792.08,1673.85 L793.07,1672.32 L794.06,1670.82 L795.05,1669.33 L796.04,1667.87 L797.03,1666.42 L798.02,1665 L799.01,1663.61 L800,1662.24 L800.99,1660.89 L801.98,1659.58 L802.97,1658.28 L803.96,1657.02 L804.95,1655.78 L805.94,1654.57 L806.93,1653.38 L807.92,1652.23 L808.91,1651.1 L809.9,1650 L810.89,1648.93 L811.88,1647.88 L812.86,1646.86 L813.85,1645.87 L814.84,1644.9 L815.83,1643.96 L816.82,1643.04 L817.81,1642.15 L818.8,1641.28 L819.79,1640.44 L820.78,1639.62 L821.77,1638.83 L822.76,1638.06 L823.75,1637.3 L824.74,1636.57 L825.73,1635.87 L826.72,1635.18 L827.71,1634.51 L828.7,1633.86 L829.69,1633.23 L830.68,1632.61 L831.67,1632.02 L832.66,1631.44 L833.65,1630.88 L834.64,1630.33 L835.63,1629.8 L836.62,1629.29 L837.61,1628.79 L838.6,1628.3 L839.59,1627.83 L840.58,1627.37 L841.57,1626.92 L842.56,1626.48 L843.54,1626.06 L844.53,1625.65 L845.52,1625.25 L846.51,1624.86 L847.5,1624.48 L848.49,1624.11 L849.48,1623.75 L850.47,1623.39 L851.46,1623.05 L852.45,1622.72 L853.44,1622.39 L854.43,1622.08 L855.42,1621.77 L856.41,1621.47 L857.4,1621.17 L858.39,1620.89 L859.38,1620.61 L860.37,1620.34 L861.36,1620.07 L862.35,1619.81 L863.34,1619.55 L864.33,1619.31 L865.32,1619.06 L866.31,1618.83 L867.3,1618.59 L868.29,1618.37 L869.28,1618.15 L870.27,1617.93 L871.26,1617.72 L872.25,1617.51 L873.24,1617.3 L874.23,1617.11 L875.21,1616.91 L876.2,1616.72 L877.19,1616.53 L878.18,1616.35 L879.17,1616.17 L880.16,1615.99 L881.15,1615.82 L882.14,1615.65 L883.13,1615.49 L884.12,1615.32 L885.11,1615.16 L886.1,1615.01 L887.09,1614.85 L888.08,1614.7 L889.07,1614.55 L890.06,1614.41 L891.05,1614.26 L892.04,1614.12 L893.03,1613.99 L894.02,1613.85 L895.01,1613.72 L896,1613.59 L896.99,1613.46 L897.98,1613.33 L898.97,1613.21 L899.96,1613.09 L900.95,1612.96 L901.94,1612.85 L902.93,1612.73 L903.92,1612.62 L904.91,1612.5 L905.89,1612.39 L906.88,1612.28 L907.87,1612.18 L908.86,1612.07 L909.85,1611.97 L910.84,1611.86 L911.83,1611.76 L912.82,1611.66 L913.81,1611.57 L914.8,1611.47 L915.79,1611.37 L916.78,1611.28 L917.77,1611.19 L918.76,1611.1 L919.75,1611.01 L920.74,1610.92 L921.73,1610.83 L922.72,1610.75 L923.71,1610.66 L924.7,1610.58 L925.69,1610.5 L926.68,1610.42" fill="none" stroke="#000" stroke-width="1.8" stroke-linecap="butt" stroke-linejoin="round" stroke-dasharray="4 3" />
<rect x="632.9" y="1598.6" width="298.1" height="183.8" fill="none" stroke="#000" stroke-width="1.5"/>
<text x="632.75" y="1806.5" font-size="20" text-anchor="middle" >&#8211;1.5</text>
<text x="682.4" y="1806.5" font-size="20" text-anchor="middle" >&#8211;1</text>
<text x="732.05" y="1806.5" font-size="20" text-anchor="middle" >&#8211;0.5</text>
<text x="781.7" y="1806.5" font-size="20" text-anchor="middle" >0</text>
<text x="831.35" y="1806.5" font-size="20" text-anchor="middle" >0.5</text>
<text x="881" y="1806.5" font-size="20" text-anchor="middle" >1</text>
<text x="930.65" y="1806.5" font-size="20" text-anchor="middle" >1.5</text>
<text x="940.5" y="1605.8" font-size="20" text-anchor="start" >1</text>
<text x="940.5" y="1651.8" font-size="20" text-anchor="start" >0.5</text>
<text x="940.5" y="1697.8" font-size="20" text-anchor="start" >0</text>
<text x="940.5" y="1743.8" font-size="20" text-anchor="start" >&#8211;0.5</text>
<text x="940.5" y="1789.8" font-size="20" text-anchor="start" >&#8211;1</text>
<text x="710.5" y="1662.8" font-size="20.6" text-anchor="start" >10 K</text>
<text x="752" y="1836.3" font-size="20" text-anchor="middle" ><tspan font-style="italic">&#956;</tspan><tspan font-size="15.5" dy="5.5">0</tspan><tspan font-style="italic" dy="-5.5">H</tspan> (<tspan font-style="italic">T</tspan>)</text>
<line x1="714.5" y1="1851.3" x2="790" y2="1851.3" stroke="#000" stroke-width="1.3" />
<text x="753" y="1876.2" font-size="20" text-anchor="middle" ><tspan font-style="italic">T</tspan> (<tspan font-style="italic">K</tspan>)</text>
<text x="797.8" y="1858.5" font-size="20" text-anchor="start" >(1+<tspan font-style="italic">J&#951;</tspan>)</text>
<text transform="translate(618,1691) rotate(-90)" font-size="20" text-anchor="middle"><tspan font-style="italic">&#956;</tspan><tspan font-size="14" dy="4">Gd</tspan><tspan dy="-4">/(1+</tspan><tspan font-style="italic">J&#951;</tspan>)</text>
</svg></body></html>
